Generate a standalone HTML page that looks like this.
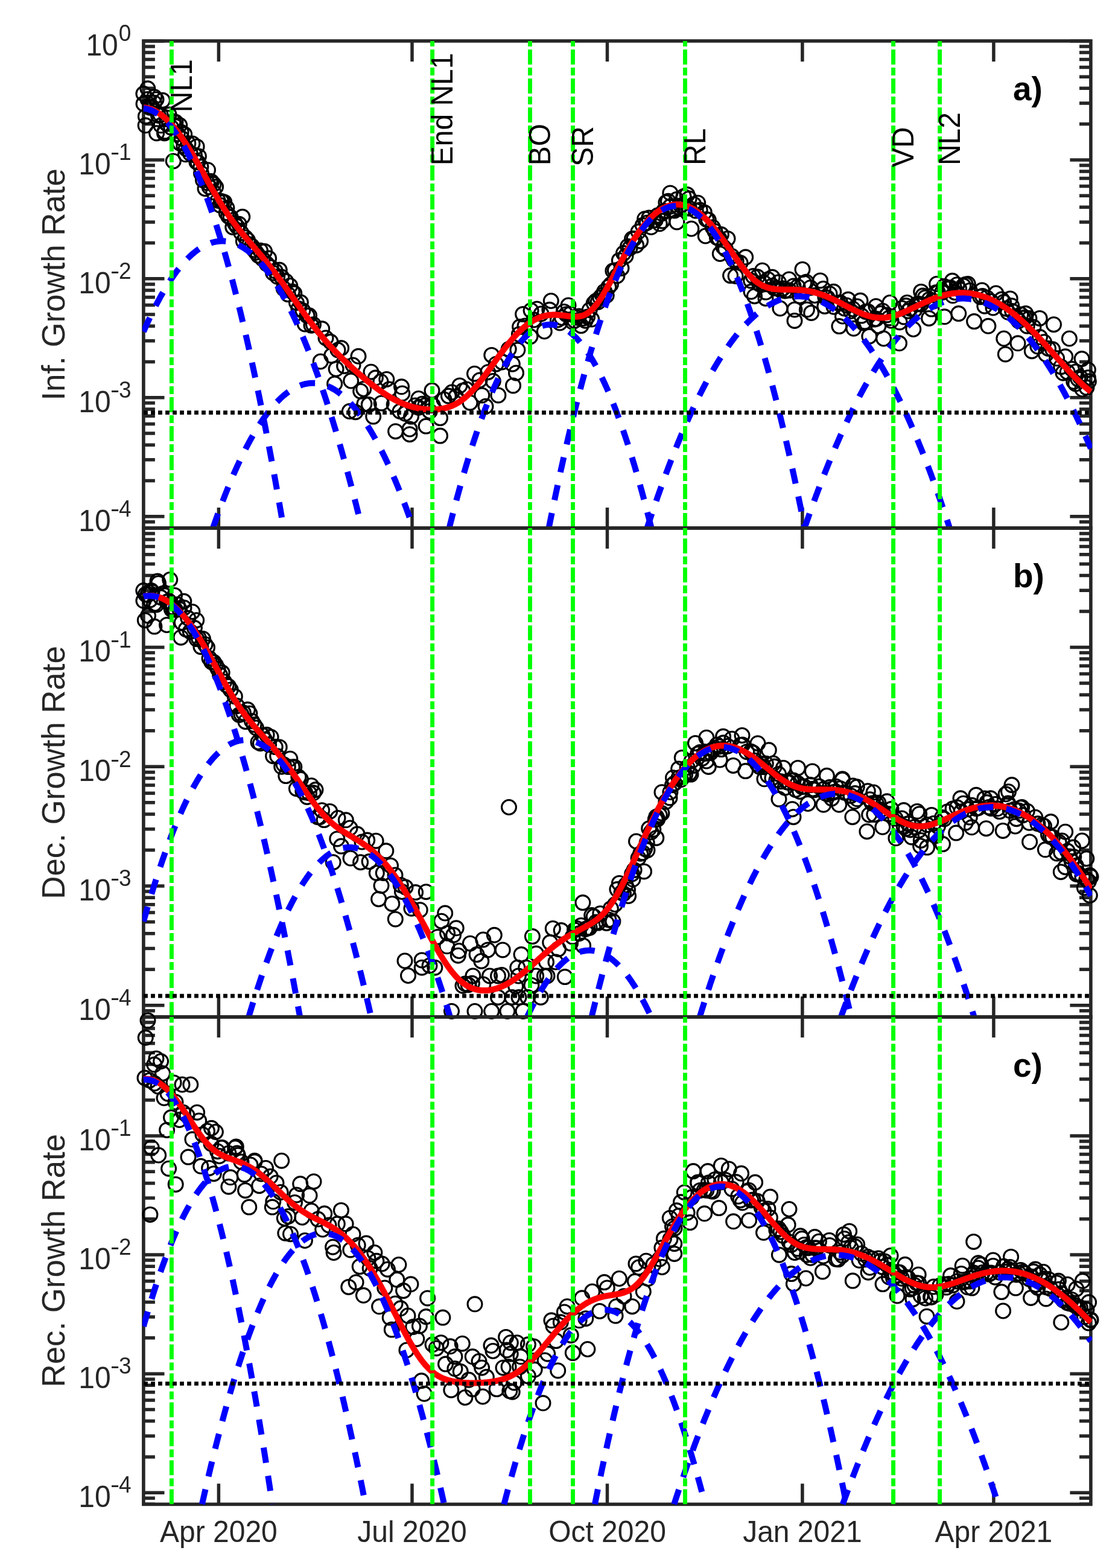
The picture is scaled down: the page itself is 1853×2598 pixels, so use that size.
<!DOCTYPE html><html><head><meta charset="utf-8"><style>html,body{margin:0;padding:0;background:#fff;}svg{display:block;}text{font-family:"Liberation Sans",Arial,Helvetica,sans-serif;}</style></head><body>
<svg xmlns="http://www.w3.org/2000/svg" width="1853" height="2598" viewBox="0 0 1853 2598">
<rect width="1853" height="2598" fill="#fff"/>
<defs><clipPath id="clipa"><rect x="235.9" y="65.9" width="1574" height="811"/></clipPath></defs>
<rect x="237.9" y="67.9" width="1570" height="807" fill="none" stroke="#262626" stroke-width="5.6"/>
<path d="M237.9,67.9H272.5 M1808,67.9H1773.4 M237.9,205.6H256.9 M1808,205.6H1789 M237.9,170.9H256.9 M1808,170.9H1789 M237.9,146.3H256.9 M1808,146.3H1789 M237.9,127.2H256.9 M1808,127.2H1789 M237.9,111.6H256.9 M1808,111.6H1789 M237.9,98.4H256.9 M1808,98.4H1789 M237.9,87H256.9 M1808,87H1789 M237.9,76.9H256.9 M1808,76.9H1789 M237.9,264.9H272.5 M1808,264.9H1773.4 M237.9,402.5H256.9 M1808,402.5H1789 M237.9,367.9H256.9 M1808,367.9H1789 M237.9,343.3H256.9 M1808,343.3H1789 M237.9,324.2H256.9 M1808,324.2H1789 M237.9,308.6H256.9 M1808,308.6H1789 M237.9,295.4H256.9 M1808,295.4H1789 M237.9,284H256.9 M1808,284H1789 M237.9,273.9H256.9 M1808,273.9H1789 M237.9,461.8H272.5 M1808,461.8H1773.4 M237.9,599.5H256.9 M1808,599.5H1789 M237.9,564.8H256.9 M1808,564.8H1789 M237.9,540.2H256.9 M1808,540.2H1789 M237.9,521.1H256.9 M1808,521.1H1789 M237.9,505.5H256.9 M1808,505.5H1789 M237.9,492.4H256.9 M1808,492.4H1789 M237.9,480.9H256.9 M1808,480.9H1789 M237.9,470.9H256.9 M1808,470.9H1789 M237.9,658.8H272.5 M1808,658.8H1773.4 M237.9,796.5H256.9 M1808,796.5H1789 M237.9,761.8H256.9 M1808,761.8H1789 M237.9,737.2H256.9 M1808,737.2H1789 M237.9,718.1H256.9 M1808,718.1H1789 M237.9,702.5H256.9 M1808,702.5H1789 M237.9,689.3H256.9 M1808,689.3H1789 M237.9,677.9H256.9 M1808,677.9H1789 M237.9,667.8H256.9 M1808,667.8H1789 M237.9,855.8H272.5 M1808,855.8H1773.4 M237.9,874.9H256.9 M1808,874.9H1789 M237.9,864.8H256.9 M1808,864.8H1789 M237.9,864.8H256.9 M1808,864.8H1789 M237.9,874.9H256.9 M1808,874.9H1789 M362.4,874.9V840.9 M362.4,67.9V101.9 M683,874.9V840.9 M683,67.9V101.9 M1006.5,874.9V840.9 M1006.5,67.9V101.9 M1329.9,874.9V840.9 M1329.9,67.9V101.9 M1646.9,874.9V840.9 M1646.9,67.9V101.9" stroke="#262626" stroke-width="5.5" fill="none"/>
<g fill="none" stroke="#000" stroke-width="3.1"><circle cx="237.9" cy="155.3" r="11.95"/><circle cx="241.4" cy="192.9" r="11.95"/><circle cx="244.9" cy="164.5" r="11.95"/><circle cx="248.5" cy="173.7" r="11.95"/><circle cx="252" cy="177.3" r="11.95"/><circle cx="255.5" cy="170.5" r="11.95"/><circle cx="259" cy="164.7" r="11.95"/><circle cx="262.5" cy="191.5" r="11.95"/><circle cx="266.1" cy="190.2" r="11.95"/><circle cx="269.6" cy="166.3" r="11.95"/><circle cx="273.1" cy="217.8" r="11.95"/><circle cx="276.6" cy="205.3" r="11.95"/><circle cx="280.1" cy="190.1" r="11.95"/><circle cx="283.7" cy="211.1" r="11.95"/><circle cx="287.2" cy="201.1" r="11.95"/><circle cx="290.7" cy="209.4" r="11.95"/><circle cx="294.2" cy="221.9" r="11.95"/><circle cx="297.7" cy="207.5" r="11.95"/><circle cx="301.3" cy="229.2" r="11.95"/><circle cx="304.8" cy="241.8" r="11.95"/><circle cx="308.3" cy="246.5" r="11.95"/><circle cx="311.8" cy="237.7" r="11.95"/><circle cx="315.3" cy="254.2" r="11.95"/><circle cx="318.9" cy="237.9" r="11.95"/><circle cx="322.4" cy="256.9" r="11.95"/><circle cx="325.9" cy="268.4" r="11.95"/><circle cx="329.4" cy="259" r="11.95"/><circle cx="332.9" cy="276.4" r="11.95"/><circle cx="336.5" cy="298.4" r="11.95"/><circle cx="340" cy="312.5" r="11.95"/><circle cx="343.5" cy="303" r="11.95"/><circle cx="347" cy="309.8" r="11.95"/><circle cx="350.5" cy="301" r="11.95"/><circle cx="354.1" cy="305.2" r="11.95"/><circle cx="357.6" cy="309.7" r="11.95"/><circle cx="361.1" cy="332.2" r="11.95"/><circle cx="364.6" cy="339.9" r="11.95"/><circle cx="368.2" cy="333.9" r="11.95"/><circle cx="371.7" cy="334.9" r="11.95"/><circle cx="375.2" cy="352.7" r="11.95"/><circle cx="378.7" cy="358.4" r="11.95"/><circle cx="382.2" cy="360" r="11.95"/><circle cx="385.8" cy="376.4" r="11.95"/><circle cx="389.3" cy="370.1" r="11.95"/><circle cx="392.8" cy="375.1" r="11.95"/><circle cx="396.3" cy="371.3" r="11.95"/><circle cx="399.8" cy="385.8" r="11.95"/><circle cx="403.4" cy="399.8" r="11.95"/><circle cx="406.9" cy="393.7" r="11.95"/><circle cx="410.4" cy="397.9" r="11.95"/><circle cx="413.9" cy="405" r="11.95"/><circle cx="417.4" cy="407.8" r="11.95"/><circle cx="421" cy="414" r="11.95"/><circle cx="424.5" cy="418.2" r="11.95"/><circle cx="428" cy="423.1" r="11.95"/><circle cx="431.5" cy="415.2" r="11.95"/><circle cx="435" cy="428.8" r="11.95"/><circle cx="438.6" cy="416.6" r="11.95"/><circle cx="442.1" cy="437.1" r="11.95"/><circle cx="445.6" cy="428.1" r="11.95"/><circle cx="449.1" cy="443" r="11.95"/><circle cx="452.6" cy="452.3" r="11.95"/><circle cx="456.2" cy="449" r="11.95"/><circle cx="459.7" cy="458.3" r="11.95"/><circle cx="463.2" cy="447.3" r="11.95"/><circle cx="466.7" cy="459.1" r="11.95"/><circle cx="470.2" cy="478.1" r="11.95"/><circle cx="473.8" cy="466" r="11.95"/><circle cx="477.3" cy="487.6" r="11.95"/><circle cx="480.8" cy="473.5" r="11.95"/><circle cx="484.3" cy="483" r="11.95"/><circle cx="487.8" cy="486.1" r="11.95"/><circle cx="491.4" cy="501.5" r="11.95"/><circle cx="494.9" cy="511.6" r="11.95"/><circle cx="498.4" cy="501.1" r="11.95"/><circle cx="501.9" cy="514.6" r="11.95"/><circle cx="505.4" cy="537" r="11.95"/><circle cx="509" cy="522.9" r="11.95"/><circle cx="512.5" cy="522.7" r="11.95"/><circle cx="516" cy="539.3" r="11.95"/><circle cx="519.5" cy="537.8" r="11.95"/><circle cx="924.4" cy="530" r="11.95"/><circle cx="927.9" cy="535" r="11.95"/><circle cx="931.4" cy="526.5" r="11.95"/><circle cx="934.9" cy="516.5" r="11.95"/><circle cx="938.4" cy="520.7" r="11.95"/><circle cx="942" cy="506" r="11.95"/><circle cx="945.5" cy="520.2" r="11.95"/><circle cx="949" cy="533.3" r="11.95"/><circle cx="952.5" cy="531.2" r="11.95"/><circle cx="956" cy="526.2" r="11.95"/><circle cx="959.6" cy="523.9" r="11.95"/><circle cx="963.1" cy="539.6" r="11.95"/><circle cx="966.6" cy="527.5" r="11.95"/><circle cx="970.1" cy="531.3" r="11.95"/><circle cx="973.6" cy="525" r="11.95"/><circle cx="977.2" cy="513.7" r="11.95"/><circle cx="980.7" cy="529" r="11.95"/><circle cx="984.2" cy="502.5" r="11.95"/><circle cx="987.7" cy="498.8" r="11.95"/><circle cx="991.2" cy="500.5" r="11.95"/><circle cx="994.8" cy="493.1" r="11.95"/><circle cx="998.3" cy="489" r="11.95"/><circle cx="1001.8" cy="482.9" r="11.95"/><circle cx="1005.3" cy="489.4" r="11.95"/><circle cx="1008.8" cy="475.4" r="11.95"/><circle cx="1012.4" cy="471.2" r="11.95"/><circle cx="1015.9" cy="448.7" r="11.95"/><circle cx="1019.4" cy="448" r="11.95"/><circle cx="1022.9" cy="457" r="11.95"/><circle cx="1026.4" cy="431.4" r="11.95"/><circle cx="1030" cy="444.4" r="11.95"/><circle cx="1033.5" cy="419.6" r="11.95"/><circle cx="1037" cy="424.2" r="11.95"/><circle cx="1040.5" cy="408.3" r="11.95"/><circle cx="1044" cy="410.9" r="11.95"/><circle cx="1047.6" cy="395.8" r="11.95"/><circle cx="1051.1" cy="395.5" r="11.95"/><circle cx="1054.6" cy="406.4" r="11.95"/><circle cx="1058.1" cy="383.8" r="11.95"/><circle cx="1061.6" cy="399.4" r="11.95"/><circle cx="1065.2" cy="373.3" r="11.95"/><circle cx="1068.7" cy="362.7" r="11.95"/><circle cx="1072.2" cy="369.2" r="11.95"/><circle cx="1075.7" cy="361.1" r="11.95"/><circle cx="1079.2" cy="376.3" r="11.95"/><circle cx="1082.8" cy="365.1" r="11.95"/><circle cx="1086.3" cy="364.8" r="11.95"/><circle cx="1089.8" cy="357.1" r="11.95"/><circle cx="1093.3" cy="370.8" r="11.95"/><circle cx="1096.9" cy="353.7" r="11.95"/><circle cx="1100.4" cy="349.4" r="11.95"/><circle cx="1103.9" cy="335.5" r="11.95"/><circle cx="1107.4" cy="333.3" r="11.95"/><circle cx="1110.9" cy="342" r="11.95"/><circle cx="1114.5" cy="348.4" r="11.95"/><circle cx="1118" cy="348.9" r="11.95"/><circle cx="1121.5" cy="330.5" r="11.95"/><circle cx="1125" cy="343.4" r="11.95"/><circle cx="1128.5" cy="340.8" r="11.95"/><circle cx="1135.6" cy="344.9" r="11.95"/><circle cx="1139.1" cy="322.6" r="11.95"/><circle cx="1142.6" cy="345.3" r="11.95"/><circle cx="1149.7" cy="338.4" r="11.95"/><circle cx="1153.2" cy="349.1" r="11.95"/><circle cx="1156.7" cy="336.2" r="11.95"/><circle cx="1160.2" cy="348.1" r="11.95"/><circle cx="1167.3" cy="351.9" r="11.95"/><circle cx="1170.8" cy="363.4" r="11.95"/><circle cx="1174.3" cy="364.5" r="11.95"/><circle cx="1181.3" cy="376.7" r="11.95"/><circle cx="1184.9" cy="383.3" r="11.95"/><circle cx="1188.4" cy="393.7" r="11.95"/><circle cx="1191.9" cy="395.1" r="11.95"/><circle cx="1195.4" cy="388.6" r="11.95"/><circle cx="1198.9" cy="409.3" r="11.95"/><circle cx="1202.5" cy="412.9" r="11.95"/><circle cx="1206" cy="395.4" r="11.95"/><circle cx="1213" cy="424.6" r="11.95"/><circle cx="1216.5" cy="430.7" r="11.95"/><circle cx="1220.1" cy="432.4" r="11.95"/><circle cx="1227.1" cy="435.5" r="11.95"/><circle cx="1244.7" cy="465.1" r="11.95"/><circle cx="1248.2" cy="457.6" r="11.95"/><circle cx="1255.3" cy="458.8" r="11.95"/><circle cx="1258.8" cy="470.7" r="11.95"/><circle cx="1265.8" cy="468.4" r="11.95"/><circle cx="1269.3" cy="484.1" r="11.95"/><circle cx="1272.9" cy="463" r="11.95"/><circle cx="1279.9" cy="473.6" r="11.95"/><circle cx="1283.4" cy="477.5" r="11.95"/><circle cx="1286.9" cy="477.6" r="11.95"/><circle cx="1290.5" cy="467.7" r="11.95"/><circle cx="1294" cy="480.6" r="11.95"/><circle cx="1297.5" cy="478" r="11.95"/><circle cx="1301" cy="481.9" r="11.95"/><circle cx="1308.1" cy="481.1" r="11.95"/><circle cx="1315.1" cy="473.9" r="11.95"/><circle cx="1322.1" cy="475" r="11.95"/><circle cx="1325.7" cy="490.6" r="11.95"/><circle cx="1332.7" cy="468.8" r="11.95"/><circle cx="1336.2" cy="467.2" r="11.95"/><circle cx="1343.3" cy="476.7" r="11.95"/><circle cx="1350.3" cy="489.5" r="11.95"/><circle cx="1364.4" cy="478.5" r="11.95"/><circle cx="1367.9" cy="492.4" r="11.95"/><circle cx="1371.4" cy="493.5" r="11.95"/><circle cx="1375" cy="486.7" r="11.95"/><circle cx="1382" cy="508.3" r="11.95"/><circle cx="1389" cy="502.3" r="11.95"/><circle cx="1392.6" cy="501.3" r="11.95"/><circle cx="1399.6" cy="511" r="11.95"/><circle cx="1403.1" cy="506" r="11.95"/><circle cx="1410.2" cy="515.5" r="11.95"/><circle cx="1413.7" cy="512" r="11.95"/><circle cx="1420.7" cy="507.7" r="11.95"/><circle cx="1427.8" cy="523.1" r="11.95"/><circle cx="1431.3" cy="535.2" r="11.95"/><circle cx="1434.8" cy="516.5" r="11.95"/><circle cx="1438.3" cy="515.9" r="11.95"/><circle cx="1448.9" cy="529.1" r="11.95"/><circle cx="1452.4" cy="528.3" r="11.95"/><circle cx="1455.9" cy="540.2" r="11.95"/><circle cx="1459.4" cy="519.3" r="11.95"/><circle cx="1463" cy="515.2" r="11.95"/><circle cx="1470" cy="521.9" r="11.95"/><circle cx="1473.5" cy="526.9" r="11.95"/><circle cx="1477" cy="531.3" r="11.95"/><circle cx="1491.1" cy="533.9" r="11.95"/><circle cx="1494.6" cy="510.7" r="11.95"/><circle cx="1498.2" cy="525.1" r="11.95"/><circle cx="1501.7" cy="506.6" r="11.95"/><circle cx="1505.2" cy="515.3" r="11.95"/><circle cx="1508.7" cy="511.2" r="11.95"/><circle cx="1515.8" cy="513.4" r="11.95"/><circle cx="1519.3" cy="504" r="11.95"/><circle cx="1522.8" cy="503.4" r="11.95"/><circle cx="1526.3" cy="504.2" r="11.95"/><circle cx="1529.8" cy="490.1" r="11.95"/><circle cx="1533.4" cy="493.1" r="11.95"/><circle cx="1540.4" cy="495.9" r="11.95"/><circle cx="1543.9" cy="512.1" r="11.95"/><circle cx="1547.4" cy="498.9" r="11.95"/><circle cx="1551" cy="484.7" r="11.95"/><circle cx="1554.5" cy="484.8" r="11.95"/><circle cx="1561.5" cy="484.4" r="11.95"/><circle cx="1565" cy="474.4" r="11.95"/><circle cx="1568.6" cy="478.2" r="11.95"/><circle cx="1572.1" cy="477.2" r="11.95"/><circle cx="1575.6" cy="476.8" r="11.95"/><circle cx="1579.1" cy="489.8" r="11.95"/><circle cx="1582.7" cy="484.5" r="11.95"/><circle cx="1586.2" cy="471.7" r="11.95"/><circle cx="1589.7" cy="479.1" r="11.95"/><circle cx="1596.7" cy="473.6" r="11.95"/><circle cx="1600.3" cy="471.3" r="11.95"/><circle cx="1607.3" cy="481.5" r="11.95"/><circle cx="1624.9" cy="491.9" r="11.95"/><circle cx="1628.4" cy="490.4" r="11.95"/><circle cx="1631.9" cy="507.2" r="11.95"/><circle cx="1635.5" cy="493.4" r="11.95"/><circle cx="1642.5" cy="499.3" r="11.95"/><circle cx="1646" cy="510" r="11.95"/><circle cx="1660.1" cy="496.1" r="11.95"/><circle cx="1663.6" cy="500.5" r="11.95"/><circle cx="1667.1" cy="511.2" r="11.95"/><circle cx="1670.7" cy="517.3" r="11.95"/><circle cx="1674.2" cy="494.9" r="11.95"/><circle cx="1677.7" cy="515.6" r="11.95"/><circle cx="1684.7" cy="526.8" r="11.95"/><circle cx="1688.3" cy="531.6" r="11.95"/><circle cx="1691.8" cy="521.1" r="11.95"/><circle cx="1695.3" cy="526.9" r="11.95"/><circle cx="1698.8" cy="526.1" r="11.95"/><circle cx="1702.3" cy="540.2" r="11.95"/><circle cx="1705.9" cy="527.6" r="11.95"/><circle cx="1712.9" cy="542" r="11.95"/><circle cx="1719.9" cy="574" r="11.95"/><circle cx="1723.5" cy="558.6" r="11.95"/><circle cx="1730.5" cy="566.7" r="11.95"/><circle cx="1737.5" cy="577.5" r="11.95"/><circle cx="1744.6" cy="578.8" r="11.95"/><circle cx="1751.6" cy="593.8" r="11.95"/><circle cx="1758.7" cy="607.7" r="11.95"/><circle cx="1765.7" cy="590.8" r="11.95"/><circle cx="1769.2" cy="616.5" r="11.95"/><circle cx="1776.3" cy="611.3" r="11.95"/><circle cx="1779.8" cy="632.3" r="11.95"/><circle cx="1783.3" cy="615.9" r="11.95"/><circle cx="1786.8" cy="627.9" r="11.95"/><circle cx="1790.3" cy="625" r="11.95"/><circle cx="1793.9" cy="644.8" r="11.95"/><circle cx="1800.9" cy="642.1" r="11.95"/><circle cx="1804.4" cy="632" r="11.95"/><circle cx="533.7" cy="544.8" r="11.95"/><circle cx="547.9" cy="566.3" r="11.95"/><circle cx="565.7" cy="576.8" r="11.95"/><circle cx="531.2" cy="599" r="11.95"/><circle cx="549.7" cy="589.1" r="11.95"/><circle cx="594" cy="590.3" r="11.95"/><circle cx="557.1" cy="611.3" r="11.95"/><circle cx="570.6" cy="606.4" r="11.95"/><circle cx="554.6" cy="635.9" r="11.95"/><circle cx="581.7" cy="631" r="11.95"/><circle cx="602.7" cy="644.5" r="11.95"/><circle cx="597.7" cy="648.2" r="11.95"/><circle cx="615" cy="616.2" r="11.95"/><circle cx="622.4" cy="626.1" r="11.95"/><circle cx="631" cy="632.2" r="11.95"/><circle cx="640.8" cy="628.5" r="11.95"/><circle cx="665.5" cy="640.8" r="11.95"/><circle cx="666.7" cy="651.9" r="11.95"/><circle cx="603.9" cy="669.2" r="11.95"/><circle cx="611.3" cy="670.4" r="11.95"/><circle cx="632.2" cy="667.9" r="11.95"/><circle cx="579.3" cy="681.5" r="11.95"/><circle cx="589.1" cy="682.7" r="11.95"/><circle cx="618.7" cy="690.1" r="11.95"/><circle cx="653.2" cy="670.4" r="11.95"/><circle cx="663" cy="681.5" r="11.95"/><circle cx="671.6" cy="685.2" r="11.95"/><circle cx="693.8" cy="660.5" r="11.95"/><circle cx="716" cy="647" r="11.95"/><circle cx="700" cy="669.2" r="11.95"/><circle cx="693.8" cy="675.3" r="11.95"/><circle cx="704.9" cy="671.6" r="11.95"/><circle cx="717.2" cy="671.6" r="11.95"/><circle cx="712.3" cy="681.5" r="11.95"/><circle cx="681.5" cy="690.1" r="11.95"/><circle cx="655.6" cy="714.7" r="11.95"/><circle cx="679" cy="711" r="11.95"/><circle cx="679" cy="719.7" r="11.95"/><circle cx="706.1" cy="706.1" r="11.95"/><circle cx="729.5" cy="692.6" r="11.95"/><circle cx="729.5" cy="722.1" r="11.95"/><circle cx="540" cy="560" r="11.95"/><circle cx="560" cy="580" r="11.95"/><circle cx="585" cy="605" r="11.95"/><circle cx="645" cy="645" r="11.95"/><circle cx="688" cy="672" r="11.95"/><circle cx="743.4" cy="656.1" r="11.95"/><circle cx="761.9" cy="638.9" r="11.95"/><circle cx="766.8" cy="647.5" r="11.95"/><circle cx="755.7" cy="657.3" r="11.95"/><circle cx="786.5" cy="619.2" r="11.95"/><circle cx="808.7" cy="616.7" r="11.95"/><circle cx="814.8" cy="588.4" r="11.95"/><circle cx="822.2" cy="603.2" r="11.95"/><circle cx="843.2" cy="578.5" r="11.95"/><circle cx="857.9" cy="579.8" r="11.95"/><circle cx="849.3" cy="603.2" r="11.95"/><circle cx="855.5" cy="617.9" r="11.95"/><circle cx="850.5" cy="638.9" r="11.95"/><circle cx="825.9" cy="654.9" r="11.95"/><circle cx="817.3" cy="631.5" r="11.95"/><circle cx="798.8" cy="654.9" r="11.95"/><circle cx="779.1" cy="667.2" r="11.95"/><circle cx="805" cy="673.3" r="11.95"/><circle cx="866.6" cy="520.6" r="11.95"/><circle cx="861.6" cy="541.6" r="11.95"/><circle cx="860.4" cy="553.9" r="11.95"/><circle cx="878.9" cy="557.6" r="11.95"/><circle cx="890" cy="512" r="11.95"/><circle cx="913.3" cy="498.5" r="11.95"/><circle cx="902.3" cy="549" r="11.95"/><circle cx="910.9" cy="513.3" r="11.95"/><circle cx="880.1" cy="514.5" r="11.95"/><circle cx="736" cy="662" r="11.95"/><circle cx="749" cy="650" r="11.95"/><circle cx="773" cy="645" r="11.95"/><circle cx="795" cy="630" r="11.95"/><circle cx="832" cy="600" r="11.95"/><circle cx="870" cy="540" r="11.95"/><circle cx="885" cy="530" r="11.95"/><circle cx="897" cy="520" r="11.95"/><circle cx="244.8" cy="146.8" r="11.95"/><circle cx="255.9" cy="160.7" r="11.95"/><circle cx="238" cy="172" r="11.95"/><circle cx="248.5" cy="178.2" r="11.95"/><circle cx="241.1" cy="207.8" r="11.95"/><circle cx="259.6" cy="220.7" r="11.95"/><circle cx="272.5" cy="220.7" r="11.95"/><circle cx="266.9" cy="207.8" r="11.95"/><circle cx="276.2" cy="194.9" r="11.95"/><circle cx="287.3" cy="266.9" r="11.95"/><circle cx="291" cy="202.3" r="11.95"/><circle cx="300.2" cy="218.9" r="11.95"/><circle cx="305.7" cy="222.6" r="11.95"/><circle cx="298.4" cy="237.4" r="11.95"/><circle cx="307.6" cy="255.8" r="11.95"/><circle cx="326.1" cy="242.9" r="11.95"/><circle cx="327.9" cy="268.8" r="11.95"/><circle cx="333.5" cy="287.2" r="11.95"/><circle cx="344.5" cy="281.7" r="11.95"/><circle cx="348.2" cy="300.2" r="11.95"/><circle cx="353.8" cy="318.6" r="11.95"/><circle cx="366.7" cy="333.4" r="11.95"/><circle cx="375.9" cy="344.5" r="11.95"/><circle cx="401.8" cy="359.3" r="11.95"/><circle cx="1169.2" cy="391" r="11.95"/><circle cx="1193.3" cy="420.5" r="11.95"/><circle cx="1219.1" cy="457.5" r="11.95"/><circle cx="1235.7" cy="426.1" r="11.95"/><circle cx="1245" cy="483.3" r="11.95"/><circle cx="1250.5" cy="490.7" r="11.95"/><circle cx="1269" cy="494.4" r="11.95"/><circle cx="1263.5" cy="448.2" r="11.95"/><circle cx="1280.1" cy="459.3" r="11.95"/><circle cx="1293" cy="511" r="11.95"/><circle cx="1307.8" cy="463" r="11.95"/><circle cx="1330" cy="446.4" r="11.95"/><circle cx="1317" cy="512.9" r="11.95"/><circle cx="1317" cy="531.4" r="11.95"/><circle cx="1337.4" cy="512.9" r="11.95"/><circle cx="1344.7" cy="518.4" r="11.95"/><circle cx="1359.5" cy="464.9" r="11.95"/><circle cx="1366.9" cy="507.4" r="11.95"/><circle cx="1381.7" cy="483.3" r="11.95"/><circle cx="1390.9" cy="540.6" r="11.95"/><circle cx="1414.9" cy="544.3" r="11.95"/><circle cx="1405.7" cy="496.3" r="11.95"/><circle cx="1426" cy="498.1" r="11.95"/><circle cx="1440.8" cy="557.2" r="11.95"/><circle cx="1451.9" cy="507.4" r="11.95"/><circle cx="1396.5" cy="524" r="11.95"/><circle cx="1433.4" cy="533.2" r="11.95"/><circle cx="1539.6" cy="527.4" r="11.95"/><circle cx="1565.5" cy="524.8" r="11.95"/><circle cx="1588.8" cy="519.6" r="11.95"/><circle cx="1614.6" cy="532.6" r="11.95"/><circle cx="1637.9" cy="540.3" r="11.95"/><circle cx="1663.8" cy="561" r="11.95"/><circle cx="1666.4" cy="586.9" r="11.95"/><circle cx="1687" cy="568.8" r="11.95"/><circle cx="1710.3" cy="581.7" r="11.95"/><circle cx="1733.6" cy="586.9" r="11.95"/><circle cx="1762" cy="617.9" r="11.95"/><circle cx="1782.7" cy="636" r="11.95"/><circle cx="1803.4" cy="625.7" r="11.95"/><circle cx="1475" cy="501.5" r="11.95"/><circle cx="1503.4" cy="501.5" r="11.95"/><circle cx="1526.7" cy="483.4" r="11.95"/><circle cx="1552.6" cy="470.5" r="11.95"/><circle cx="1578.4" cy="465.3" r="11.95"/><circle cx="1604.3" cy="470.5" r="11.95"/><circle cx="1627.6" cy="480.9" r="11.95"/><circle cx="1650.8" cy="486" r="11.95"/><circle cx="1676.7" cy="506.7" r="11.95"/><circle cx="1700" cy="519.6" r="11.95"/><circle cx="1723.2" cy="527.4" r="11.95"/><circle cx="1746.5" cy="537.7" r="11.95"/><circle cx="1772.4" cy="561" r="11.95"/><circle cx="1793.1" cy="594.6" r="11.95"/><circle cx="1803.4" cy="612.7" r="11.95"/><circle cx="1464.6" cy="561" r="11.95"/><circle cx="1490.5" cy="568.8" r="11.95"/><circle cx="1513.8" cy="545.5" r="11.95"/><circle cx="1110.8" cy="319.9" r="11.95"/><circle cx="1133" cy="325.4" r="11.95"/><circle cx="1142.2" cy="329.1" r="11.95"/><circle cx="1121.9" cy="367.9" r="11.95"/><circle cx="1097.9" cy="366.1" r="11.95"/><circle cx="1145.9" cy="379" r="11.95"/><circle cx="1210.6" cy="456.6" r="11.95"/></g>
<g clip-path="url(#clipa)">
<path d="M237.9,178.2 L238.9,178.3 L239.9,178.4 L240.9,178.5 L241.9,178.7 L242.9,178.8 L243.9,179 L244.9,179.3 L245.9,179.5 L246.9,179.8 L247.9,180.1 L248.9,180.4 L249.9,180.7 L250.9,181.1 L251.9,181.5 L252.9,181.9 L253.9,182.3 L254.9,182.8 L255.9,183.3 L256.9,183.8 L257.9,184.3 L258.9,184.8 L259.9,185.4 L260.9,186 L261.9,186.6 L262.9,187.3 L263.9,187.9 L264.9,188.6 L265.9,189.3 L266.9,190.1 L267.9,190.8 L268.9,191.6 L269.9,192.4 L270.9,193.2 L271.9,194.1 L272.9,194.9 L273.9,195.8 L274.9,196.7 L275.9,197.6 L276.9,198.6 L277.9,199.6 L278.9,200.6 L279.9,201.6 L280.9,202.6 L281.9,203.7 L282.9,204.7 L283.9,205.8 L284.9,207 L285.9,208.1 L286.9,209.2 L287.9,210.4 L288.9,211.6 L289.9,212.8 L290.9,214.1 L291.9,215.3 L292.9,216.6 L293.9,217.9 L294.9,219.2 L295.9,220.5 L296.9,221.9 L297.9,223.2 L298.9,224.6 L299.9,226 L300.9,227.4 L301.9,228.9 L302.9,230.3 L303.9,231.8 L304.9,233.2 L305.9,234.7 L306.9,236.3 L307.9,237.8 L308.9,239.3 L309.9,240.9 L310.9,242.4 L311.9,244 L312.9,245.6 L313.9,247.2 L314.9,248.9 L315.9,250.5 L316.9,252.1 L317.9,253.8 L318.9,255.5 L319.9,257.1 L320.9,258.8 L321.9,260.5 L322.9,262.2 L323.9,263.9 L324.9,265.7 L325.9,267.4 L326.9,269.1 L327.9,270.9 L328.9,272.6 L329.9,274.4 L330.9,276.2 L331.9,277.9 L332.9,279.7 L333.9,281.5 L334.9,283.3 L335.9,285 L336.9,286.8 L337.9,288.6 L338.9,290.4 L339.9,292.2 L340.9,294 L341.9,295.8 L342.9,297.6 L343.9,299.3 L344.9,301.1 L345.9,302.9 L346.9,304.7 L347.9,306.4 L348.9,308.2 L349.9,310 L350.9,311.7 L351.9,313.5 L352.9,315.2 L353.9,317 L354.9,318.7 L355.9,320.4 L356.9,322.1 L357.9,323.8 L358.9,325.5 L359.9,327.2 L360.9,328.9 L361.9,330.5 L362.9,332.2 L363.9,333.8 L364.9,335.5 L365.9,337.1 L366.9,338.7 L367.9,340.3 L368.9,341.9 L369.9,343.5 L370.9,345 L371.9,346.6 L372.9,348.1 L373.9,349.6 L374.9,351.1 L375.9,352.6 L376.9,354.1 L377.9,355.5 L378.9,357 L379.9,358.4 L380.9,359.9 L381.9,361.3 L382.9,362.7 L383.9,364.1 L384.9,365.5 L385.9,366.8 L386.9,368.2 L387.9,369.5 L388.9,370.8 L389.9,372.2 L390.9,373.5 L391.9,374.8 L392.9,376.1 L393.9,377.3 L394.9,378.6 L395.9,379.9 L396.9,381.1 L397.9,382.4 L398.9,383.6 L399.9,384.8 L400.9,386 L401.9,387.2 L402.9,388.5 L403.9,389.7 L404.9,390.8 L405.9,392 L406.9,393.2 L407.9,394.4 L408.9,395.6 L409.9,396.8 L410.9,397.9 L411.9,399.1 L412.9,400.3 L413.9,401.4 L414.9,402.6 L415.9,403.7 L416.9,404.9 L417.9,406.1 L418.9,407.2 L419.9,408.4 L420.9,409.5 L421.9,410.7 L422.9,411.9 L423.9,413 L424.9,414.2 L425.9,415.4 L426.9,416.5 L427.9,417.7 L428.9,418.9 L429.9,420.1 L430.9,421.2 L431.9,422.4 L432.9,423.6 L433.9,424.8 L434.9,426 L435.9,427.2 L436.9,428.4 L437.9,429.6 L438.9,430.9 L439.9,432.1 L440.9,433.3 L441.9,434.5 L442.9,435.8 L443.9,437 L444.9,438.3 L445.9,439.5 L446.9,440.8 L447.9,442.1 L448.9,443.3 L449.9,444.6 L450.9,445.9 L451.9,447.2 L452.9,448.5 L453.9,449.8 L454.9,451.1 L455.9,452.4 L456.9,453.7 L457.9,455 L458.9,456.4 L459.9,457.7 L460.9,459 L461.9,460.4 L462.9,461.7 L463.9,463.1 L464.9,464.4 L465.9,465.8 L466.9,467.2 L467.9,468.5 L468.9,469.9 L469.9,471.3 L470.9,472.7 L471.9,474.1 L472.9,475.4 L473.9,476.8 L474.9,478.2 L475.9,479.6 L476.9,481 L477.9,482.4 L478.9,483.8 L479.9,485.3 L480.9,486.7 L481.9,488.1 L482.9,489.5 L483.9,490.9 L484.9,492.3 L485.9,493.7 L486.9,495.2 L487.9,496.6 L488.9,498 L489.9,499.4 L490.9,500.8 L491.9,502.2 L492.9,503.7 L493.9,505.1 L494.9,506.5 L495.9,507.9 L496.9,509.3 L497.9,510.7 L498.9,512.1 L499.9,513.5 L500.9,514.9 L501.9,516.3 L502.9,517.7 L503.9,519.1 L504.9,520.5 L505.9,521.8 L506.9,523.2 L507.9,524.6 L508.9,525.9 L509.9,527.3 L510.9,528.6 L511.9,530 L512.9,531.3 L513.9,532.7 L514.9,534 L515.9,535.3 L516.9,536.7 L517.9,538 L518.9,539.3 L519.9,540.6 L520.9,541.9 L521.9,543.2 L522.9,544.4 L523.9,545.7 L524.9,547 L525.9,548.2 L526.9,549.5 L527.9,550.7 L528.9,551.9 L529.9,553.2 L530.9,554.4 L531.9,555.6 L532.9,556.8 L533.9,558 L534.9,559.2 L535.9,560.4 L536.9,561.6 L537.9,562.7 L538.9,563.9 L539.9,565 L540.9,566.2 L541.9,567.3 L542.9,568.4 L543.9,569.6 L544.9,570.7 L545.9,571.8 L546.9,572.9 L547.9,574 L548.9,575.1 L549.9,576.1 L550.9,577.2 L551.9,578.3 L552.9,579.3 L553.9,580.4 L554.9,581.4 L555.9,582.5 L556.9,583.5 L557.9,584.6 L558.9,585.6 L559.9,586.6 L560.9,587.6 L561.9,588.6 L562.9,589.6 L563.9,590.6 L564.9,591.6 L565.9,592.6 L566.9,593.6 L567.9,594.5 L568.9,595.5 L569.9,596.5 L570.9,597.4 L571.9,598.4 L572.9,599.3 L573.9,600.3 L574.9,601.2 L575.9,602.2 L576.9,603.1 L577.9,604 L578.9,605 L579.9,605.9 L580.9,606.8 L581.9,607.7 L582.9,608.6 L583.9,609.6 L584.9,610.5 L585.9,611.4 L586.9,612.3 L587.9,613.2 L588.9,614.1 L589.9,614.9 L590.9,615.8 L591.9,616.7 L592.9,617.6 L593.9,618.5 L594.9,619.3 L595.9,620.2 L596.9,621.1 L597.9,621.9 L598.9,622.8 L599.9,623.6 L600.9,624.5 L601.9,625.3 L602.9,626.2 L603.9,627 L604.9,627.9 L605.9,628.7 L606.9,629.5 L607.9,630.3 L608.9,631.2 L609.9,632 L610.9,632.8 L611.9,633.6 L612.9,634.4 L613.9,635.2 L614.9,636 L615.9,636.8 L616.9,637.6 L617.9,638.3 L618.9,639.1 L619.9,639.9 L620.9,640.7 L621.9,641.4 L622.9,642.2 L623.9,642.9 L624.9,643.7 L625.9,644.4 L626.9,645.1 L627.9,645.8 L628.9,646.6 L629.9,647.3 L630.9,648 L631.9,648.7 L632.9,649.4 L633.9,650.1 L634.9,650.7 L635.9,651.4 L636.9,652.1 L637.9,652.7 L638.9,653.4 L639.9,654 L640.9,654.7 L641.9,655.3 L642.9,655.9 L643.9,656.5 L644.9,657.1 L645.9,657.7 L646.9,658.3 L647.9,658.9 L648.9,659.5 L649.9,660 L650.9,660.6 L651.9,661.1 L652.9,661.7 L653.9,662.2 L654.9,662.7 L655.9,663.3 L656.9,663.8 L657.9,664.3 L658.9,664.8 L659.9,665.2 L660.9,665.7 L661.9,666.2 L662.9,666.6 L663.9,667.1 L664.9,667.5 L665.9,668 L666.9,668.4 L667.9,668.8 L668.9,669.2 L669.9,669.6 L670.9,670 L671.9,670.4 L672.9,670.7 L673.9,671.1 L674.9,671.4 L675.9,671.8 L676.9,672.1 L677.9,672.5 L678.9,672.8 L679.9,673.1 L680.9,673.4 L681.9,673.7 L682.9,674 L683.9,674.2 L684.9,674.5 L685.9,674.8 L686.9,675 L687.9,675.3 L688.9,675.5 L689.9,675.7 L690.9,675.9 L691.9,676.2 L692.9,676.4 L693.9,676.6 L694.9,676.7 L695.9,676.9 L696.9,677.1 L697.9,677.2 L698.9,677.4 L699.9,677.5 L700.9,677.7 L701.9,677.8 L702.9,677.9 L703.9,678 L704.9,678.1 L705.9,678.2 L706.9,678.3 L707.9,678.4 L708.9,678.5 L709.9,678.5 L710.9,678.6 L711.9,678.6 L712.9,678.7 L713.9,678.7 L714.9,678.7 L715.9,678.7 L716.9,678.7 L717.9,678.7 L718.9,678.7 L719.9,678.6 L720.9,678.6 L721.9,678.5 L722.9,678.5 L723.9,678.4 L724.9,678.3 L725.9,678.2 L726.9,678.1 L727.9,678 L728.9,677.9 L729.9,677.7 L730.9,677.6 L731.9,677.4 L732.9,677.2 L733.9,677 L734.9,676.8 L735.9,676.6 L736.9,676.4 L737.9,676.1 L738.9,675.9 L739.9,675.6 L740.9,675.3 L741.9,675 L742.9,674.7 L743.9,674.4 L744.9,674 L745.9,673.7 L746.9,673.3 L747.9,672.9 L748.9,672.5 L749.9,672.1 L750.9,671.6 L751.9,671.1 L752.9,670.7 L753.9,670.2 L754.9,669.6 L755.9,669.1 L756.9,668.6 L757.9,668 L758.9,667.4 L759.9,666.8 L760.9,666.1 L761.9,665.5 L762.9,664.8 L763.9,664.1 L764.9,663.4 L765.9,662.7 L766.9,661.9 L767.9,661.2 L768.9,660.4 L769.9,659.6 L770.9,658.7 L771.9,657.9 L772.9,657 L773.9,656.1 L774.9,655.2 L775.9,654.3 L776.9,653.3 L777.9,652.4 L778.9,651.4 L779.9,650.4 L780.9,649.4 L781.9,648.3 L782.9,647.3 L783.9,646.2 L784.9,645.1 L785.9,644 L786.9,642.9 L787.9,641.7 L788.9,640.6 L789.9,639.4 L790.9,638.2 L791.9,637 L792.9,635.8 L793.9,634.6 L794.9,633.3 L795.9,632.1 L796.9,630.8 L797.9,629.5 L798.9,628.2 L799.9,626.9 L800.9,625.6 L801.9,624.3 L802.9,623 L803.9,621.6 L804.9,620.3 L805.9,619 L806.9,617.6 L807.9,616.2 L808.9,614.9 L809.9,613.5 L810.9,612.1 L811.9,610.8 L812.9,609.4 L813.9,608 L814.9,606.6 L815.9,605.2 L816.9,603.8 L817.9,602.4 L818.9,601.1 L819.9,599.7 L820.9,598.3 L821.9,596.9 L822.9,595.5 L823.9,594.2 L824.9,592.8 L825.9,591.4 L826.9,590 L827.9,588.7 L828.9,587.3 L829.9,586 L830.9,584.6 L831.9,583.3 L832.9,582 L833.9,580.7 L834.9,579.4 L835.9,578 L836.9,576.8 L837.9,575.5 L838.9,574.2 L839.9,572.9 L840.9,571.7 L841.9,570.4 L842.9,569.2 L843.9,568 L844.9,566.8 L845.9,565.6 L846.9,564.4 L847.9,563.2 L848.9,562 L849.9,560.9 L850.9,559.8 L851.9,558.6 L852.9,557.5 L853.9,556.4 L854.9,555.4 L855.9,554.3 L856.9,553.3 L857.9,552.2 L858.9,551.2 L859.9,550.2 L860.9,549.2 L861.9,548.2 L862.9,547.3 L863.9,546.4 L864.9,545.4 L865.9,544.5 L866.9,543.6 L867.9,542.8 L868.9,541.9 L869.9,541.1 L870.9,540.3 L871.9,539.4 L872.9,538.7 L873.9,537.9 L874.9,537.1 L875.9,536.4 L876.9,535.7 L877.9,535 L878.9,534.3 L879.9,533.6 L880.9,533 L881.9,532.4 L882.9,531.8 L883.9,531.2 L884.9,530.6 L885.9,530.1 L886.9,529.5 L887.9,529 L888.9,528.5 L889.9,528 L890.9,527.6 L891.9,527.1 L892.9,526.7 L893.9,526.3 L894.9,525.9 L895.9,525.5 L896.9,525.2 L897.9,524.8 L898.9,524.5 L899.9,524.2 L900.9,523.9 L901.9,523.6 L902.9,523.4 L903.9,523.2 L904.9,522.9 L905.9,522.7 L906.9,522.6 L907.9,522.4 L908.9,522.2 L909.9,522.1 L910.9,522 L911.9,521.9 L912.9,521.8 L913.9,521.7 L914.9,521.7 L915.9,521.6 L916.9,521.6 L917.9,521.6 L918.9,521.6 L919.9,521.6 L920.9,521.6 L921.9,521.6 L922.9,521.7 L923.9,521.7 L924.9,521.8 L925.9,521.9 L926.9,522 L927.9,522.1 L928.9,522.2 L929.9,522.3 L930.9,522.4 L931.9,522.5 L932.9,522.6 L933.9,522.8 L934.9,522.9 L935.9,523 L936.9,523.2 L937.9,523.3 L938.9,523.5 L939.9,523.6 L940.9,523.7 L941.9,523.9 L942.9,524 L943.9,524.1 L944.9,524.2 L945.9,524.3 L946.9,524.4 L947.9,524.5 L948.9,524.6 L949.9,524.7 L950.9,524.7 L951.9,524.7 L952.9,524.8 L953.9,524.8 L954.9,524.7 L955.9,524.7 L956.9,524.6 L957.9,524.6 L958.9,524.4 L959.9,524.3 L960.9,524.1 L961.9,523.9 L962.9,523.7 L963.9,523.5 L964.9,523.2 L965.9,522.8 L966.9,522.5 L967.9,522.1 L968.9,521.6 L969.9,521.2 L970.9,520.7 L971.9,520.1 L972.9,519.5 L973.9,518.9 L974.9,518.2 L975.9,517.5 L976.9,516.7 L977.9,515.9 L978.9,515.1 L979.9,514.2 L980.9,513.2 L981.9,512.2 L982.9,511.2 L983.9,510.2 L984.9,509 L985.9,507.9 L986.9,506.7 L987.9,505.5 L988.9,504.2 L989.9,502.9 L990.9,501.5 L991.9,500.2 L992.9,498.7 L993.9,497.3 L994.9,495.8 L995.9,494.3 L996.9,492.7 L997.9,491.1 L998.9,489.5 L999.9,487.9 L1000.9,486.2 L1001.9,484.5 L1002.9,482.8 L1003.9,481.1 L1004.9,479.3 L1005.9,477.5 L1006.9,475.7 L1007.9,473.9 L1008.9,472.1 L1009.9,470.3 L1010.9,468.4 L1011.9,466.6 L1012.9,464.7 L1013.9,462.8 L1014.9,460.9 L1015.9,459 L1016.9,457.1 L1017.9,455.2 L1018.9,453.3 L1019.9,451.4 L1020.9,449.5 L1021.9,447.6 L1022.9,445.7 L1023.9,443.8 L1024.9,442 L1025.9,440.1 L1026.9,438.2 L1027.9,436.3 L1028.9,434.4 L1029.9,432.6 L1030.9,430.7 L1031.9,428.9 L1032.9,427.1 L1033.9,425.2 L1034.9,423.4 L1035.9,421.6 L1036.9,419.8 L1037.9,418.1 L1038.9,416.3 L1039.9,414.5 L1040.9,412.8 L1041.9,411.1 L1042.9,409.4 L1043.9,407.7 L1044.9,406 L1045.9,404.4 L1046.9,402.7 L1047.9,401.1 L1048.9,399.5 L1049.9,397.9 L1050.9,396.3 L1051.9,394.8 L1052.9,393.3 L1053.9,391.7 L1054.9,390.2 L1055.9,388.8 L1056.9,387.3 L1057.9,385.9 L1058.9,384.5 L1059.9,383.1 L1060.9,381.7 L1061.9,380.3 L1062.9,379 L1063.9,377.7 L1064.9,376.4 L1065.9,375.1 L1066.9,373.8 L1067.9,372.6 L1068.9,371.4 L1069.9,370.2 L1070.9,369 L1071.9,367.9 L1072.9,366.7 L1073.9,365.6 L1074.9,364.5 L1075.9,363.5 L1076.9,362.4 L1077.9,361.4 L1078.9,360.4 L1079.9,359.5 L1080.9,358.5 L1081.9,357.6 L1082.9,356.7 L1083.9,355.8 L1084.9,354.9 L1085.9,354.1 L1086.9,353.2 L1087.9,352.4 L1088.9,351.7 L1089.9,350.9 L1090.9,350.2 L1091.9,349.5 L1092.9,348.8 L1093.9,348.1 L1094.9,347.5 L1095.9,346.9 L1096.9,346.3 L1097.9,345.7 L1098.9,345.2 L1099.9,344.6 L1100.9,344.1 L1101.9,343.6 L1102.9,343.2 L1103.9,342.7 L1104.9,342.3 L1105.9,341.9 L1106.9,341.6 L1107.9,341.2 L1108.9,340.9 L1109.9,340.6 L1110.9,340.3 L1111.9,340.1 L1112.9,339.8 L1113.9,339.6 L1114.9,339.4 L1115.9,339.3 L1116.9,339.1 L1117.9,339 L1118.9,338.9 L1119.9,338.8 L1120.9,338.8 L1121.9,338.8 L1122.9,338.7 L1123.9,338.8 L1124.9,338.8 L1125.9,338.9 L1126.9,338.9 L1127.9,339.1 L1128.9,339.2 L1129.9,339.3 L1130.9,339.5 L1131.9,339.7 L1132.9,339.9 L1133.9,340.1 L1134.9,340.4 L1135.9,340.7 L1136.9,341 L1137.9,341.3 L1138.9,341.7 L1139.9,342 L1140.9,342.4 L1141.9,342.8 L1142.9,343.3 L1143.9,343.7 L1144.9,344.2 L1145.9,344.7 L1146.9,345.2 L1147.9,345.8 L1148.9,346.3 L1149.9,346.9 L1150.9,347.5 L1151.9,348.2 L1152.9,348.8 L1153.9,349.5 L1154.9,350.2 L1155.9,350.9 L1156.9,351.6 L1157.9,352.4 L1158.9,353.1 L1159.9,353.9 L1160.9,354.7 L1161.9,355.6 L1162.9,356.4 L1163.9,357.3 L1164.9,358.2 L1165.9,359.1 L1166.9,360 L1167.9,360.9 L1168.9,361.9 L1169.9,362.9 L1170.9,363.9 L1171.9,364.9 L1172.9,365.9 L1173.9,367 L1174.9,368.1 L1175.9,369.1 L1176.9,370.2 L1177.9,371.4 L1178.9,372.5 L1179.9,373.7 L1180.9,374.8 L1181.9,376 L1182.9,377.2 L1183.9,378.4 L1184.9,379.6 L1185.9,380.9 L1186.9,382.1 L1187.9,383.4 L1188.9,384.7 L1189.9,386 L1190.9,387.3 L1191.9,388.6 L1192.9,389.9 L1193.9,391.3 L1194.9,392.6 L1195.9,394 L1196.9,395.4 L1197.9,396.7 L1198.9,398.1 L1199.9,399.5 L1200.9,400.9 L1201.9,402.3 L1202.9,403.7 L1203.9,405.2 L1204.9,406.6 L1205.9,408 L1206.9,409.5 L1207.9,410.9 L1208.9,412.3 L1209.9,413.8 L1210.9,415.2 L1211.9,416.6 L1212.9,418.1 L1213.9,419.5 L1214.9,421 L1215.9,422.4 L1216.9,423.8 L1217.9,425.2 L1218.9,426.7 L1219.9,428.1 L1220.9,429.5 L1221.9,430.9 L1222.9,432.3 L1223.9,433.7 L1224.9,435 L1225.9,436.4 L1226.9,437.7 L1227.9,439.1 L1228.9,440.4 L1229.9,441.7 L1230.9,443 L1231.9,444.2 L1232.9,445.5 L1233.9,446.7 L1234.9,448 L1235.9,449.2 L1236.9,450.3 L1237.9,451.5 L1238.9,452.6 L1239.9,453.8 L1240.9,454.9 L1241.9,455.9 L1242.9,457 L1243.9,458 L1244.9,459 L1245.9,460 L1246.9,460.9 L1247.9,461.9 L1248.9,462.8 L1249.9,463.6 L1250.9,464.5 L1251.9,465.3 L1252.9,466.1 L1253.9,466.9 L1254.9,467.6 L1255.9,468.3 L1256.9,469 L1257.9,469.7 L1258.9,470.3 L1259.9,470.9 L1260.9,471.5 L1261.9,472.1 L1262.9,472.6 L1263.9,473.1 L1264.9,473.6 L1265.9,474 L1266.9,474.5 L1267.9,474.9 L1268.9,475.3 L1269.9,475.7 L1270.9,476 L1271.9,476.3 L1272.9,476.6 L1273.9,476.9 L1274.9,477.2 L1275.9,477.5 L1276.9,477.7 L1277.9,477.9 L1278.9,478.1 L1279.9,478.3 L1280.9,478.5 L1281.9,478.6 L1282.9,478.8 L1283.9,478.9 L1284.9,479 L1285.9,479.1 L1286.9,479.2 L1287.9,479.3 L1288.9,479.4 L1289.9,479.4 L1290.9,479.5 L1291.9,479.5 L1292.9,479.6 L1293.9,479.6 L1294.9,479.7 L1295.9,479.7 L1296.9,479.7 L1297.9,479.7 L1298.9,479.7 L1299.9,479.8 L1300.9,479.8 L1301.9,479.8 L1302.9,479.8 L1303.9,479.8 L1304.9,479.8 L1305.9,479.8 L1306.9,479.8 L1307.9,479.8 L1308.9,479.8 L1309.9,479.8 L1310.9,479.8 L1311.9,479.9 L1312.9,479.9 L1313.9,479.9 L1314.9,479.9 L1315.9,480 L1316.9,480 L1317.9,480 L1318.9,480.1 L1319.9,480.1 L1320.9,480.2 L1321.9,480.2 L1322.9,480.3 L1323.9,480.3 L1324.9,480.4 L1325.9,480.5 L1326.9,480.6 L1327.9,480.7 L1328.9,480.8 L1329.9,480.9 L1330.9,481 L1331.9,481.1 L1332.9,481.2 L1333.9,481.4 L1334.9,481.5 L1335.9,481.6 L1336.9,481.8 L1337.9,482 L1338.9,482.1 L1339.9,482.3 L1340.9,482.5 L1341.9,482.7 L1342.9,482.9 L1343.9,483.1 L1344.9,483.3 L1345.9,483.5 L1346.9,483.8 L1347.9,484 L1348.9,484.3 L1349.9,484.5 L1350.9,484.8 L1351.9,485 L1352.9,485.3 L1353.9,485.6 L1354.9,485.9 L1355.9,486.2 L1356.9,486.5 L1357.9,486.8 L1358.9,487.2 L1359.9,487.5 L1360.9,487.8 L1361.9,488.2 L1362.9,488.5 L1363.9,488.9 L1364.9,489.3 L1365.9,489.6 L1366.9,490 L1367.9,490.4 L1368.9,490.8 L1369.9,491.2 L1370.9,491.6 L1371.9,492 L1372.9,492.5 L1373.9,492.9 L1374.9,493.3 L1375.9,493.8 L1376.9,494.2 L1377.9,494.7 L1378.9,495.1 L1379.9,495.6 L1380.9,496 L1381.9,496.5 L1382.9,497 L1383.9,497.5 L1384.9,498 L1385.9,498.5 L1386.9,498.9 L1387.9,499.4 L1388.9,499.9 L1389.9,500.4 L1390.9,501 L1391.9,501.5 L1392.9,502 L1393.9,502.5 L1394.9,503 L1395.9,503.5 L1396.9,504.1 L1397.9,504.6 L1398.9,505.1 L1399.9,505.6 L1400.9,506.1 L1401.9,506.7 L1402.9,507.2 L1403.9,507.7 L1404.9,508.2 L1405.9,508.8 L1406.9,509.3 L1407.9,509.8 L1408.9,510.3 L1409.9,510.8 L1410.9,511.4 L1411.9,511.9 L1412.9,512.4 L1413.9,512.9 L1414.9,513.4 L1415.9,513.9 L1416.9,514.4 L1417.9,514.8 L1418.9,515.3 L1419.9,515.8 L1420.9,516.3 L1421.9,516.7 L1422.9,517.2 L1423.9,517.6 L1424.9,518.1 L1425.9,518.5 L1426.9,518.9 L1427.9,519.4 L1428.9,519.8 L1429.9,520.2 L1430.9,520.6 L1431.9,520.9 L1432.9,521.3 L1433.9,521.7 L1434.9,522 L1435.9,522.4 L1436.9,522.7 L1437.9,523 L1438.9,523.3 L1439.9,523.6 L1440.9,523.9 L1441.9,524.1 L1442.9,524.4 L1443.9,524.6 L1444.9,524.9 L1445.9,525.1 L1446.9,525.3 L1447.9,525.5 L1448.9,525.7 L1449.9,525.8 L1450.9,526 L1451.9,526.1 L1452.9,526.2 L1453.9,526.3 L1454.9,526.4 L1455.9,526.5 L1456.9,526.5 L1457.9,526.6 L1458.9,526.6 L1459.9,526.6 L1460.9,526.6 L1461.9,526.6 L1462.9,526.6 L1463.9,526.5 L1464.9,526.4 L1465.9,526.4 L1466.9,526.3 L1467.9,526.2 L1468.9,526.1 L1469.9,525.9 L1470.9,525.8 L1471.9,525.6 L1472.9,525.4 L1473.9,525.2 L1474.9,525 L1475.9,524.8 L1476.9,524.6 L1477.9,524.4 L1478.9,524.1 L1479.9,523.8 L1480.9,523.6 L1481.9,523.3 L1482.9,523 L1483.9,522.7 L1484.9,522.4 L1485.9,522 L1486.9,521.7 L1487.9,521.3 L1488.9,521 L1489.9,520.6 L1490.9,520.2 L1491.9,519.9 L1492.9,519.5 L1493.9,519.1 L1494.9,518.7 L1495.9,518.2 L1496.9,517.8 L1497.9,517.4 L1498.9,517 L1499.9,516.5 L1500.9,516.1 L1501.9,515.6 L1502.9,515.2 L1503.9,514.7 L1504.9,514.2 L1505.9,513.8 L1506.9,513.3 L1507.9,512.8 L1508.9,512.4 L1509.9,511.9 L1510.9,511.4 L1511.9,510.9 L1512.9,510.4 L1513.9,509.9 L1514.9,509.5 L1515.9,509 L1516.9,508.5 L1517.9,508 L1518.9,507.5 L1519.9,507 L1520.9,506.5 L1521.9,506.1 L1522.9,505.6 L1523.9,505.1 L1524.9,504.6 L1525.9,504.1 L1526.9,503.7 L1527.9,503.2 L1528.9,502.7 L1529.9,502.3 L1530.9,501.8 L1531.9,501.3 L1532.9,500.9 L1533.9,500.4 L1534.9,500 L1535.9,499.5 L1536.9,499.1 L1537.9,498.7 L1538.9,498.2 L1539.9,497.8 L1540.9,497.4 L1541.9,497 L1542.9,496.5 L1543.9,496.1 L1544.9,495.7 L1545.9,495.3 L1546.9,495 L1547.9,494.6 L1548.9,494.2 L1549.9,493.8 L1550.9,493.5 L1551.9,493.1 L1552.9,492.8 L1553.9,492.4 L1554.9,492.1 L1555.9,491.8 L1556.9,491.4 L1557.9,491.1 L1558.9,490.8 L1559.9,490.5 L1560.9,490.2 L1561.9,489.9 L1562.9,489.7 L1563.9,489.4 L1564.9,489.1 L1565.9,488.9 L1566.9,488.6 L1567.9,488.4 L1568.9,488.2 L1569.9,487.9 L1570.9,487.7 L1571.9,487.5 L1572.9,487.3 L1573.9,487.2 L1574.9,487 L1575.9,486.8 L1576.9,486.6 L1577.9,486.5 L1578.9,486.3 L1579.9,486.2 L1580.9,486.1 L1581.9,486 L1582.9,485.9 L1583.9,485.8 L1584.9,485.7 L1585.9,485.6 L1586.9,485.5 L1587.9,485.5 L1588.9,485.4 L1589.9,485.4 L1590.9,485.3 L1591.9,485.3 L1592.9,485.3 L1593.9,485.3 L1594.9,485.3 L1595.9,485.3 L1596.9,485.3 L1597.9,485.3 L1598.9,485.4 L1599.9,485.4 L1600.9,485.5 L1601.9,485.5 L1602.9,485.6 L1603.9,485.7 L1604.9,485.8 L1605.9,485.9 L1606.9,486 L1607.9,486.1 L1608.9,486.3 L1609.9,486.4 L1610.9,486.6 L1611.9,486.7 L1612.9,486.9 L1613.9,487.1 L1614.9,487.3 L1615.9,487.5 L1616.9,487.7 L1617.9,487.9 L1618.9,488.2 L1619.9,488.4 L1620.9,488.6 L1621.9,488.9 L1622.9,489.2 L1623.9,489.4 L1624.9,489.7 L1625.9,490 L1626.9,490.3 L1627.9,490.7 L1628.9,491 L1629.9,491.3 L1630.9,491.7 L1631.9,492 L1632.9,492.4 L1633.9,492.8 L1634.9,493.1 L1635.9,493.5 L1636.9,493.9 L1637.9,494.3 L1638.9,494.8 L1639.9,495.2 L1640.9,495.6 L1641.9,496.1 L1642.9,496.5 L1643.9,497 L1644.9,497.5 L1645.9,498 L1646.9,498.5 L1647.9,499 L1648.9,499.5 L1649.9,500 L1650.9,500.6 L1651.9,501.1 L1652.9,501.6 L1653.9,502.2 L1654.9,502.8 L1655.9,503.4 L1656.9,503.9 L1657.9,504.5 L1658.9,505.1 L1659.9,505.8 L1660.9,506.4 L1661.9,507 L1662.9,507.7 L1663.9,508.3 L1664.9,509 L1665.9,509.6 L1666.9,510.3 L1667.9,511 L1668.9,511.7 L1669.9,512.4 L1670.9,513.1 L1671.9,513.8 L1672.9,514.6 L1673.9,515.3 L1674.9,516.1 L1675.9,516.8 L1676.9,517.6 L1677.9,518.3 L1678.9,519.1 L1679.9,519.9 L1680.9,520.7 L1681.9,521.5 L1682.9,522.3 L1683.9,523.1 L1684.9,524 L1685.9,524.8 L1686.9,525.6 L1687.9,526.5 L1688.9,527.4 L1689.9,528.2 L1690.9,529.1 L1691.9,530 L1692.9,530.9 L1693.9,531.8 L1694.9,532.7 L1695.9,533.6 L1696.9,534.5 L1697.9,535.4 L1698.9,536.4 L1699.9,537.3 L1700.9,538.2 L1701.9,539.2 L1702.9,540.1 L1703.9,541.1 L1704.9,542.1 L1705.9,543.1 L1706.9,544 L1707.9,545 L1708.9,546 L1709.9,547 L1710.9,548 L1711.9,549 L1712.9,550.1 L1713.9,551.1 L1714.9,552.1 L1715.9,553.2 L1716.9,554.2 L1717.9,555.2 L1718.9,556.3 L1719.9,557.3 L1720.9,558.4 L1721.9,559.5 L1722.9,560.5 L1723.9,561.6 L1724.9,562.7 L1725.9,563.8 L1726.9,564.8 L1727.9,565.9 L1728.9,567 L1729.9,568.1 L1730.9,569.2 L1731.9,570.3 L1732.9,571.4 L1733.9,572.5 L1734.9,573.6 L1735.9,574.8 L1736.9,575.9 L1737.9,577 L1738.9,578.1 L1739.9,579.2 L1740.9,580.3 L1741.9,581.5 L1742.9,582.6 L1743.9,583.7 L1744.9,584.9 L1745.9,586 L1746.9,587.1 L1747.9,588.2 L1748.9,589.4 L1749.9,590.5 L1750.9,591.6 L1751.9,592.7 L1752.9,593.9 L1753.9,595 L1754.9,596.1 L1755.9,597.3 L1756.9,598.4 L1757.9,599.5 L1758.9,600.6 L1759.9,601.7 L1760.9,602.8 L1761.9,604 L1762.9,605.1 L1763.9,606.2 L1764.9,607.3 L1765.9,608.4 L1766.9,609.5 L1767.9,610.6 L1768.9,611.7 L1769.9,612.7 L1770.9,613.8 L1771.9,614.9 L1772.9,616 L1773.9,617 L1774.9,618.1 L1775.9,619.2 L1776.9,620.2 L1777.9,621.2 L1778.9,622.3 L1779.9,623.3 L1780.9,624.3 L1781.9,625.4 L1782.9,626.4 L1783.9,627.4 L1784.9,628.4 L1785.9,629.4 L1786.9,630.3 L1787.9,631.3 L1788.9,632.3 L1789.9,633.2 L1790.9,634.2 L1791.9,635.1 L1792.9,636.1 L1793.9,637 L1794.9,637.9 L1795.9,638.8 L1796.9,639.7 L1797.9,640.6 L1798.9,641.5 L1799.9,642.3 L1800.9,643.2 L1801.9,644 L1802.9,644.9 L1803.9,645.7 L1804.9,646.5 L1805.9,647.3 L1806.9,648.1 L1808,648.9" fill="none" stroke="#f00" stroke-width="10" stroke-linejoin="round"/>
<path d="M237.9,179.6 L238.9,179.7 L239.9,179.8 L240.9,180 L241.9,180.2 L242.9,180.4 L243.9,180.6 L244.9,180.9 L245.9,181.2 L246.9,181.5 L247.9,181.8 L248.9,182.2 L249.9,182.5 L250.9,183 L251.9,183.4 L252.9,183.9 L253.9,184.3 L254.9,184.9 L255.9,185.4 L256.9,186 L257.9,186.5 L258.9,187.2 L259.9,187.8 L260.9,188.5 L261.9,189.1 L262.9,189.9 L263.9,190.6 L264.9,191.3 L265.9,192.1 L266.9,192.9 L267.9,193.8 L268.9,194.6 L269.9,195.5 L270.9,196.4 L271.9,197.4 L272.9,198.3 L273.9,199.3 L274.9,200.3 L275.9,201.4 L276.9,202.4 L277.9,203.5 L278.9,204.6 L279.9,205.8 L280.9,206.9 L281.9,208.1 L282.9,209.3 L283.9,210.6 L284.9,211.8 L285.9,213.1 L286.9,214.4 L287.9,215.7 L288.9,217.1 L289.9,218.5 L290.9,219.9 L291.9,221.3 L292.9,222.8 L293.9,224.3 L294.9,225.8 L295.9,227.3 L296.9,228.9 L297.9,230.5 L298.9,232.1 L299.9,233.7 L300.9,235.4 L301.9,237.1 L302.9,238.8 L303.9,240.5 L304.9,242.3 L305.9,244 L306.9,245.9 L307.9,247.7 L308.9,249.5 L309.9,251.4 L310.9,253.3 L311.9,255.3 L312.9,257.2 L313.9,259.2 L314.9,261.2 L315.9,263.3 L316.9,265.3 L317.9,267.4 L318.9,269.5 L319.9,271.6 L320.9,273.8 L321.9,276 L322.9,278.2 L323.9,280.4 L324.9,282.7 L325.9,285 L326.9,287.3 L327.9,289.6 L328.9,292 L329.9,294.3 L330.9,296.8 L331.9,299.2 L332.9,301.6 L333.9,304.1 L334.9,306.6 L335.9,309.2 L336.9,311.7 L337.9,314.3 L338.9,316.9 L339.9,319.5 L340.9,322.2 L341.9,324.9 L342.9,327.6 L343.9,330.3 L344.9,333.1 L345.9,335.9 L346.9,338.7 L347.9,341.5 L348.9,344.4 L349.9,347.2 L350.9,350.2 L351.9,353.1 L352.9,356 L353.9,359 L354.9,362 L355.9,365.1 L356.9,368.1 L357.9,371.2 L358.9,374.3 L359.9,377.4 L360.9,380.6 L361.9,383.8 L362.9,387 L363.9,390.2 L364.9,393.5 L365.9,396.7 L366.9,400.1 L367.9,403.4 L368.9,406.7 L369.9,410.1 L370.9,413.5 L371.9,417 L372.9,420.4 L373.9,423.9 L374.9,427.4 L375.9,430.9 L376.9,434.5 L377.9,438.1 L378.9,441.7 L379.9,445.3 L380.9,449 L381.9,452.6 L382.9,456.3 L383.9,460.1 L384.9,463.8 L385.9,467.6 L386.9,471.4 L387.9,475.2 L388.9,479.1 L389.9,483 L390.9,486.9 L391.9,490.8 L392.9,494.8 L393.9,498.7 L394.9,502.7 L395.9,506.8 L396.9,510.8 L397.9,514.9 L398.9,519 L399.9,523.1 L400.9,527.3 L401.9,531.5 L402.9,535.7 L403.9,539.9 L404.9,544.2 L405.9,548.4 L406.9,552.7 L407.9,557.1 L408.9,561.4 L409.9,565.8 L410.9,570.2 L411.9,574.6 L412.9,579.1 L413.9,583.6 L414.9,588.1 L415.9,592.6 L416.9,597.2 L417.9,601.7 L418.9,606.3 L419.9,611 L420.9,615.6 L421.9,620.3 L422.9,625 L423.9,629.7 L424.9,634.5 L425.9,639.3 L426.9,644.1 L427.9,648.9 L428.9,653.7 L429.9,658.6 L430.9,663.5 L431.9,668.5 L432.9,673.4 L433.9,678.4 L434.9,683.4 L435.9,688.4 L436.9,693.5 L437.9,698.5 L438.9,703.6 L439.9,708.8 L440.9,713.9 L441.9,719.1 L442.9,724.3 L443.9,729.5 L444.9,734.8 L445.9,740.1 L446.9,745.4 L447.9,750.7 L448.9,756 L449.9,761.4 L450.9,766.8 L451.9,772.2 L452.9,777.7 L453.9,783.2 L454.9,788.7 L455.9,794.2 L456.9,799.7 L457.9,805.3 L458.9,810.9 L459.9,816.6 L460.9,822.2 L461.9,827.9 L462.9,833.6 L463.9,839.3 L464.9,845.1 L465.9,850.8 L466.9,856.6 L467.9,862.5 L468.9,868.3 L469.9,874.2 L470,874.9" fill="none" stroke="#00f" stroke-width="10" stroke-dasharray="25.4 21.8"/>
<path d="M237.9,549.5 L238.9,547.2 L239.9,545 L240.9,542.7 L241.9,540.5 L242.9,538.2 L243.9,536 L244.9,533.8 L245.9,531.7 L246.9,529.5 L247.9,527.4 L248.9,525.3 L249.9,523.2 L250.9,521.1 L251.9,519 L252.9,517 L253.9,514.9 L254.9,512.9 L255.9,510.9 L256.9,508.9 L257.9,507 L258.9,505 L259.9,503.1 L260.9,501.2 L261.9,499.3 L262.9,497.5 L263.9,495.6 L264.9,493.8 L265.9,491.9 L266.9,490.1 L267.9,488.4 L268.9,486.6 L269.9,484.9 L270.9,483.1 L271.9,481.4 L272.9,479.7 L273.9,478 L274.9,476.4 L275.9,474.7 L276.9,473.1 L277.9,471.5 L278.9,469.9 L279.9,468.4 L280.9,466.8 L281.9,465.3 L282.9,463.7 L283.9,462.2 L284.9,460.8 L285.9,459.3 L286.9,457.9 L287.9,456.4 L288.9,455 L289.9,453.6 L290.9,452.2 L291.9,450.9 L292.9,449.6 L293.9,448.2 L294.9,446.9 L295.9,445.6 L296.9,444.4 L297.9,443.1 L298.9,441.9 L299.9,440.7 L300.9,439.5 L301.9,438.3 L302.9,437.1 L303.9,436 L304.9,434.9 L305.9,433.7 L306.9,432.7 L307.9,431.6 L308.9,430.5 L309.9,429.5 L310.9,428.5 L311.9,427.5 L312.9,426.5 L313.9,425.5 L314.9,424.6 L315.9,423.6 L316.9,422.7 L317.9,421.8 L318.9,420.9 L319.9,420.1 L320.9,419.2 L321.9,418.4 L322.9,417.6 L323.9,416.8 L324.9,416 L325.9,415.3 L326.9,414.5 L327.9,413.8 L328.9,413.1 L329.9,412.4 L330.9,411.8 L331.9,411.1 L332.9,410.5 L333.9,409.9 L334.9,409.3 L335.9,408.7 L336.9,408.1 L337.9,407.6 L338.9,407.1 L339.9,406.5 L340.9,406.1 L341.9,405.6 L342.9,405.1 L343.9,404.7 L344.9,404.3 L345.9,403.9 L346.9,403.5 L347.9,403.1 L348.9,402.8 L349.9,402.4 L350.9,402.1 L351.9,401.8 L352.9,401.6 L353.9,401.3 L354.9,401 L355.9,400.8 L356.9,400.6 L357.9,400.4 L358.9,400.3 L359.9,400.1 L360.9,400 L361.9,399.8 L362.9,399.7 L363.9,399.7 L364.9,399.6 L365.9,399.6 L366.9,399.5 L367.9,399.5 L368.9,399.5 L369.9,399.5 L370.9,399.6 L371.9,399.6 L372.9,399.7 L373.9,399.8 L374.9,399.9 L375.9,400.1 L376.9,400.2 L377.9,400.4 L378.9,400.5 L379.9,400.7 L380.9,401 L381.9,401.2 L382.9,401.5 L383.9,401.7 L384.9,402 L385.9,402.3 L386.9,402.6 L387.9,403 L388.9,403.3 L389.9,403.7 L390.9,404.1 L391.9,404.5 L392.9,405 L393.9,405.4 L394.9,405.9 L395.9,406.4 L396.9,406.9 L397.9,407.4 L398.9,407.9 L399.9,408.5 L400.9,409 L401.9,409.6 L402.9,410.2 L403.9,410.9 L404.9,411.5 L405.9,412.2 L406.9,412.8 L407.9,413.5 L408.9,414.3 L409.9,415 L410.9,415.7 L411.9,416.5 L412.9,417.3 L413.9,418.1 L414.9,418.9 L415.9,419.7 L416.9,420.6 L417.9,421.5 L418.9,422.4 L419.9,423.3 L420.9,424.2 L421.9,425.1 L422.9,426.1 L423.9,427.1 L424.9,428.1 L425.9,429.1 L426.9,430.1 L427.9,431.2 L428.9,432.3 L429.9,433.3 L430.9,434.4 L431.9,435.6 L432.9,436.7 L433.9,437.9 L434.9,439 L435.9,440.2 L436.9,441.4 L437.9,442.7 L438.9,443.9 L439.9,445.2 L440.9,446.4 L441.9,447.7 L442.9,449.1 L443.9,450.4 L444.9,451.7 L445.9,453.1 L446.9,454.5 L447.9,455.9 L448.9,457.3 L449.9,458.8 L450.9,460.2 L451.9,461.7 L452.9,463.2 L453.9,464.7 L454.9,466.2 L455.9,467.8 L456.9,469.3 L457.9,470.9 L458.9,472.5 L459.9,474.1 L460.9,475.8 L461.9,477.4 L462.9,479.1 L463.9,480.8 L464.9,482.5 L465.9,484.2 L466.9,485.9 L467.9,487.7 L468.9,489.5 L469.9,491.3 L470.9,493.1 L471.9,494.9 L472.9,496.8 L473.9,498.6 L474.9,500.5 L475.9,502.4 L476.9,504.3 L477.9,506.3 L478.9,508.2 L479.9,510.2 L480.9,512.2 L481.9,514.2 L482.9,516.2 L483.9,518.2 L484.9,520.3 L485.9,522.4 L486.9,524.5 L487.9,526.6 L488.9,528.7 L489.9,530.9 L490.9,533 L491.9,535.2 L492.9,537.4 L493.9,539.6 L494.9,541.9 L495.9,544.1 L496.9,546.4 L497.9,548.7 L498.9,551 L499.9,553.3 L500.9,555.7 L501.9,558 L502.9,560.4 L503.9,562.8 L504.9,565.2 L505.9,567.6 L506.9,570.1 L507.9,572.6 L508.9,575 L509.9,577.5 L510.9,580.1 L511.9,582.6 L512.9,585.2 L513.9,587.7 L514.9,590.3 L515.9,592.9 L516.9,595.6 L517.9,598.2 L518.9,600.9 L519.9,603.5 L520.9,606.2 L521.9,609 L522.9,611.7 L523.9,614.4 L524.9,617.2 L525.9,620 L526.9,622.8 L527.9,625.6 L528.9,628.4 L529.9,631.3 L530.9,634.2 L531.9,637.1 L532.9,640 L533.9,642.9 L534.9,645.8 L535.9,648.8 L536.9,651.8 L537.9,654.8 L538.9,657.8 L539.9,660.8 L540.9,663.9 L541.9,667 L542.9,670 L543.9,673.1 L544.9,676.3 L545.9,679.4 L546.9,682.6 L547.9,685.7 L548.9,688.9 L549.9,692.1 L550.9,695.4 L551.9,698.6 L552.9,701.9 L553.9,705.2 L554.9,708.5 L555.9,711.8 L556.9,715.1 L557.9,718.5 L558.9,721.8 L559.9,725.2 L560.9,728.6 L561.9,732 L562.9,735.5 L563.9,738.9 L564.9,742.4 L565.9,745.9 L566.9,749.4 L567.9,753 L568.9,756.5 L569.9,760.1 L570.9,763.6 L571.9,767.2 L572.9,770.9 L573.9,774.5 L574.9,778.2 L575.9,781.8 L576.9,785.5 L577.9,789.2 L578.9,792.9 L579.9,796.7 L580.9,800.4 L581.9,804.2 L582.9,808 L583.9,811.8 L584.9,815.7 L585.9,819.5 L586.9,823.4 L587.9,827.2 L588.9,831.2 L589.9,835.1 L590.9,839 L591.9,843 L592.9,846.9 L593.9,850.9 L594.9,854.9 L595.9,859 L596.9,863 L597.9,867.1 L598.9,871.1 L599.8,874.8" fill="none" stroke="#00f" stroke-width="10" stroke-dasharray="25.4 21.8"/>
<path d="M352.9,874.9 L353.9,872 L354.9,869.2 L355.9,866.3 L356.9,863.5 L357.9,860.7 L358.9,857.9 L359.9,855.1 L360.9,852.3 L361.9,849.6 L362.9,846.9 L363.9,844.1 L364.9,841.5 L365.9,838.8 L366.9,836.1 L367.9,833.5 L368.9,830.9 L369.9,828.3 L370.9,825.7 L371.9,823.1 L372.9,820.5 L373.9,818 L374.9,815.5 L375.9,813 L376.9,810.5 L377.9,808 L378.9,805.6 L379.9,803.2 L380.9,800.7 L381.9,798.3 L382.9,796 L383.9,793.6 L384.9,791.3 L385.9,788.9 L386.9,786.6 L387.9,784.3 L388.9,782.1 L389.9,779.8 L390.9,777.6 L391.9,775.3 L392.9,773.1 L393.9,770.9 L394.9,768.8 L395.9,766.6 L396.9,764.5 L397.9,762.4 L398.9,760.3 L399.9,758.2 L400.9,756.1 L401.9,754.1 L402.9,752 L403.9,750 L404.9,748 L405.9,746.1 L406.9,744.1 L407.9,742.2 L408.9,740.2 L409.9,738.3 L410.9,736.4 L411.9,734.6 L412.9,732.7 L413.9,730.9 L414.9,729 L415.9,727.2 L416.9,725.4 L417.9,723.7 L418.9,721.9 L419.9,720.2 L420.9,718.5 L421.9,716.8 L422.9,715.1 L423.9,713.4 L424.9,711.8 L425.9,710.2 L426.9,708.5 L427.9,706.9 L428.9,705.4 L429.9,703.8 L430.9,702.3 L431.9,700.7 L432.9,699.2 L433.9,697.7 L434.9,696.3 L435.9,694.8 L436.9,693.4 L437.9,692 L438.9,690.5 L439.9,689.2 L440.9,687.8 L441.9,686.4 L442.9,685.1 L443.9,683.8 L444.9,682.5 L445.9,681.2 L446.9,679.9 L447.9,678.7 L448.9,677.5 L449.9,676.3 L450.9,675.1 L451.9,673.9 L452.9,672.7 L453.9,671.6 L454.9,670.5 L455.9,669.4 L456.9,668.3 L457.9,667.2 L458.9,666.1 L459.9,665.1 L460.9,664.1 L461.9,663.1 L462.9,662.1 L463.9,661.1 L464.9,660.2 L465.9,659.2 L466.9,658.3 L467.9,657.4 L468.9,656.5 L469.9,655.7 L470.9,654.8 L471.9,654 L472.9,653.2 L473.9,652.4 L474.9,651.6 L475.9,650.9 L476.9,650.1 L477.9,649.4 L478.9,648.7 L479.9,648 L480.9,647.3 L481.9,646.7 L482.9,646 L483.9,645.4 L484.9,644.8 L485.9,644.2 L486.9,643.7 L487.9,643.1 L488.9,642.6 L489.9,642.1 L490.9,641.6 L491.9,641.1 L492.9,640.6 L493.9,640.2 L494.9,639.8 L495.9,639.3 L496.9,639 L497.9,638.6 L498.9,638.2 L499.9,637.9 L500.9,637.6 L501.9,637.2 L502.9,637 L503.9,636.7 L504.9,636.4 L505.9,636.2 L506.9,636 L507.9,635.8 L508.9,635.6 L509.9,635.4 L510.9,635.3 L511.9,635.1 L512.9,635 L513.9,634.9 L514.9,634.9 L515.9,634.8 L516.9,634.7 L517.9,634.7 L518.9,634.7 L519.9,634.7 L520.9,634.7 L521.9,634.8 L522.9,634.8 L523.9,634.9 L524.9,635 L525.9,635.1 L526.9,635.3 L527.9,635.4 L528.9,635.6 L529.9,635.7 L530.9,635.9 L531.9,636.2 L532.9,636.4 L533.9,636.6 L534.9,636.9 L535.9,637.2 L536.9,637.5 L537.9,637.8 L538.9,638.2 L539.9,638.5 L540.9,638.9 L541.9,639.3 L542.9,639.7 L543.9,640.1 L544.9,640.6 L545.9,641 L546.9,641.5 L547.9,642 L548.9,642.5 L549.9,643 L550.9,643.6 L551.9,644.2 L552.9,644.7 L553.9,645.3 L554.9,645.9 L555.9,646.6 L556.9,647.2 L557.9,647.9 L558.9,648.6 L559.9,649.3 L560.9,650 L561.9,650.8 L562.9,651.5 L563.9,652.3 L564.9,653.1 L565.9,653.9 L566.9,654.7 L567.9,655.6 L568.9,656.4 L569.9,657.3 L570.9,658.2 L571.9,659.1 L572.9,660 L573.9,661 L574.9,661.9 L575.9,662.9 L576.9,663.9 L577.9,664.9 L578.9,666 L579.9,667 L580.9,668.1 L581.9,669.2 L582.9,670.3 L583.9,671.4 L584.9,672.6 L585.9,673.7 L586.9,674.9 L587.9,676.1 L588.9,677.3 L589.9,678.5 L590.9,679.8 L591.9,681 L592.9,682.3 L593.9,683.6 L594.9,684.9 L595.9,686.2 L596.9,687.6 L597.9,689 L598.9,690.3 L599.9,691.7 L600.9,693.2 L601.9,694.6 L602.9,696.1 L603.9,697.5 L604.9,699 L605.9,700.5 L606.9,702 L607.9,703.6 L608.9,705.1 L609.9,706.7 L610.9,708.3 L611.9,709.9 L612.9,711.5 L613.9,713.2 L614.9,714.8 L615.9,716.5 L616.9,718.2 L617.9,719.9 L618.9,721.7 L619.9,723.4 L620.9,725.2 L621.9,727 L622.9,728.8 L623.9,730.6 L624.9,732.4 L625.9,734.3 L626.9,736.2 L627.9,738 L628.9,739.9 L629.9,741.9 L630.9,743.8 L631.9,745.8 L632.9,747.7 L633.9,749.7 L634.9,751.7 L635.9,753.8 L636.9,755.8 L637.9,757.9 L638.9,760 L639.9,762.1 L640.9,764.2 L641.9,766.3 L642.9,768.5 L643.9,770.6 L644.9,772.8 L645.9,775 L646.9,777.2 L647.9,779.5 L648.9,781.7 L649.9,784 L650.9,786.3 L651.9,788.6 L652.9,790.9 L653.9,793.3 L654.9,795.6 L655.9,798 L656.9,800.4 L657.9,802.8 L658.9,805.2 L659.9,807.7 L660.9,810.1 L661.9,812.6 L662.9,815.1 L663.9,817.6 L664.9,820.2 L665.9,822.7 L666.9,825.3 L667.9,827.9 L668.9,830.5 L669.9,833.1 L670.9,835.7 L671.9,838.4 L672.9,841.1 L673.9,843.7 L674.9,846.5 L675.9,849.2 L676.9,851.9 L677.9,854.7 L678.9,857.5 L679.9,860.3 L680.9,863.1 L681.9,865.9 L682.9,868.7 L683.9,871.6 L684.9,874.5 L685,874.9" fill="none" stroke="#00f" stroke-width="10" stroke-dasharray="25.4 21.8"/>
<path d="M744.6,874.9 L744.9,873.6 L745.9,869.6 L746.9,865.6 L747.9,861.7 L748.9,857.7 L749.9,853.8 L750.9,849.9 L751.9,846.1 L752.9,842.2 L753.9,838.4 L754.9,834.6 L755.9,830.9 L756.9,827.1 L757.9,823.4 L758.9,819.7 L759.9,816.1 L760.9,812.4 L761.9,808.8 L762.9,805.2 L763.9,801.6 L764.9,798.1 L765.9,794.5 L766.9,791 L767.9,787.6 L768.9,784.1 L769.9,780.7 L770.9,777.3 L771.9,773.9 L772.9,770.5 L773.9,767.2 L774.9,763.9 L775.9,760.6 L776.9,757.4 L777.9,754.1 L778.9,750.9 L779.9,747.7 L780.9,744.6 L781.9,741.4 L782.9,738.3 L783.9,735.2 L784.9,732.1 L785.9,729.1 L786.9,726.1 L787.9,723.1 L788.9,720.1 L789.9,717.2 L790.9,714.2 L791.9,711.3 L792.9,708.5 L793.9,705.6 L794.9,702.8 L795.9,700 L796.9,697.2 L797.9,694.4 L798.9,691.7 L799.9,689 L800.9,686.3 L801.9,683.6 L802.9,681 L803.9,678.4 L804.9,675.8 L805.9,673.3 L806.9,670.7 L807.9,668.2 L808.9,665.7 L809.9,663.2 L810.9,660.8 L811.9,658.4 L812.9,656 L813.9,653.6 L814.9,651.3 L815.9,648.9 L816.9,646.6 L817.9,644.4 L818.9,642.1 L819.9,639.9 L820.9,637.7 L821.9,635.5 L822.9,633.3 L823.9,631.2 L824.9,629.1 L825.9,627 L826.9,625 L827.9,622.9 L828.9,620.9 L829.9,618.9 L830.9,617 L831.9,615 L832.9,613.1 L833.9,611.2 L834.9,609.4 L835.9,607.5 L836.9,605.7 L837.9,603.9 L838.9,602.1 L839.9,600.4 L840.9,598.7 L841.9,597 L842.9,595.3 L843.9,593.6 L844.9,592 L845.9,590.4 L846.9,588.8 L847.9,587.3 L848.9,585.7 L849.9,584.2 L850.9,582.8 L851.9,581.3 L852.9,579.9 L853.9,578.4 L854.9,577.1 L855.9,575.7 L856.9,574.4 L857.9,573 L858.9,571.8 L859.9,570.5 L860.9,569.3 L861.9,568 L862.9,566.8 L863.9,565.7 L864.9,564.5 L865.9,563.4 L866.9,562.3 L867.9,561.2 L868.9,560.2 L869.9,559.2 L870.9,558.2 L871.9,557.2 L872.9,556.2 L873.9,555.3 L874.9,554.4 L875.9,553.5 L876.9,552.6 L877.9,551.8 L878.9,551 L879.9,550.2 L880.9,549.5 L881.9,548.7 L882.9,548 L883.9,547.3 L884.9,546.7 L885.9,546 L886.9,545.4 L887.9,544.8 L888.9,544.2 L889.9,543.7 L890.9,543.2 L891.9,542.7 L892.9,542.2 L893.9,541.7 L894.9,541.3 L895.9,540.9 L896.9,540.5 L897.9,540.2 L898.9,539.9 L899.9,539.6 L900.9,539.3 L901.9,539 L902.9,538.8 L903.9,538.6 L904.9,538.4 L905.9,538.2 L906.9,538.1 L907.9,538 L908.9,537.9 L909.9,537.8 L910.9,537.8 L911.9,537.8 L912.9,537.8 L913.9,537.8 L914.9,537.9 L915.9,537.9 L916.9,538.1 L917.9,538.2 L918.9,538.3 L919.9,538.5 L920.9,538.7 L921.9,538.9 L922.9,539.2 L923.9,539.5 L924.9,539.7 L925.9,540.1 L926.9,540.4 L927.9,540.8 L928.9,541.2 L929.9,541.6 L930.9,542 L931.9,542.5 L932.9,543 L933.9,543.5 L934.9,544 L935.9,544.6 L936.9,545.2 L937.9,545.8 L938.9,546.4 L939.9,547.1 L940.9,547.8 L941.9,548.5 L942.9,549.2 L943.9,549.9 L944.9,550.7 L945.9,551.5 L946.9,552.3 L947.9,553.2 L948.9,554.1 L949.9,555 L950.9,555.9 L951.9,556.8 L952.9,557.8 L953.9,558.8 L954.9,559.8 L955.9,560.8 L956.9,561.9 L957.9,563 L958.9,564.1 L959.9,565.3 L960.9,566.4 L961.9,567.6 L962.9,568.8 L963.9,570 L964.9,571.3 L965.9,572.6 L966.9,573.9 L967.9,575.2 L968.9,576.6 L969.9,577.9 L970.9,579.3 L971.9,580.8 L972.9,582.2 L973.9,583.7 L974.9,585.2 L975.9,586.7 L976.9,588.3 L977.9,589.8 L978.9,591.4 L979.9,593 L980.9,594.7 L981.9,596.3 L982.9,598 L983.9,599.8 L984.9,601.5 L985.9,603.3 L986.9,605 L987.9,606.8 L988.9,608.7 L989.9,610.5 L990.9,612.4 L991.9,614.3 L992.9,616.3 L993.9,618.2 L994.9,620.2 L995.9,622.2 L996.9,624.2 L997.9,626.3 L998.9,628.3 L999.9,630.4 L1000.9,632.6 L1001.9,634.7 L1002.9,636.9 L1003.9,639.1 L1004.9,641.3 L1005.9,643.5 L1006.9,645.8 L1007.9,648.1 L1008.9,650.4 L1009.9,652.8 L1010.9,655.1 L1011.9,657.5 L1012.9,659.9 L1013.9,662.3 L1014.9,664.8 L1015.9,667.3 L1016.9,669.8 L1017.9,672.3 L1018.9,674.9 L1019.9,677.5 L1020.9,680.1 L1021.9,682.7 L1022.9,685.3 L1023.9,688 L1024.9,690.7 L1025.9,693.4 L1026.9,696.2 L1027.9,699 L1028.9,701.8 L1029.9,704.6 L1030.9,707.4 L1031.9,710.3 L1032.9,713.2 L1033.9,716.1 L1034.9,719 L1035.9,722 L1036.9,725 L1037.9,728 L1038.9,731 L1039.9,734.1 L1040.9,737.2 L1041.9,740.3 L1042.9,743.4 L1043.9,746.6 L1044.9,749.7 L1045.9,753 L1046.9,756.2 L1047.9,759.4 L1048.9,762.7 L1049.9,766 L1050.9,769.3 L1051.9,772.7 L1052.9,776.1 L1053.9,779.5 L1054.9,782.9 L1055.9,786.3 L1056.9,789.8 L1057.9,793.3 L1058.9,796.8 L1059.9,800.3 L1060.9,803.9 L1061.9,807.5 L1062.9,811.1 L1063.9,814.7 L1064.9,818.4 L1065.9,822.1 L1066.9,825.8 L1067.9,829.5 L1068.9,833.3 L1069.9,837.1 L1070.9,840.9 L1071.9,844.7 L1072.9,848.5 L1073.9,852.4 L1074.9,856.3 L1075.9,860.2 L1076.9,864.2 L1077.9,868.2 L1078.9,872.2 L1079.6,874.9" fill="none" stroke="#00f" stroke-width="10" stroke-dasharray="25.4 21.8"/>
<path d="M909.7,874.9 L909.9,873.6 L910.9,868.6 L911.9,863.6 L912.9,858.6 L913.9,853.7 L914.9,848.8 L915.9,843.9 L916.9,839 L917.9,834.2 L918.9,829.3 L919.9,824.5 L920.9,819.7 L921.9,815 L922.9,810.3 L923.9,805.6 L924.9,800.9 L925.9,796.2 L926.9,791.6 L927.9,787 L928.9,782.4 L929.9,777.8 L930.9,773.3 L931.9,768.8 L932.9,764.3 L933.9,759.8 L934.9,755.3 L935.9,750.9 L936.9,746.5 L937.9,742.1 L938.9,737.8 L939.9,733.5 L940.9,729.2 L941.9,724.9 L942.9,720.6 L943.9,716.4 L944.9,712.2 L945.9,708 L946.9,703.8 L947.9,699.7 L948.9,695.6 L949.9,691.5 L950.9,687.4 L951.9,683.4 L952.9,679.4 L953.9,675.4 L954.9,671.4 L955.9,667.5 L956.9,663.5 L957.9,659.6 L958.9,655.8 L959.9,651.9 L960.9,648.1 L961.9,644.3 L962.9,640.5 L963.9,636.7 L964.9,633 L965.9,629.3 L966.9,625.6 L967.9,621.9 L968.9,618.3 L969.9,614.7 L970.9,611.1 L971.9,607.5 L972.9,604 L973.9,600.5 L974.9,597 L975.9,593.5 L976.9,590 L977.9,586.6 L978.9,583.2 L979.9,579.8 L980.9,576.5 L981.9,573.2 L982.9,569.8 L983.9,566.6 L984.9,563.3 L985.9,560.1 L986.9,556.9 L987.9,553.7 L988.9,550.5 L989.9,547.4 L990.9,544.2 L991.9,541.2 L992.9,538.1 L993.9,535 L994.9,532 L995.9,529 L996.9,526 L997.9,523.1 L998.9,520.2 L999.9,517.3 L1000.9,514.4 L1001.9,511.5 L1002.9,508.7 L1003.9,505.9 L1004.9,503.1 L1005.9,500.3 L1006.9,497.6 L1007.9,494.9 L1008.9,492.2 L1009.9,489.5 L1010.9,486.9 L1011.9,484.3 L1012.9,481.7 L1013.9,479.1 L1014.9,476.6 L1015.9,474 L1016.9,471.5 L1017.9,469.1 L1018.9,466.6 L1019.9,464.2 L1020.9,461.8 L1021.9,459.4 L1022.9,457 L1023.9,454.7 L1024.9,452.4 L1025.9,450.1 L1026.9,447.8 L1027.9,445.6 L1028.9,443.4 L1029.9,441.2 L1030.9,439 L1031.9,436.9 L1032.9,434.8 L1033.9,432.7 L1034.9,430.6 L1035.9,428.6 L1036.9,426.5 L1037.9,424.5 L1038.9,422.5 L1039.9,420.6 L1040.9,418.7 L1041.9,416.8 L1042.9,414.9 L1043.9,413 L1044.9,411.2 L1045.9,409.4 L1046.9,407.6 L1047.9,405.8 L1048.9,404.1 L1049.9,402.4 L1050.9,400.7 L1051.9,399 L1052.9,397.3 L1053.9,395.7 L1054.9,394.1 L1055.9,392.6 L1056.9,391 L1057.9,389.5 L1058.9,388 L1059.9,386.5 L1060.9,385 L1061.9,383.6 L1062.9,382.2 L1063.9,380.8 L1064.9,379.5 L1065.9,378.1 L1066.9,376.8 L1067.9,375.5 L1068.9,374.2 L1069.9,373 L1070.9,371.8 L1071.9,370.6 L1072.9,369.4 L1073.9,368.3 L1074.9,367.2 L1075.9,366.1 L1076.9,365 L1077.9,363.9 L1078.9,362.9 L1079.9,361.9 L1080.9,360.9 L1081.9,360 L1082.9,359 L1083.9,358.1 L1084.9,357.2 L1085.9,356.4 L1086.9,355.5 L1087.9,354.7 L1088.9,353.9 L1089.9,353.1 L1090.9,352.4 L1091.9,351.7 L1092.9,351 L1093.9,350.3 L1094.9,349.7 L1095.9,349 L1096.9,348.4 L1097.9,347.9 L1098.9,347.3 L1099.9,346.8 L1100.9,346.3 L1101.9,345.8 L1102.9,345.3 L1103.9,344.9 L1104.9,344.5 L1105.9,344.1 L1106.9,343.7 L1107.9,343.4 L1108.9,343.1 L1109.9,342.8 L1110.9,342.5 L1111.9,342.3 L1112.9,342 L1113.9,341.9 L1114.9,341.7 L1115.9,341.5 L1116.9,341.4 L1117.9,341.3 L1118.9,341.2 L1119.9,341.2 L1120.9,341.1 L1121.9,341.1 L1122.9,341.1 L1123.9,341.2 L1124.9,341.2 L1125.9,341.3 L1126.9,341.4 L1127.9,341.6 L1128.9,341.7 L1129.9,341.9 L1130.9,342.1 L1131.9,342.3 L1132.9,342.6 L1133.9,342.9 L1134.9,343.2 L1135.9,343.5 L1136.9,343.9 L1137.9,344.2 L1138.9,344.6 L1139.9,345 L1140.9,345.5 L1141.9,345.9 L1142.9,346.4 L1143.9,347 L1144.9,347.5 L1145.9,348.1 L1146.9,348.6 L1147.9,349.2 L1148.9,349.9 L1149.9,350.5 L1150.9,351.2 L1151.9,351.9 L1152.9,352.6 L1153.9,353.4 L1154.9,354.2 L1155.9,355 L1156.9,355.8 L1157.9,356.6 L1158.9,357.5 L1159.9,358.4 L1160.9,359.3 L1161.9,360.3 L1162.9,361.2 L1163.9,362.2 L1164.9,363.2 L1165.9,364.3 L1166.9,365.3 L1167.9,366.4 L1168.9,367.5 L1169.9,368.7 L1170.9,369.8 L1171.9,371 L1172.9,372.2 L1173.9,373.4 L1174.9,374.7 L1175.9,375.9 L1176.9,377.2 L1177.9,378.6 L1178.9,379.9 L1179.9,381.3 L1180.9,382.7 L1181.9,384.1 L1182.9,385.5 L1183.9,387 L1184.9,388.5 L1185.9,390 L1186.9,391.5 L1187.9,393.1 L1188.9,394.7 L1189.9,396.3 L1190.9,397.9 L1191.9,399.5 L1192.9,401.2 L1193.9,402.9 L1194.9,404.6 L1195.9,406.4 L1196.9,408.2 L1197.9,410 L1198.9,411.8 L1199.9,413.6 L1200.9,415.5 L1201.9,417.4 L1202.9,419.3 L1203.9,421.2 L1204.9,423.2 L1205.9,425.2 L1206.9,427.2 L1207.9,429.2 L1208.9,431.3 L1209.9,433.4 L1210.9,435.5 L1211.9,437.6 L1212.9,439.7 L1213.9,441.9 L1214.9,444.1 L1215.9,446.3 L1216.9,448.6 L1217.9,450.9 L1218.9,453.2 L1219.9,455.5 L1220.9,457.8 L1221.9,460.2 L1222.9,462.6 L1223.9,465 L1224.9,467.4 L1225.9,469.9 L1226.9,472.4 L1227.9,474.9 L1228.9,477.4 L1229.9,480 L1230.9,482.5 L1231.9,485.1 L1232.9,487.8 L1233.9,490.4 L1234.9,493.1 L1235.9,495.8 L1236.9,498.5 L1237.9,501.2 L1238.9,504 L1239.9,506.8 L1240.9,509.6 L1241.9,512.5 L1242.9,515.3 L1243.9,518.2 L1244.9,521.1 L1245.9,524.1 L1246.9,527 L1247.9,530 L1248.9,533 L1249.9,536 L1250.9,539.1 L1251.9,542.2 L1252.9,545.3 L1253.9,548.4 L1254.9,551.5 L1255.9,554.7 L1256.9,557.9 L1257.9,561.1 L1258.9,564.4 L1259.9,567.6 L1260.9,570.9 L1261.9,574.2 L1262.9,577.6 L1263.9,580.9 L1264.9,584.3 L1265.9,587.7 L1266.9,591.2 L1267.9,594.6 L1268.9,598.1 L1269.9,601.6 L1270.9,605.1 L1271.9,608.7 L1272.9,612.3 L1273.9,615.9 L1274.9,619.5 L1275.9,623.1 L1276.9,626.8 L1277.9,630.5 L1278.9,634.2 L1279.9,638 L1280.9,641.7 L1281.9,645.5 L1282.9,649.3 L1283.9,653.2 L1284.9,657 L1285.9,660.9 L1286.9,664.8 L1287.9,668.8 L1288.9,672.7 L1289.9,676.7 L1290.9,680.7 L1291.9,684.7 L1292.9,688.8 L1293.9,692.8 L1294.9,696.9 L1295.9,701.1 L1296.9,705.2 L1297.9,709.4 L1298.9,713.6 L1299.9,717.8 L1300.9,722 L1301.9,726.3 L1302.9,730.6 L1303.9,734.9 L1304.9,739.2 L1305.9,743.6 L1306.9,748 L1307.9,752.4 L1308.9,756.8 L1309.9,761.3 L1310.9,765.7 L1311.9,770.2 L1312.9,774.8 L1313.9,779.3 L1314.9,783.9 L1315.9,788.5 L1316.9,793.1 L1317.9,797.7 L1318.9,802.4 L1319.9,807.1 L1320.9,811.8 L1321.9,816.6 L1322.9,821.3 L1323.9,826.1 L1324.9,830.9 L1325.9,835.7 L1326.9,840.6 L1327.9,845.5 L1328.9,850.4 L1329.9,855.3 L1330.9,860.3 L1331.9,865.2 L1332.9,870.2 L1333.9,874.9" fill="none" stroke="#00f" stroke-width="10" stroke-dasharray="25.4 21.8"/>
<path d="M1072.5,874.9 L1072.9,873.6 L1073.9,870.6 L1074.9,867.6 L1075.9,864.5 L1076.9,861.5 L1077.9,858.5 L1078.9,855.5 L1079.9,852.5 L1080.9,849.6 L1081.9,846.6 L1082.9,843.7 L1083.9,840.8 L1084.9,837.8 L1085.9,834.9 L1086.9,832 L1087.9,829.2 L1088.9,826.3 L1089.9,823.4 L1090.9,820.6 L1091.9,817.8 L1092.9,815 L1093.9,812.1 L1094.9,809.4 L1095.9,806.6 L1096.9,803.8 L1097.9,801 L1098.9,798.3 L1099.9,795.6 L1100.9,792.8 L1101.9,790.1 L1102.9,787.4 L1103.9,784.8 L1104.9,782.1 L1105.9,779.4 L1106.9,776.8 L1107.9,774.1 L1108.9,771.5 L1109.9,768.9 L1110.9,766.3 L1111.9,763.7 L1112.9,761.1 L1113.9,758.6 L1114.9,756 L1115.9,753.5 L1116.9,751 L1117.9,748.5 L1118.9,746 L1119.9,743.5 L1120.9,741 L1121.9,738.5 L1122.9,736.1 L1123.9,733.6 L1124.9,731.2 L1125.9,728.8 L1126.9,726.4 L1127.9,724 L1128.9,721.6 L1129.9,719.3 L1130.9,716.9 L1131.9,714.6 L1132.9,712.2 L1133.9,709.9 L1134.9,707.6 L1135.9,705.3 L1136.9,703 L1137.9,700.8 L1138.9,698.5 L1139.9,696.3 L1140.9,694 L1141.9,691.8 L1142.9,689.6 L1143.9,687.4 L1144.9,685.2 L1145.9,683 L1146.9,680.9 L1147.9,678.7 L1148.9,676.6 L1149.9,674.5 L1150.9,672.4 L1151.9,670.3 L1152.9,668.2 L1153.9,666.1 L1154.9,664.1 L1155.9,662 L1156.9,660 L1157.9,657.9 L1158.9,655.9 L1159.9,653.9 L1160.9,651.9 L1161.9,650 L1162.9,648 L1163.9,646.1 L1164.9,644.1 L1165.9,642.2 L1166.9,640.3 L1167.9,638.4 L1168.9,636.5 L1169.9,634.6 L1170.9,632.7 L1171.9,630.9 L1172.9,629 L1173.9,627.2 L1174.9,625.4 L1175.9,623.6 L1176.9,621.8 L1177.9,620 L1178.9,618.2 L1179.9,616.5 L1180.9,614.7 L1181.9,613 L1182.9,611.3 L1183.9,609.6 L1184.9,607.9 L1185.9,606.2 L1186.9,604.5 L1187.9,602.9 L1188.9,601.2 L1189.9,599.6 L1190.9,598 L1191.9,596.4 L1192.9,594.8 L1193.9,593.2 L1194.9,591.6 L1195.9,590 L1196.9,588.5 L1197.9,587 L1198.9,585.4 L1199.9,583.9 L1200.9,582.4 L1201.9,580.9 L1202.9,579.5 L1203.9,578 L1204.9,576.5 L1205.9,575.1 L1206.9,573.7 L1207.9,572.3 L1208.9,570.9 L1209.9,569.5 L1210.9,568.1 L1211.9,566.7 L1212.9,565.4 L1213.9,564 L1214.9,562.7 L1215.9,561.4 L1216.9,560.1 L1217.9,558.8 L1218.9,557.5 L1219.9,556.2 L1220.9,555 L1221.9,553.7 L1222.9,552.5 L1223.9,551.3 L1224.9,550.1 L1225.9,548.9 L1226.9,547.7 L1227.9,546.5 L1228.9,545.4 L1229.9,544.2 L1230.9,543.1 L1231.9,542 L1232.9,540.9 L1233.9,539.8 L1234.9,538.7 L1235.9,537.6 L1236.9,536.6 L1237.9,535.5 L1238.9,534.5 L1239.9,533.5 L1240.9,532.4 L1241.9,531.4 L1242.9,530.5 L1243.9,529.5 L1244.9,528.5 L1245.9,527.6 L1246.9,526.6 L1247.9,525.7 L1248.9,524.8 L1249.9,523.9 L1250.9,523 L1251.9,522.1 L1252.9,521.3 L1253.9,520.4 L1254.9,519.6 L1255.9,518.7 L1256.9,517.9 L1257.9,517.1 L1258.9,516.3 L1259.9,515.5 L1260.9,514.8 L1261.9,514 L1262.9,513.3 L1263.9,512.5 L1264.9,511.8 L1265.9,511.1 L1266.9,510.4 L1267.9,509.7 L1268.9,509.1 L1269.9,508.4 L1270.9,507.8 L1271.9,507.1 L1272.9,506.5 L1273.9,505.9 L1274.9,505.3 L1275.9,504.7 L1276.9,504.2 L1277.9,503.6 L1278.9,503.1 L1279.9,502.5 L1280.9,502 L1281.9,501.5 L1282.9,501 L1283.9,500.5 L1284.9,500 L1285.9,499.6 L1286.9,499.1 L1287.9,498.7 L1288.9,498.2 L1289.9,497.8 L1290.9,497.4 L1291.9,497 L1292.9,496.7 L1293.9,496.3 L1294.9,496 L1295.9,495.6 L1296.9,495.3 L1297.9,495 L1298.9,494.7 L1299.9,494.4 L1300.9,494.1 L1301.9,493.8 L1302.9,493.6 L1303.9,493.3 L1304.9,493.1 L1305.9,492.9 L1306.9,492.7 L1307.9,492.5 L1308.9,492.3 L1309.9,492.1 L1310.9,492 L1311.9,491.8 L1312.9,491.7 L1313.9,491.6 L1314.9,491.5 L1315.9,491.4 L1316.9,491.3 L1317.9,491.2 L1318.9,491.2 L1319.9,491.1 L1320.9,491.1 L1321.9,491.1 L1322.9,491 L1323.9,491 L1324.9,491.1 L1325.9,491.1 L1326.9,491.1 L1327.9,491.2 L1328.9,491.2 L1329.9,491.3 L1330.9,491.4 L1331.9,491.5 L1332.9,491.6 L1333.9,491.7 L1334.9,491.9 L1335.9,492 L1336.9,492.2 L1337.9,492.4 L1338.9,492.5 L1339.9,492.7 L1340.9,492.9 L1341.9,493.2 L1342.9,493.4 L1343.9,493.6 L1344.9,493.9 L1345.9,494.2 L1346.9,494.5 L1347.9,494.8 L1348.9,495.1 L1349.9,495.4 L1350.9,495.7 L1351.9,496.1 L1352.9,496.4 L1353.9,496.8 L1354.9,497.2 L1355.9,497.6 L1356.9,498 L1357.9,498.4 L1358.9,498.8 L1359.9,499.2 L1360.9,499.7 L1361.9,500.2 L1362.9,500.6 L1363.9,501.1 L1364.9,501.6 L1365.9,502.2 L1366.9,502.7 L1367.9,503.2 L1368.9,503.8 L1369.9,504.3 L1370.9,504.9 L1371.9,505.5 L1372.9,506.1 L1373.9,506.7 L1374.9,507.3 L1375.9,508 L1376.9,508.6 L1377.9,509.3 L1378.9,510 L1379.9,510.6 L1380.9,511.3 L1381.9,512 L1382.9,512.8 L1383.9,513.5 L1384.9,514.2 L1385.9,515 L1386.9,515.8 L1387.9,516.6 L1388.9,517.4 L1389.9,518.2 L1390.9,519 L1391.9,519.8 L1392.9,520.7 L1393.9,521.5 L1394.9,522.4 L1395.9,523.3 L1396.9,524.2 L1397.9,525.1 L1398.9,526 L1399.9,526.9 L1400.9,527.9 L1401.9,528.8 L1402.9,529.8 L1403.9,530.8 L1404.9,531.7 L1405.9,532.7 L1406.9,533.8 L1407.9,534.8 L1408.9,535.8 L1409.9,536.9 L1410.9,537.9 L1411.9,539 L1412.9,540.1 L1413.9,541.2 L1414.9,542.3 L1415.9,543.4 L1416.9,544.6 L1417.9,545.7 L1418.9,546.9 L1419.9,548.1 L1420.9,549.3 L1421.9,550.5 L1422.9,551.7 L1423.9,552.9 L1424.9,554.1 L1425.9,555.4 L1426.9,556.6 L1427.9,557.9 L1428.9,559.2 L1429.9,560.5 L1430.9,561.8 L1431.9,563.1 L1432.9,564.4 L1433.9,565.8 L1434.9,567.1 L1435.9,568.5 L1436.9,569.9 L1437.9,571.3 L1438.9,572.7 L1439.9,574.1 L1440.9,575.5 L1441.9,577 L1442.9,578.4 L1443.9,579.9 L1444.9,581.4 L1445.9,582.9 L1446.9,584.4 L1447.9,585.9 L1448.9,587.4 L1449.9,589 L1450.9,590.5 L1451.9,592.1 L1452.9,593.7 L1453.9,595.2 L1454.9,596.8 L1455.9,598.5 L1456.9,600.1 L1457.9,601.7 L1458.9,603.4 L1459.9,605 L1460.9,606.7 L1461.9,608.4 L1462.9,610.1 L1463.9,611.8 L1464.9,613.5 L1465.9,615.3 L1466.9,617 L1467.9,618.8 L1468.9,620.5 L1469.9,622.3 L1470.9,624.1 L1471.9,625.9 L1472.9,627.8 L1473.9,629.6 L1474.9,631.4 L1475.9,633.3 L1476.9,635.2 L1477.9,637 L1478.9,638.9 L1479.9,640.8 L1480.9,642.8 L1481.9,644.7 L1482.9,646.6 L1483.9,648.6 L1484.9,650.6 L1485.9,652.5 L1486.9,654.5 L1487.9,656.5 L1488.9,658.6 L1489.9,660.6 L1490.9,662.6 L1491.9,664.7 L1492.9,666.7 L1493.9,668.8 L1494.9,670.9 L1495.9,673 L1496.9,675.1 L1497.9,677.2 L1498.9,679.4 L1499.9,681.5 L1500.9,683.7 L1501.9,685.9 L1502.9,688.1 L1503.9,690.3 L1504.9,692.5 L1505.9,694.7 L1506.9,696.9 L1507.9,699.2 L1508.9,701.4 L1509.9,703.7 L1510.9,706 L1511.9,708.3 L1512.9,710.6 L1513.9,712.9 L1514.9,715.3 L1515.9,717.6 L1516.9,720 L1517.9,722.3 L1518.9,724.7 L1519.9,727.1 L1520.9,729.5 L1521.9,731.9 L1522.9,734.4 L1523.9,736.8 L1524.9,739.3 L1525.9,741.7 L1526.9,744.2 L1527.9,746.7 L1528.9,749.2 L1529.9,751.7 L1530.9,754.3 L1531.9,756.8 L1532.9,759.4 L1533.9,761.9 L1534.9,764.5 L1535.9,767.1 L1536.9,769.7 L1537.9,772.3 L1538.9,774.9 L1539.9,777.6 L1540.9,780.2 L1541.9,782.9 L1542.9,785.6 L1543.9,788.2 L1544.9,790.9 L1545.9,793.7 L1546.9,796.4 L1547.9,799.1 L1548.9,801.9 L1549.9,804.6 L1550.9,807.4 L1551.9,810.2 L1552.9,813 L1553.9,815.8 L1554.9,818.6 L1555.9,821.5 L1556.9,824.3 L1557.9,827.2 L1558.9,830 L1559.9,832.9 L1560.9,835.8 L1561.9,838.7 L1562.9,841.6 L1563.9,844.6 L1564.9,847.5 L1565.9,850.5 L1566.9,853.4 L1567.9,856.4 L1568.9,859.4 L1569.9,862.4 L1570.9,865.4 L1571.9,868.5 L1572.9,871.5 L1573.9,874.6 L1574,874.9" fill="none" stroke="#00f" stroke-width="10" stroke-dasharray="25.4 21.8"/>
<path d="M1333.5,874.9 L1333.9,873.6 L1334.9,870.7 L1335.9,867.9 L1336.9,865 L1337.9,862.1 L1338.9,859.3 L1339.9,856.5 L1340.9,853.6 L1341.9,850.8 L1342.9,848 L1343.9,845.2 L1344.9,842.5 L1345.9,839.7 L1346.9,836.9 L1347.9,834.2 L1348.9,831.5 L1349.9,828.7 L1350.9,826 L1351.9,823.3 L1352.9,820.6 L1353.9,818 L1354.9,815.3 L1355.9,812.6 L1356.9,810 L1357.9,807.4 L1358.9,804.7 L1359.9,802.1 L1360.9,799.5 L1361.9,796.9 L1362.9,794.4 L1363.9,791.8 L1364.9,789.2 L1365.9,786.7 L1366.9,784.2 L1367.9,781.6 L1368.9,779.1 L1369.9,776.6 L1370.9,774.1 L1371.9,771.6 L1372.9,769.2 L1373.9,766.7 L1374.9,764.3 L1375.9,761.8 L1376.9,759.4 L1377.9,757 L1378.9,754.6 L1379.9,752.2 L1380.9,749.8 L1381.9,747.5 L1382.9,745.1 L1383.9,742.8 L1384.9,740.4 L1385.9,738.1 L1386.9,735.8 L1387.9,733.5 L1388.9,731.2 L1389.9,728.9 L1390.9,726.6 L1391.9,724.4 L1392.9,722.1 L1393.9,719.9 L1394.9,717.7 L1395.9,715.4 L1396.9,713.2 L1397.9,711.1 L1398.9,708.9 L1399.9,706.7 L1400.9,704.5 L1401.9,702.4 L1402.9,700.3 L1403.9,698.1 L1404.9,696 L1405.9,693.9 L1406.9,691.8 L1407.9,689.7 L1408.9,687.7 L1409.9,685.6 L1410.9,683.6 L1411.9,681.5 L1412.9,679.5 L1413.9,677.5 L1414.9,675.5 L1415.9,673.5 L1416.9,671.5 L1417.9,669.5 L1418.9,667.6 L1419.9,665.6 L1420.9,663.7 L1421.9,661.7 L1422.9,659.8 L1423.9,657.9 L1424.9,656 L1425.9,654.2 L1426.9,652.3 L1427.9,650.4 L1428.9,648.6 L1429.9,646.7 L1430.9,644.9 L1431.9,643.1 L1432.9,641.3 L1433.9,639.5 L1434.9,637.7 L1435.9,635.9 L1436.9,634.2 L1437.9,632.4 L1438.9,630.7 L1439.9,628.9 L1440.9,627.2 L1441.9,625.5 L1442.9,623.8 L1443.9,622.1 L1444.9,620.5 L1445.9,618.8 L1446.9,617.2 L1447.9,615.5 L1448.9,613.9 L1449.9,612.3 L1450.9,610.7 L1451.9,609.1 L1452.9,607.5 L1453.9,605.9 L1454.9,604.3 L1455.9,602.8 L1456.9,601.3 L1457.9,599.7 L1458.9,598.2 L1459.9,596.7 L1460.9,595.2 L1461.9,593.7 L1462.9,592.2 L1463.9,590.8 L1464.9,589.3 L1465.9,587.9 L1466.9,586.5 L1467.9,585 L1468.9,583.6 L1469.9,582.2 L1470.9,580.8 L1471.9,579.5 L1472.9,578.1 L1473.9,576.8 L1474.9,575.4 L1475.9,574.1 L1476.9,572.8 L1477.9,571.5 L1478.9,570.2 L1479.9,568.9 L1480.9,567.6 L1481.9,566.3 L1482.9,565.1 L1483.9,563.8 L1484.9,562.6 L1485.9,561.4 L1486.9,560.2 L1487.9,559 L1488.9,557.8 L1489.9,556.6 L1490.9,555.4 L1491.9,554.3 L1492.9,553.2 L1493.9,552 L1494.9,550.9 L1495.9,549.8 L1496.9,548.7 L1497.9,547.6 L1498.9,546.5 L1499.9,545.5 L1500.9,544.4 L1501.9,543.4 L1502.9,542.3 L1503.9,541.3 L1504.9,540.3 L1505.9,539.3 L1506.9,538.3 L1507.9,537.3 L1508.9,536.4 L1509.9,535.4 L1510.9,534.5 L1511.9,533.5 L1512.9,532.6 L1513.9,531.7 L1514.9,530.8 L1515.9,529.9 L1516.9,529 L1517.9,528.2 L1518.9,527.3 L1519.9,526.5 L1520.9,525.6 L1521.9,524.8 L1522.9,524 L1523.9,523.2 L1524.9,522.4 L1525.9,521.6 L1526.9,520.9 L1527.9,520.1 L1528.9,519.4 L1529.9,518.6 L1530.9,517.9 L1531.9,517.2 L1532.9,516.5 L1533.9,515.8 L1534.9,515.1 L1535.9,514.5 L1536.9,513.8 L1537.9,513.1 L1538.9,512.5 L1539.9,511.9 L1540.9,511.3 L1541.9,510.7 L1542.9,510.1 L1543.9,509.5 L1544.9,508.9 L1545.9,508.4 L1546.9,507.8 L1547.9,507.3 L1548.9,506.8 L1549.9,506.3 L1550.9,505.8 L1551.9,505.3 L1552.9,504.8 L1553.9,504.3 L1554.9,503.9 L1555.9,503.4 L1556.9,503 L1557.9,502.6 L1558.9,502.1 L1559.9,501.7 L1560.9,501.3 L1561.9,501 L1562.9,500.6 L1563.9,500.2 L1564.9,499.9 L1565.9,499.5 L1566.9,499.2 L1567.9,498.9 L1568.9,498.6 L1569.9,498.3 L1570.9,498 L1571.9,497.8 L1572.9,497.5 L1573.9,497.3 L1574.9,497 L1575.9,496.8 L1576.9,496.6 L1577.9,496.4 L1578.9,496.2 L1579.9,496 L1580.9,495.8 L1581.9,495.7 L1582.9,495.5 L1583.9,495.4 L1584.9,495.3 L1585.9,495.1 L1586.9,495 L1587.9,494.9 L1588.9,494.9 L1589.9,494.8 L1590.9,494.7 L1591.9,494.7 L1592.9,494.6 L1593.9,494.6 L1594.9,494.6 L1595.9,494.6 L1596.9,494.6 L1597.9,494.6 L1598.9,494.6 L1599.9,494.7 L1600.9,494.7 L1601.9,494.8 L1602.9,494.9 L1603.9,494.9 L1604.9,495 L1605.9,495.1 L1606.9,495.3 L1607.9,495.4 L1608.9,495.5 L1609.9,495.7 L1610.9,495.8 L1611.9,496 L1612.9,496.2 L1613.9,496.4 L1614.9,496.6 L1615.9,496.8 L1616.9,497 L1617.9,497.3 L1618.9,497.5 L1619.9,497.8 L1620.9,498 L1621.9,498.3 L1622.9,498.6 L1623.9,498.9 L1624.9,499.2 L1625.9,499.6 L1626.9,499.9 L1627.9,500.3 L1628.9,500.6 L1629.9,501 L1630.9,501.4 L1631.9,501.8 L1632.9,502.2 L1633.9,502.6 L1634.9,503 L1635.9,503.4 L1636.9,503.9 L1637.9,504.3 L1638.9,504.8 L1639.9,505.3 L1640.9,505.8 L1641.9,506.3 L1642.9,506.8 L1643.9,507.3 L1644.9,507.9 L1645.9,508.4 L1646.9,509 L1647.9,509.5 L1648.9,510.1 L1649.9,510.7 L1650.9,511.3 L1651.9,511.9 L1652.9,512.5 L1653.9,513.2 L1654.9,513.8 L1655.9,514.5 L1656.9,515.2 L1657.9,515.8 L1658.9,516.5 L1659.9,517.2 L1660.9,517.9 L1661.9,518.7 L1662.9,519.4 L1663.9,520.1 L1664.9,520.9 L1665.9,521.7 L1666.9,522.4 L1667.9,523.2 L1668.9,524 L1669.9,524.9 L1670.9,525.7 L1671.9,526.5 L1672.9,527.4 L1673.9,528.2 L1674.9,529.1 L1675.9,530 L1676.9,530.8 L1677.9,531.7 L1678.9,532.7 L1679.9,533.6 L1680.9,534.5 L1681.9,535.5 L1682.9,536.4 L1683.9,537.4 L1684.9,538.4 L1685.9,539.4 L1686.9,540.4 L1687.9,541.4 L1688.9,542.4 L1689.9,543.4 L1690.9,544.5 L1691.9,545.5 L1692.9,546.6 L1693.9,547.7 L1694.9,548.7 L1695.9,549.8 L1696.9,551 L1697.9,552.1 L1698.9,553.2 L1699.9,554.4 L1700.9,555.5 L1701.9,556.7 L1702.9,557.9 L1703.9,559 L1704.9,560.2 L1705.9,561.4 L1706.9,562.7 L1707.9,563.9 L1708.9,565.1 L1709.9,566.4 L1710.9,567.7 L1711.9,568.9 L1712.9,570.2 L1713.9,571.5 L1714.9,572.8 L1715.9,574.2 L1716.9,575.5 L1717.9,576.8 L1718.9,578.2 L1719.9,579.5 L1720.9,580.9 L1721.9,582.3 L1722.9,583.7 L1723.9,585.1 L1724.9,586.5 L1725.9,588 L1726.9,589.4 L1727.9,590.9 L1728.9,592.3 L1729.9,593.8 L1730.9,595.3 L1731.9,596.8 L1732.9,598.3 L1733.9,599.8 L1734.9,601.3 L1735.9,602.9 L1736.9,604.4 L1737.9,606 L1738.9,607.6 L1739.9,609.2 L1740.9,610.8 L1741.9,612.4 L1742.9,614 L1743.9,615.6 L1744.9,617.2 L1745.9,618.9 L1746.9,620.6 L1747.9,622.2 L1748.9,623.9 L1749.9,625.6 L1750.9,627.3 L1751.9,629 L1752.9,630.8 L1753.9,632.5 L1754.9,634.3 L1755.9,636 L1756.9,637.8 L1757.9,639.6 L1758.9,641.4 L1759.9,643.2 L1760.9,645 L1761.9,646.8 L1762.9,648.7 L1763.9,650.5 L1764.9,652.4 L1765.9,654.3 L1766.9,656.1 L1767.9,658 L1768.9,659.9 L1769.9,661.9 L1770.9,663.8 L1771.9,665.7 L1772.9,667.7 L1773.9,669.6 L1774.9,671.6 L1775.9,673.6 L1776.9,675.6 L1777.9,677.6 L1778.9,679.6 L1779.9,681.6 L1780.9,683.7 L1781.9,685.7 L1782.9,687.8 L1783.9,689.8 L1784.9,691.9 L1785.9,694 L1786.9,696.1 L1787.9,698.2 L1788.9,700.4 L1789.9,702.5 L1790.9,704.7 L1791.9,706.8 L1792.9,709 L1793.9,711.2 L1794.9,713.4 L1795.9,715.6 L1796.9,717.8 L1797.9,720 L1798.9,722.2 L1799.9,724.5 L1800.9,726.8 L1801.9,729 L1802.9,731.3 L1803.9,733.6 L1804.9,735.9 L1805.9,738.2 L1806.9,740.5 L1808,742.9" fill="none" stroke="#00f" stroke-width="10" stroke-dasharray="25.4 21.8"/>
</g>
<path d="M284.4,874.9V67.9 M716.6,874.9V67.9 M878.5,874.9V67.9 M949.5,874.9V67.9 M1135.5,874.9V67.9 M1480.6,874.9V67.9 M1557.6,874.9V67.9" stroke="#0f0" stroke-width="6.9" stroke-dasharray="24.8 5.1 13 5.1" fill="none"/>
<path d="M238.1,683.6H1805" stroke="#000" stroke-width="6.6" stroke-dasharray="6.8 5.2" fill="none"/>
<g fill="#262626"><text transform="translate(195.8,91.7) scale(1,1.04)" text-anchor="end" font-size="48">10</text><text transform="translate(217.4,68.1) scale(1,1.04)" text-anchor="end" font-size="37">0</text><text transform="translate(183.6,288.7) scale(1,1.04)" text-anchor="end" font-size="48">10</text><text transform="translate(183,265.1) scale(1.23,1.04)" font-size="37">-</text><text transform="translate(217.5,265.1) scale(1,1.04)" text-anchor="end" font-size="37">1</text><text transform="translate(183.6,485.6) scale(1,1.04)" text-anchor="end" font-size="48">10</text><text transform="translate(183,462) scale(1.23,1.04)" font-size="37">-</text><text transform="translate(217.5,462) scale(1,1.04)" text-anchor="end" font-size="37">2</text><text transform="translate(183.6,682.6) scale(1,1.04)" text-anchor="end" font-size="48">10</text><text transform="translate(183,659) scale(1.23,1.04)" font-size="37">-</text><text transform="translate(217.5,659) scale(1,1.04)" text-anchor="end" font-size="37">3</text><text transform="translate(183.6,879.6) scale(1,1.04)" text-anchor="end" font-size="48">10</text><text transform="translate(183,856) scale(1.23,1.04)" font-size="37">-</text><text transform="translate(217.5,856) scale(1,1.04)" text-anchor="end" font-size="37">4</text></g>
<text transform="translate(107.2,471.4) rotate(-90) scale(1,1.02)" text-anchor="middle" font-size="52.8" fill="#262626">Inf. Growth Rate</text>
<text x="1679" y="166.4" font-size="55" font-weight="bold" fill="#000">a)</text>
<text transform="translate(318,186.2) rotate(-90) scale(1,1.04)" font-size="48" fill="#000">NL1</text>
<text transform="translate(750.2,274.3) rotate(-90) scale(1,1.04)" font-size="48" fill="#000">End NL1</text>
<text transform="translate(912.1,274.3) rotate(-90) scale(1,1.04)" font-size="48" fill="#000">BO</text>
<text transform="translate(983.1,275.8) rotate(-90) scale(1,1.04)" font-size="48" fill="#000">SR</text>
<text transform="translate(1169.1,274) rotate(-90) scale(1,1.04)" font-size="48" fill="#000">RL</text>
<text transform="translate(1514.2,277) rotate(-90) scale(1,1.04)" font-size="48" fill="#000">VD</text>
<text transform="translate(1591.2,274.1) rotate(-90) scale(1,1.04)" font-size="48" fill="#000">NL2</text>
<defs><clipPath id="clipb"><rect x="235.9" y="872.9" width="1574" height="814.1"/></clipPath></defs>
<rect x="237.9" y="874.9" width="1570" height="810.1" fill="none" stroke="#262626" stroke-width="5.6"/>
<path d="M237.9,874.9H272.5 M1808,874.9H1773.4 M237.9,1013.1H256.9 M1808,1013.1H1789 M237.9,978.2H256.9 M1808,978.2H1789 M237.9,953.5H256.9 M1808,953.5H1789 M237.9,934.4H256.9 M1808,934.4H1789 M237.9,918.7H256.9 M1808,918.7H1789 M237.9,905.5H256.9 M1808,905.5H1789 M237.9,894H256.9 M1808,894H1789 M237.9,883.9H256.9 M1808,883.9H1789 M237.9,1072.6H272.5 M1808,1072.6H1773.4 M237.9,1210.8H256.9 M1808,1210.8H1789 M237.9,1176H256.9 M1808,1176H1789 M237.9,1151.3H256.9 M1808,1151.3H1789 M237.9,1132.1H256.9 M1808,1132.1H1789 M237.9,1116.4H256.9 M1808,1116.4H1789 M237.9,1103.2H256.9 M1808,1103.2H1789 M237.9,1091.7H256.9 M1808,1091.7H1789 M237.9,1081.6H256.9 M1808,1081.6H1789 M237.9,1270.3H272.5 M1808,1270.3H1773.4 M237.9,1408.5H256.9 M1808,1408.5H1789 M237.9,1373.7H256.9 M1808,1373.7H1789 M237.9,1349H256.9 M1808,1349H1789 M237.9,1329.8H256.9 M1808,1329.8H1789 M237.9,1314.2H256.9 M1808,1314.2H1789 M237.9,1300.9H256.9 M1808,1300.9H1789 M237.9,1289.5H256.9 M1808,1289.5H1789 M237.9,1279.4H256.9 M1808,1279.4H1789 M237.9,1468H272.5 M1808,1468H1773.4 M237.9,1606.2H256.9 M1808,1606.2H1789 M237.9,1571.4H256.9 M1808,1571.4H1789 M237.9,1546.7H256.9 M1808,1546.7H1789 M237.9,1527.6H256.9 M1808,1527.6H1789 M237.9,1511.9H256.9 M1808,1511.9H1789 M237.9,1498.7H256.9 M1808,1498.7H1789 M237.9,1487.2H256.9 M1808,1487.2H1789 M237.9,1477.1H256.9 M1808,1477.1H1789 M237.9,1665.8H272.5 M1808,1665.8H1773.4 M237.9,1684.9H256.9 M1808,1684.9H1789 M237.9,1674.8H256.9 M1808,1674.8H1789 M237.9,1674.8H256.9 M1808,1674.8H1789 M237.9,1684.9H256.9 M1808,1684.9H1789 M362.4,1685V1651 M362.4,874.9V908.9 M683,1685V1651 M683,874.9V908.9 M1006.5,1685V1651 M1006.5,874.9V908.9 M1329.9,1685V1651 M1329.9,874.9V908.9 M1646.9,1685V1651 M1646.9,874.9V908.9" stroke="#262626" stroke-width="5.5" fill="none"/>
<g fill="none" stroke="#000" stroke-width="3.1"><circle cx="237.9" cy="995.3" r="11.95"/><circle cx="241.4" cy="984.8" r="11.95"/><circle cx="244.9" cy="985.5" r="11.95"/><circle cx="248.5" cy="994.2" r="11.95"/><circle cx="252" cy="980.8" r="11.95"/><circle cx="255.5" cy="1000.7" r="11.95"/><circle cx="259" cy="1002" r="11.95"/><circle cx="262.5" cy="966.4" r="11.95"/><circle cx="266.1" cy="989.6" r="11.95"/><circle cx="269.6" cy="983.6" r="11.95"/><circle cx="273.1" cy="986.7" r="11.95"/><circle cx="276.6" cy="997.2" r="11.95"/><circle cx="280.1" cy="996.1" r="11.95"/><circle cx="283.7" cy="1006.4" r="11.95"/><circle cx="287.2" cy="1006.6" r="11.95"/><circle cx="290.7" cy="1010.2" r="11.95"/><circle cx="294.2" cy="1001.7" r="11.95"/><circle cx="297.7" cy="1009.7" r="11.95"/><circle cx="301.3" cy="1031.6" r="11.95"/><circle cx="304.8" cy="996.3" r="11.95"/><circle cx="308.3" cy="1042.6" r="11.95"/><circle cx="311.8" cy="1024.3" r="11.95"/><circle cx="315.3" cy="1046.5" r="11.95"/><circle cx="318.9" cy="1013.7" r="11.95"/><circle cx="322.4" cy="1040.6" r="11.95"/><circle cx="325.9" cy="1058.6" r="11.95"/><circle cx="329.4" cy="1057.2" r="11.95"/><circle cx="332.9" cy="1071.6" r="11.95"/><circle cx="336.5" cy="1058.5" r="11.95"/><circle cx="340" cy="1067.7" r="11.95"/><circle cx="343.5" cy="1072.9" r="11.95"/><circle cx="347" cy="1090.7" r="11.95"/><circle cx="350.5" cy="1096.6" r="11.95"/><circle cx="354.1" cy="1097.1" r="11.95"/><circle cx="357.6" cy="1102.1" r="11.95"/><circle cx="361.1" cy="1108.3" r="11.95"/><circle cx="364.6" cy="1118.5" r="11.95"/><circle cx="368.2" cy="1114.5" r="11.95"/><circle cx="371.7" cy="1129.7" r="11.95"/><circle cx="375.2" cy="1135.1" r="11.95"/><circle cx="378.7" cy="1137.2" r="11.95"/><circle cx="382.2" cy="1142.9" r="11.95"/><circle cx="385.8" cy="1169.2" r="11.95"/><circle cx="389.3" cy="1153.9" r="11.95"/><circle cx="392.8" cy="1169.6" r="11.95"/><circle cx="396.3" cy="1184.5" r="11.95"/><circle cx="399.8" cy="1183.3" r="11.95"/><circle cx="403.4" cy="1181" r="11.95"/><circle cx="406.9" cy="1195.7" r="11.95"/><circle cx="410.4" cy="1175.8" r="11.95"/><circle cx="413.9" cy="1182.2" r="11.95"/><circle cx="417.4" cy="1194.8" r="11.95"/><circle cx="421" cy="1200.7" r="11.95"/><circle cx="424.5" cy="1206" r="11.95"/><circle cx="428" cy="1229.7" r="11.95"/><circle cx="431.5" cy="1231.8" r="11.95"/><circle cx="435" cy="1218.4" r="11.95"/><circle cx="438.6" cy="1225.3" r="11.95"/><circle cx="442.1" cy="1217.6" r="11.95"/><circle cx="445.6" cy="1233.8" r="11.95"/><circle cx="449.1" cy="1221.2" r="11.95"/><circle cx="452.6" cy="1252.7" r="11.95"/><circle cx="456.2" cy="1237.6" r="11.95"/><circle cx="459.7" cy="1252.8" r="11.95"/><circle cx="463.2" cy="1237.9" r="11.95"/><circle cx="466.7" cy="1270.3" r="11.95"/><circle cx="470.2" cy="1266.7" r="11.95"/><circle cx="473.8" cy="1285.6" r="11.95"/><circle cx="477.3" cy="1270.4" r="11.95"/><circle cx="480.8" cy="1257.2" r="11.95"/><circle cx="484.3" cy="1270.9" r="11.95"/><circle cx="487.8" cy="1270.7" r="11.95"/><circle cx="491.4" cy="1306.7" r="11.95"/><circle cx="494.9" cy="1287.6" r="11.95"/><circle cx="498.4" cy="1291.2" r="11.95"/><circle cx="501.9" cy="1311.3" r="11.95"/><circle cx="505.4" cy="1312.8" r="11.95"/><circle cx="509" cy="1320.4" r="11.95"/><circle cx="512.5" cy="1314.1" r="11.95"/><circle cx="516" cy="1301.7" r="11.95"/><circle cx="519.5" cy="1313.8" r="11.95"/><circle cx="523" cy="1308.6" r="11.95"/><circle cx="526.6" cy="1353.8" r="11.95"/><circle cx="530.1" cy="1353.8" r="11.95"/><circle cx="533.6" cy="1342.7" r="11.95"/><circle cx="537.1" cy="1358.6" r="11.95"/><circle cx="945.5" cy="1562.9" r="11.95"/><circle cx="949" cy="1552.2" r="11.95"/><circle cx="952.5" cy="1540.9" r="11.95"/><circle cx="956" cy="1538.4" r="11.95"/><circle cx="959.6" cy="1546.8" r="11.95"/><circle cx="963.1" cy="1533.4" r="11.95"/><circle cx="966.6" cy="1566.9" r="11.95"/><circle cx="970.1" cy="1539.4" r="11.95"/><circle cx="973.6" cy="1537.9" r="11.95"/><circle cx="977.2" cy="1537.1" r="11.95"/><circle cx="980.7" cy="1516.5" r="11.95"/><circle cx="984.2" cy="1518.5" r="11.95"/><circle cx="987.7" cy="1528" r="11.95"/><circle cx="991.2" cy="1529.1" r="11.95"/><circle cx="994.8" cy="1513.7" r="11.95"/><circle cx="1005.3" cy="1529.4" r="11.95"/><circle cx="1008.8" cy="1523.9" r="11.95"/><circle cx="1012.4" cy="1505.4" r="11.95"/><circle cx="1015.9" cy="1526.5" r="11.95"/><circle cx="1019.4" cy="1498.5" r="11.95"/><circle cx="1022.9" cy="1473.6" r="11.95"/><circle cx="1026.4" cy="1463.4" r="11.95"/><circle cx="1030" cy="1479.2" r="11.95"/><circle cx="1033.5" cy="1480.6" r="11.95"/><circle cx="1037" cy="1466.3" r="11.95"/><circle cx="1040.5" cy="1474.1" r="11.95"/><circle cx="1047.6" cy="1448" r="11.95"/><circle cx="1051.1" cy="1441.6" r="11.95"/><circle cx="1058.1" cy="1421.7" r="11.95"/><circle cx="1061.6" cy="1414.3" r="11.95"/><circle cx="1065.2" cy="1412.9" r="11.95"/><circle cx="1068.7" cy="1406.1" r="11.95"/><circle cx="1072.2" cy="1396.3" r="11.95"/><circle cx="1075.7" cy="1372.8" r="11.95"/><circle cx="1079.2" cy="1378.8" r="11.95"/><circle cx="1082.8" cy="1374.4" r="11.95"/><circle cx="1086.3" cy="1357.8" r="11.95"/><circle cx="1089.8" cy="1357.2" r="11.95"/><circle cx="1093.3" cy="1350.5" r="11.95"/><circle cx="1096.9" cy="1347.5" r="11.95"/><circle cx="1103.9" cy="1328.3" r="11.95"/><circle cx="1110.9" cy="1312.5" r="11.95"/><circle cx="1114.5" cy="1300.7" r="11.95"/><circle cx="1118" cy="1297.7" r="11.95"/><circle cx="1125" cy="1288.7" r="11.95"/><circle cx="1128.5" cy="1291.8" r="11.95"/><circle cx="1132.1" cy="1286.6" r="11.95"/><circle cx="1135.6" cy="1283.4" r="11.95"/><circle cx="1139.1" cy="1271.6" r="11.95"/><circle cx="1142.6" cy="1281.1" r="11.95"/><circle cx="1146.1" cy="1261" r="11.95"/><circle cx="1149.7" cy="1268.4" r="11.95"/><circle cx="1156.7" cy="1248.9" r="11.95"/><circle cx="1160.2" cy="1246.6" r="11.95"/><circle cx="1163.7" cy="1256.7" r="11.95"/><circle cx="1167.3" cy="1248.3" r="11.95"/><circle cx="1170.8" cy="1248.2" r="11.95"/><circle cx="1174.3" cy="1270.4" r="11.95"/><circle cx="1177.8" cy="1247.3" r="11.95"/><circle cx="1181.3" cy="1242.1" r="11.95"/><circle cx="1188.4" cy="1234" r="11.95"/><circle cx="1191.9" cy="1236.9" r="11.95"/><circle cx="1195.4" cy="1241.6" r="11.95"/><circle cx="1198.9" cy="1230.8" r="11.95"/><circle cx="1206" cy="1236.2" r="11.95"/><circle cx="1213" cy="1224.2" r="11.95"/><circle cx="1227.1" cy="1234.5" r="11.95"/><circle cx="1230.6" cy="1233.9" r="11.95"/><circle cx="1237.7" cy="1245.7" r="11.95"/><circle cx="1244.7" cy="1245.3" r="11.95"/><circle cx="1248.2" cy="1247.3" r="11.95"/><circle cx="1251.7" cy="1260.3" r="11.95"/><circle cx="1255.3" cy="1265.9" r="11.95"/><circle cx="1258.8" cy="1270.4" r="11.95"/><circle cx="1262.3" cy="1265.6" r="11.95"/><circle cx="1265.8" cy="1270.8" r="11.95"/><circle cx="1269.3" cy="1265.2" r="11.95"/><circle cx="1272.9" cy="1285" r="11.95"/><circle cx="1279.9" cy="1289" r="11.95"/><circle cx="1283.4" cy="1270.1" r="11.95"/><circle cx="1286.9" cy="1292.7" r="11.95"/><circle cx="1290.5" cy="1282.5" r="11.95"/><circle cx="1294" cy="1294.8" r="11.95"/><circle cx="1301" cy="1305.2" r="11.95"/><circle cx="1304.5" cy="1296" r="11.95"/><circle cx="1308.1" cy="1296.6" r="11.95"/><circle cx="1311.6" cy="1293" r="11.95"/><circle cx="1315.1" cy="1293.1" r="11.95"/><circle cx="1318.6" cy="1308.5" r="11.95"/><circle cx="1322.1" cy="1297.8" r="11.95"/><circle cx="1325.7" cy="1311.4" r="11.95"/><circle cx="1329.2" cy="1303.7" r="11.95"/><circle cx="1332.7" cy="1302.9" r="11.95"/><circle cx="1343.3" cy="1300.6" r="11.95"/><circle cx="1346.8" cy="1307.3" r="11.95"/><circle cx="1350.3" cy="1308.7" r="11.95"/><circle cx="1357.4" cy="1302.9" r="11.95"/><circle cx="1364.4" cy="1307.9" r="11.95"/><circle cx="1367.9" cy="1314.3" r="11.95"/><circle cx="1371.4" cy="1315.9" r="11.95"/><circle cx="1375" cy="1304.6" r="11.95"/><circle cx="1378.5" cy="1323" r="11.95"/><circle cx="1382" cy="1312.6" r="11.95"/><circle cx="1385.5" cy="1303.2" r="11.95"/><circle cx="1392.6" cy="1306.4" r="11.95"/><circle cx="1396.1" cy="1292" r="11.95"/><circle cx="1399.6" cy="1313.1" r="11.95"/><circle cx="1410.2" cy="1318.4" r="11.95"/><circle cx="1413.7" cy="1301.9" r="11.95"/><circle cx="1417.2" cy="1314.6" r="11.95"/><circle cx="1420.7" cy="1323.8" r="11.95"/><circle cx="1438.3" cy="1310.7" r="11.95"/><circle cx="1441.8" cy="1324.7" r="11.95"/><circle cx="1445.4" cy="1331" r="11.95"/><circle cx="1448.9" cy="1349.6" r="11.95"/><circle cx="1452.4" cy="1331.7" r="11.95"/><circle cx="1455.9" cy="1330.3" r="11.95"/><circle cx="1459.4" cy="1341.8" r="11.95"/><circle cx="1463" cy="1344.9" r="11.95"/><circle cx="1473.5" cy="1348.7" r="11.95"/><circle cx="1477" cy="1340.6" r="11.95"/><circle cx="1484.1" cy="1356.1" r="11.95"/><circle cx="1491.1" cy="1366.7" r="11.95"/><circle cx="1494.6" cy="1355.9" r="11.95"/><circle cx="1498.2" cy="1369.6" r="11.95"/><circle cx="1501.7" cy="1372.9" r="11.95"/><circle cx="1505.2" cy="1364.7" r="11.95"/><circle cx="1508.7" cy="1374.9" r="11.95"/><circle cx="1515.8" cy="1370.3" r="11.95"/><circle cx="1522.8" cy="1376" r="11.95"/><circle cx="1526.3" cy="1392.5" r="11.95"/><circle cx="1536.9" cy="1366.6" r="11.95"/><circle cx="1547.4" cy="1364.5" r="11.95"/><circle cx="1551" cy="1384.7" r="11.95"/><circle cx="1554.5" cy="1369.1" r="11.95"/><circle cx="1561.5" cy="1354.6" r="11.95"/><circle cx="1565" cy="1357" r="11.95"/><circle cx="1579.1" cy="1339.9" r="11.95"/><circle cx="1586.2" cy="1337.8" r="11.95"/><circle cx="1593.2" cy="1344.7" r="11.95"/><circle cx="1596.7" cy="1331.2" r="11.95"/><circle cx="1600.3" cy="1363.1" r="11.95"/><circle cx="1603.8" cy="1340.8" r="11.95"/><circle cx="1607.3" cy="1354.1" r="11.95"/><circle cx="1610.8" cy="1334.3" r="11.95"/><circle cx="1617.9" cy="1339.7" r="11.95"/><circle cx="1621.4" cy="1338.7" r="11.95"/><circle cx="1631.9" cy="1323.1" r="11.95"/><circle cx="1635.5" cy="1329.6" r="11.95"/><circle cx="1639" cy="1337.4" r="11.95"/><circle cx="1642.5" cy="1339.5" r="11.95"/><circle cx="1649.5" cy="1332.4" r="11.95"/><circle cx="1653.1" cy="1339.8" r="11.95"/><circle cx="1656.6" cy="1344.6" r="11.95"/><circle cx="1667.1" cy="1315.8" r="11.95"/><circle cx="1670.7" cy="1331" r="11.95"/><circle cx="1674.2" cy="1343.3" r="11.95"/><circle cx="1681.2" cy="1340.9" r="11.95"/><circle cx="1684.7" cy="1356.7" r="11.95"/><circle cx="1688.3" cy="1343.1" r="11.95"/><circle cx="1691.8" cy="1338.4" r="11.95"/><circle cx="1695.3" cy="1350.6" r="11.95"/><circle cx="1702.3" cy="1343.9" r="11.95"/><circle cx="1705.9" cy="1363.3" r="11.95"/><circle cx="1719.9" cy="1364.8" r="11.95"/><circle cx="1727" cy="1366.9" r="11.95"/><circle cx="1730.5" cy="1368.7" r="11.95"/><circle cx="1737.5" cy="1383.1" r="11.95"/><circle cx="1741.1" cy="1386.4" r="11.95"/><circle cx="1744.6" cy="1387" r="11.95"/><circle cx="1751.6" cy="1414" r="11.95"/><circle cx="1755.1" cy="1395.3" r="11.95"/><circle cx="1758.7" cy="1412.4" r="11.95"/><circle cx="1765.7" cy="1436.7" r="11.95"/><circle cx="1769.2" cy="1410.1" r="11.95"/><circle cx="1772.7" cy="1419" r="11.95"/><circle cx="1776.3" cy="1427.2" r="11.95"/><circle cx="1779.8" cy="1419.8" r="11.95"/><circle cx="1783.3" cy="1434.4" r="11.95"/><circle cx="1786.8" cy="1446.8" r="11.95"/><circle cx="1793.9" cy="1452.3" r="11.95"/><circle cx="1797.4" cy="1470.9" r="11.95"/><circle cx="1800.9" cy="1457.1" r="11.95"/><circle cx="1804.4" cy="1460.2" r="11.95"/><circle cx="1808" cy="1452.6" r="11.95"/><circle cx="546.7" cy="1344.4" r="11.95"/><circle cx="573.3" cy="1358.8" r="11.95"/><circle cx="558.8" cy="1389.9" r="11.95"/><circle cx="565.5" cy="1402.1" r="11.95"/><circle cx="592.1" cy="1382.1" r="11.95"/><circle cx="608.7" cy="1392.1" r="11.95"/><circle cx="623.1" cy="1393.2" r="11.95"/><circle cx="639.8" cy="1409.8" r="11.95"/><circle cx="581" cy="1422" r="11.95"/><circle cx="597.6" cy="1428.7" r="11.95"/><circle cx="612.1" cy="1427.6" r="11.95"/><circle cx="552.2" cy="1428.7" r="11.95"/><circle cx="624.3" cy="1446.4" r="11.95"/><circle cx="635.3" cy="1446.4" r="11.95"/><circle cx="647.5" cy="1434.2" r="11.95"/><circle cx="632" cy="1467.5" r="11.95"/><circle cx="664.2" cy="1466.4" r="11.95"/><circle cx="688.6" cy="1478.6" r="11.95"/><circle cx="627.6" cy="1489.7" r="11.95"/><circle cx="649.8" cy="1497.4" r="11.95"/><circle cx="666.4" cy="1477.5" r="11.95"/><circle cx="681.9" cy="1505.2" r="11.95"/><circle cx="655.3" cy="1522.9" r="11.95"/><circle cx="560" cy="1355.5" r="11.95"/><circle cx="580" cy="1372" r="11.95"/><circle cx="600" cy="1395" r="11.95"/><circle cx="655" cy="1450" r="11.95"/><circle cx="672" cy="1470" r="11.95"/><circle cx="706.2" cy="1477.7" r="11.95"/><circle cx="696.2" cy="1507.7" r="11.95"/><circle cx="737.7" cy="1513.1" r="11.95"/><circle cx="731.6" cy="1526.2" r="11.95"/><circle cx="756.2" cy="1537.8" r="11.95"/><circle cx="741.6" cy="1546.2" r="11.95"/><circle cx="751.6" cy="1549.3" r="11.95"/><circle cx="725.4" cy="1552.4" r="11.95"/><circle cx="740.8" cy="1567.8" r="11.95"/><circle cx="760.8" cy="1575.5" r="11.95"/><circle cx="759.3" cy="1583.2" r="11.95"/><circle cx="779.3" cy="1563.2" r="11.95"/><circle cx="800.8" cy="1557" r="11.95"/><circle cx="819.3" cy="1549.3" r="11.95"/><circle cx="808.5" cy="1573.9" r="11.95"/><circle cx="790.1" cy="1581.6" r="11.95"/><circle cx="797.8" cy="1592.4" r="11.95"/><circle cx="833.2" cy="1573.9" r="11.95"/><circle cx="699.2" cy="1590.9" r="11.95"/><circle cx="699.2" cy="1603.2" r="11.95"/><circle cx="720.8" cy="1603.2" r="11.95"/><circle cx="783.9" cy="1617" r="11.95"/><circle cx="811.6" cy="1617" r="11.95"/><circle cx="831.6" cy="1615.5" r="11.95"/><circle cx="825.5" cy="1617" r="11.95"/><circle cx="767" cy="1633.2" r="11.95"/><circle cx="776.2" cy="1631.7" r="11.95"/><circle cx="782.4" cy="1629.3" r="11.95"/><circle cx="800.8" cy="1630.9" r="11.95"/><circle cx="864" cy="1581.6" r="11.95"/><circle cx="882.4" cy="1551.6" r="11.95"/><circle cx="857.8" cy="1603.2" r="11.95"/><circle cx="871.7" cy="1603.2" r="11.95"/><circle cx="859.3" cy="1617" r="11.95"/><circle cx="854.7" cy="1634" r="11.95"/><circle cx="825.5" cy="1652.4" r="11.95"/><circle cx="848.6" cy="1652.4" r="11.95"/><circle cx="860" cy="1652.4" r="11.95"/><circle cx="874.7" cy="1652.4" r="11.95"/><circle cx="896.3" cy="1652.4" r="11.95"/><circle cx="748.5" cy="1675.5" r="11.95"/><circle cx="787" cy="1675.5" r="11.95"/><circle cx="814.7" cy="1675.5" r="11.95"/><circle cx="840.9" cy="1675.5" r="11.95"/><circle cx="867" cy="1675.5" r="11.95"/><circle cx="888.6" cy="1580.1" r="11.95"/><circle cx="916.3" cy="1538.5" r="11.95"/><circle cx="930.2" cy="1541.6" r="11.95"/><circle cx="911.7" cy="1561.6" r="11.95"/><circle cx="925.5" cy="1572.4" r="11.95"/><circle cx="905.5" cy="1594" r="11.95"/><circle cx="920.9" cy="1594" r="11.95"/><circle cx="902.4" cy="1617" r="11.95"/><circle cx="907" cy="1617" r="11.95"/><circle cx="936.3" cy="1618.6" r="11.95"/><circle cx="880.9" cy="1632.4" r="11.95"/><circle cx="888.6" cy="1617" r="11.95"/><circle cx="671" cy="1592" r="11.95"/><circle cx="676.5" cy="1616.5" r="11.95"/><circle cx="712" cy="1600" r="11.95"/><circle cx="771" cy="1630" r="11.95"/><circle cx="843.5" cy="1337.5" r="11.95"/><circle cx="261" cy="963.1" r="11.95"/><circle cx="281.7" cy="960.5" r="11.95"/><circle cx="237.8" cy="978.6" r="11.95"/><circle cx="250.7" cy="978.6" r="11.95"/><circle cx="289.5" cy="986.4" r="11.95"/><circle cx="245.5" cy="1020" r="11.95"/><circle cx="240.3" cy="1027.7" r="11.95"/><circle cx="255.9" cy="1038.1" r="11.95"/><circle cx="276.5" cy="1035.5" r="11.95"/><circle cx="299.8" cy="1056.2" r="11.95"/><circle cx="284.3" cy="1009.6" r="11.95"/><circle cx="305" cy="1007" r="11.95"/><circle cx="325.7" cy="1027.7" r="11.95"/><circle cx="1054.5" cy="1394" r="11.95"/><circle cx="1087.8" cy="1388.4" r="11.95"/><circle cx="1073" cy="1408.8" r="11.95"/><circle cx="1067.5" cy="1443.9" r="11.95"/><circle cx="1049" cy="1456.8" r="11.95"/><circle cx="1041.6" cy="1484.5" r="11.95"/><circle cx="965.9" cy="1495.6" r="11.95"/><circle cx="1087.8" cy="1353.3" r="11.95"/><circle cx="1110" cy="1321.9" r="11.95"/><circle cx="1097" cy="1312.7" r="11.95"/><circle cx="1115.5" cy="1288.7" r="11.95"/><circle cx="1124.7" cy="1273.9" r="11.95"/><circle cx="1130.3" cy="1255.4" r="11.95"/><circle cx="1145" cy="1283.1" r="11.95"/><circle cx="1152.5" cy="1231.4" r="11.95"/><circle cx="1170.9" cy="1222.2" r="11.95"/><circle cx="1170.9" cy="1261" r="11.95"/><circle cx="1198.6" cy="1220.3" r="11.95"/><circle cx="1193.1" cy="1259.1" r="11.95"/><circle cx="1215.3" cy="1268.4" r="11.95"/><circle cx="1230" cy="1218.5" r="11.95"/><circle cx="1235.6" cy="1277.6" r="11.95"/><circle cx="1255.9" cy="1231.7" r="11.95"/><circle cx="1274.3" cy="1242.8" r="11.95"/><circle cx="1281.7" cy="1265" r="11.95"/><circle cx="1298.4" cy="1272.4" r="11.95"/><circle cx="1322.4" cy="1272.4" r="11.95"/><circle cx="1346.4" cy="1277.9" r="11.95"/><circle cx="1370.4" cy="1285.3" r="11.95"/><circle cx="1396.3" cy="1290.8" r="11.95"/><circle cx="1420.3" cy="1303.8" r="11.95"/><circle cx="1448" cy="1313" r="11.95"/><circle cx="1470.2" cy="1327.8" r="11.95"/><circle cx="1497.9" cy="1342.6" r="11.95"/><circle cx="1520" cy="1344.4" r="11.95"/><circle cx="1266.9" cy="1290.8" r="11.95"/><circle cx="1291" cy="1324.1" r="11.95"/><circle cx="1313.1" cy="1340.7" r="11.95"/><circle cx="1315" cy="1353.7" r="11.95"/><circle cx="1339" cy="1331.5" r="11.95"/><circle cx="1364.9" cy="1333.3" r="11.95"/><circle cx="1390.7" cy="1333.3" r="11.95"/><circle cx="1416.6" cy="1327.8" r="11.95"/><circle cx="1412.9" cy="1353.7" r="11.95"/><circle cx="1440.6" cy="1350" r="11.95"/><circle cx="1436.9" cy="1377.7" r="11.95"/><circle cx="1462.8" cy="1370.3" r="11.95"/><circle cx="1484.9" cy="1388.8" r="11.95"/><circle cx="1510.8" cy="1386.9" r="11.95"/><circle cx="1525.6" cy="1401.7" r="11.95"/><circle cx="1523.7" cy="1348.7" r="11.95"/><circle cx="1544" cy="1350.5" r="11.95"/><circle cx="1536.6" cy="1404.1" r="11.95"/><circle cx="1562.5" cy="1398.6" r="11.95"/><circle cx="1569.9" cy="1345" r="11.95"/><circle cx="1584.7" cy="1380.1" r="11.95"/><circle cx="1592" cy="1322.8" r="11.95"/><circle cx="1610.5" cy="1370.8" r="11.95"/><circle cx="1617.9" cy="1317.3" r="11.95"/><circle cx="1634.5" cy="1372.7" r="11.95"/><circle cx="1641.9" cy="1322.8" r="11.95"/><circle cx="1662.3" cy="1376.4" r="11.95"/><circle cx="1671.5" cy="1311.7" r="11.95"/><circle cx="1677" cy="1300.6" r="11.95"/><circle cx="1671.5" cy="1333.9" r="11.95"/><circle cx="1682.6" cy="1369" r="11.95"/><circle cx="1693.7" cy="1337.6" r="11.95"/><circle cx="1706.6" cy="1394.9" r="11.95"/><circle cx="1715.8" cy="1354.2" r="11.95"/><circle cx="1732.4" cy="1407.8" r="11.95"/><circle cx="1741.7" cy="1361.6" r="11.95"/><circle cx="1758.3" cy="1444.7" r="11.95"/><circle cx="1765.7" cy="1378.2" r="11.95"/><circle cx="1793.4" cy="1393" r="11.95"/><circle cx="1784.2" cy="1448.4" r="11.95"/><circle cx="1800.8" cy="1422.6" r="11.95"/><circle cx="1806.3" cy="1450.3" r="11.95"/><circle cx="1806.3" cy="1483.5" r="11.95"/><circle cx="1760.2" cy="1393" r="11.95"/><circle cx="1778.6" cy="1404.1" r="11.95"/></g>
<g clip-path="url(#clipb)">
<path d="M237.9,988.3 L238.9,988 L239.9,987.8 L240.9,987.7 L241.9,987.5 L242.9,987.4 L243.9,987.2 L244.9,987.1 L245.9,987.1 L246.9,987 L247.9,987 L248.9,987 L249.9,987 L250.9,987.1 L251.9,987.1 L252.9,987.2 L253.9,987.3 L254.9,987.4 L255.9,987.6 L256.9,987.8 L257.9,988 L258.9,988.2 L259.9,988.4 L260.9,988.7 L261.9,989 L262.9,989.3 L263.9,989.6 L264.9,989.9 L265.9,990.3 L266.9,990.7 L267.9,991.1 L268.9,991.5 L269.9,992 L270.9,992.5 L271.9,993 L272.9,993.5 L273.9,994 L274.9,994.6 L275.9,995.2 L276.9,995.8 L277.9,996.4 L278.9,997.1 L279.9,997.7 L280.9,998.4 L281.9,999.2 L282.9,999.9 L283.9,1000.6 L284.9,1001.4 L285.9,1002.2 L286.9,1003 L287.9,1003.9 L288.9,1004.7 L289.9,1005.6 L290.9,1006.5 L291.9,1007.4 L292.9,1008.4 L293.9,1009.3 L294.9,1010.3 L295.9,1011.3 L296.9,1012.3 L297.9,1013.4 L298.9,1014.5 L299.9,1015.5 L300.9,1016.6 L301.9,1017.8 L302.9,1018.9 L303.9,1020.1 L304.9,1021.2 L305.9,1022.4 L306.9,1023.7 L307.9,1024.9 L308.9,1026.1 L309.9,1027.4 L310.9,1028.7 L311.9,1030 L312.9,1031.3 L313.9,1032.7 L314.9,1034 L315.9,1035.4 L316.9,1036.8 L317.9,1038.2 L318.9,1039.7 L319.9,1041.1 L320.9,1042.6 L321.9,1044.1 L322.9,1045.6 L323.9,1047.1 L324.9,1048.6 L325.9,1050.1 L326.9,1051.7 L327.9,1053.3 L328.9,1054.8 L329.9,1056.4 L330.9,1058.1 L331.9,1059.7 L332.9,1061.3 L333.9,1063 L334.9,1064.6 L335.9,1066.3 L336.9,1068 L337.9,1069.7 L338.9,1071.4 L339.9,1073.1 L340.9,1074.9 L341.9,1076.6 L342.9,1078.3 L343.9,1080.1 L344.9,1081.9 L345.9,1083.6 L346.9,1085.4 L347.9,1087.2 L348.9,1089 L349.9,1090.8 L350.9,1092.6 L351.9,1094.4 L352.9,1096.2 L353.9,1098 L354.9,1099.9 L355.9,1101.7 L356.9,1103.5 L357.9,1105.3 L358.9,1107.2 L359.9,1109 L360.9,1110.8 L361.9,1112.6 L362.9,1114.5 L363.9,1116.3 L364.9,1118.1 L365.9,1119.9 L366.9,1121.7 L367.9,1123.5 L368.9,1125.3 L369.9,1127.1 L370.9,1128.9 L371.9,1130.7 L372.9,1132.5 L373.9,1134.2 L374.9,1136 L375.9,1137.7 L376.9,1139.5 L377.9,1141.2 L378.9,1142.9 L379.9,1144.6 L380.9,1146.3 L381.9,1148 L382.9,1149.7 L383.9,1151.4 L384.9,1153 L385.9,1154.6 L386.9,1156.3 L387.9,1157.9 L388.9,1159.5 L389.9,1161 L390.9,1162.6 L391.9,1164.2 L392.9,1165.7 L393.9,1167.2 L394.9,1168.7 L395.9,1170.2 L396.9,1171.7 L397.9,1173.1 L398.9,1174.6 L399.9,1176 L400.9,1177.4 L401.9,1178.8 L402.9,1180.2 L403.9,1181.5 L404.9,1182.9 L405.9,1184.2 L406.9,1185.6 L407.9,1186.9 L408.9,1188.2 L409.9,1189.4 L410.9,1190.7 L411.9,1192 L412.9,1193.2 L413.9,1194.5 L414.9,1195.7 L415.9,1196.9 L416.9,1198.1 L417.9,1199.3 L418.9,1200.5 L419.9,1201.7 L420.9,1202.8 L421.9,1204 L422.9,1205.2 L423.9,1206.3 L424.9,1207.4 L425.9,1208.6 L426.9,1209.7 L427.9,1210.8 L428.9,1212 L429.9,1213.1 L430.9,1214.2 L431.9,1215.3 L432.9,1216.4 L433.9,1217.5 L434.9,1218.6 L435.9,1219.8 L436.9,1220.9 L437.9,1222 L438.9,1223.1 L439.9,1224.2 L440.9,1225.3 L441.9,1226.4 L442.9,1227.5 L443.9,1228.7 L444.9,1229.8 L445.9,1230.9 L446.9,1232.1 L447.9,1233.2 L448.9,1234.3 L449.9,1235.5 L450.9,1236.6 L451.9,1237.8 L452.9,1239 L453.9,1240.1 L454.9,1241.3 L455.9,1242.5 L456.9,1243.7 L457.9,1244.9 L458.9,1246.1 L459.9,1247.3 L460.9,1248.5 L461.9,1249.8 L462.9,1251 L463.9,1252.3 L464.9,1253.5 L465.9,1254.8 L466.9,1256 L467.9,1257.3 L468.9,1258.6 L469.9,1259.9 L470.9,1261.2 L471.9,1262.5 L472.9,1263.8 L473.9,1265.2 L474.9,1266.5 L475.9,1267.8 L476.9,1269.2 L477.9,1270.5 L478.9,1271.9 L479.9,1273.3 L480.9,1274.6 L481.9,1276 L482.9,1277.4 L483.9,1278.8 L484.9,1280.2 L485.9,1281.6 L486.9,1283 L487.9,1284.5 L488.9,1285.9 L489.9,1287.3 L490.9,1288.7 L491.9,1290.2 L492.9,1291.6 L493.9,1293.1 L494.9,1294.5 L495.9,1296 L496.9,1297.4 L497.9,1298.9 L498.9,1300.3 L499.9,1301.8 L500.9,1303.2 L501.9,1304.7 L502.9,1306.1 L503.9,1307.6 L504.9,1309 L505.9,1310.4 L506.9,1311.9 L507.9,1313.3 L508.9,1314.7 L509.9,1316.2 L510.9,1317.6 L511.9,1319 L512.9,1320.4 L513.9,1321.8 L514.9,1323.2 L515.9,1324.6 L516.9,1326 L517.9,1327.3 L518.9,1328.7 L519.9,1330 L520.9,1331.4 L521.9,1332.7 L522.9,1334 L523.9,1335.3 L524.9,1336.6 L525.9,1337.9 L526.9,1339.1 L527.9,1340.4 L528.9,1341.6 L529.9,1342.8 L530.9,1344 L531.9,1345.2 L532.9,1346.4 L533.9,1347.5 L534.9,1348.7 L535.9,1349.8 L536.9,1350.9 L537.9,1352 L538.9,1353.1 L539.9,1354.1 L540.9,1355.1 L541.9,1356.2 L542.9,1357.2 L543.9,1358.1 L544.9,1359.1 L545.9,1360.1 L546.9,1361 L547.9,1361.9 L548.9,1362.8 L549.9,1363.7 L550.9,1364.5 L551.9,1365.4 L552.9,1366.2 L553.9,1367 L554.9,1367.9 L555.9,1368.6 L556.9,1369.4 L557.9,1370.2 L558.9,1370.9 L559.9,1371.7 L560.9,1372.4 L561.9,1373.1 L562.9,1373.8 L563.9,1374.5 L564.9,1375.1 L565.9,1375.8 L566.9,1376.5 L567.9,1377.1 L568.9,1377.8 L569.9,1378.4 L570.9,1379 L571.9,1379.6 L572.9,1380.3 L573.9,1380.9 L574.9,1381.5 L575.9,1382.1 L576.9,1382.7 L577.9,1383.3 L578.9,1383.9 L579.9,1384.4 L580.9,1385 L581.9,1385.6 L582.9,1386.2 L583.9,1386.8 L584.9,1387.4 L585.9,1388 L586.9,1388.6 L587.9,1389.2 L588.9,1389.8 L589.9,1390.4 L590.9,1391 L591.9,1391.6 L592.9,1392.2 L593.9,1392.8 L594.9,1393.5 L595.9,1394.1 L596.9,1394.7 L597.9,1395.4 L598.9,1396.1 L599.9,1396.7 L600.9,1397.4 L601.9,1398.1 L602.9,1398.8 L603.9,1399.5 L604.9,1400.2 L605.9,1400.9 L606.9,1401.6 L607.9,1402.4 L608.9,1403.1 L609.9,1403.9 L610.9,1404.6 L611.9,1405.4 L612.9,1406.2 L613.9,1407 L614.9,1407.9 L615.9,1408.7 L616.9,1409.5 L617.9,1410.4 L618.9,1411.3 L619.9,1412.1 L620.9,1413 L621.9,1414 L622.9,1414.9 L623.9,1415.8 L624.9,1416.8 L625.9,1417.7 L626.9,1418.7 L627.9,1419.7 L628.9,1420.7 L629.9,1421.8 L630.9,1422.8 L631.9,1423.9 L632.9,1424.9 L633.9,1426 L634.9,1427.1 L635.9,1428.2 L636.9,1429.3 L637.9,1430.5 L638.9,1431.6 L639.9,1432.8 L640.9,1434 L641.9,1435.2 L642.9,1436.4 L643.9,1437.7 L644.9,1438.9 L645.9,1440.2 L646.9,1441.5 L647.9,1442.8 L648.9,1444.1 L649.9,1445.4 L650.9,1446.7 L651.9,1448.1 L652.9,1449.4 L653.9,1450.8 L654.9,1452.2 L655.9,1453.6 L656.9,1455.1 L657.9,1456.5 L658.9,1458 L659.9,1459.4 L660.9,1460.9 L661.9,1462.4 L662.9,1463.9 L663.9,1465.4 L664.9,1467 L665.9,1468.5 L666.9,1470.1 L667.9,1471.7 L668.9,1473.2 L669.9,1474.9 L670.9,1476.5 L671.9,1478.1 L672.9,1479.7 L673.9,1481.4 L674.9,1483 L675.9,1484.7 L676.9,1486.4 L677.9,1488.1 L678.9,1489.8 L679.9,1491.5 L680.9,1493.3 L681.9,1495 L682.9,1496.7 L683.9,1498.5 L684.9,1500.3 L685.9,1502 L686.9,1503.8 L687.9,1505.6 L688.9,1507.4 L689.9,1509.2 L690.9,1511 L691.9,1512.8 L692.9,1514.7 L693.9,1516.5 L694.9,1518.3 L695.9,1520.2 L696.9,1522 L697.9,1523.9 L698.9,1525.7 L699.9,1527.6 L700.9,1529.4 L701.9,1531.3 L702.9,1533.1 L703.9,1535 L704.9,1536.9 L705.9,1538.7 L706.9,1540.6 L707.9,1542.5 L708.9,1544.3 L709.9,1546.2 L710.9,1548 L711.9,1549.9 L712.9,1551.7 L713.9,1553.6 L714.9,1555.4 L715.9,1557.2 L716.9,1559 L717.9,1560.9 L718.9,1562.7 L719.9,1564.5 L720.9,1566.2 L721.9,1568 L722.9,1569.8 L723.9,1571.5 L724.9,1573.3 L725.9,1575 L726.9,1576.7 L727.9,1578.4 L728.9,1580.1 L729.9,1581.8 L730.9,1583.5 L731.9,1585.1 L732.9,1586.7 L733.9,1588.3 L734.9,1589.9 L735.9,1591.5 L736.9,1593 L737.9,1594.6 L738.9,1596.1 L739.9,1597.5 L740.9,1599 L741.9,1600.5 L742.9,1601.9 L743.9,1603.3 L744.9,1604.6 L745.9,1606 L746.9,1607.3 L747.9,1608.6 L748.9,1609.9 L749.9,1611.1 L750.9,1612.3 L751.9,1613.5 L752.9,1614.7 L753.9,1615.8 L754.9,1617 L755.9,1618.1 L756.9,1619.1 L757.9,1620.2 L758.9,1621.2 L759.9,1622.1 L760.9,1623.1 L761.9,1624 L762.9,1624.9 L763.9,1625.8 L764.9,1626.6 L765.9,1627.5 L766.9,1628.2 L767.9,1629 L768.9,1629.8 L769.9,1630.5 L770.9,1631.2 L771.9,1631.8 L772.9,1632.5 L773.9,1633.1 L774.9,1633.6 L775.9,1634.2 L776.9,1634.7 L777.9,1635.3 L778.9,1635.7 L779.9,1636.2 L780.9,1636.7 L781.9,1637.1 L782.9,1637.5 L783.9,1637.8 L784.9,1638.2 L785.9,1638.5 L786.9,1638.8 L787.9,1639.1 L788.9,1639.4 L789.9,1639.6 L790.9,1639.9 L791.9,1640.1 L792.9,1640.3 L793.9,1640.4 L794.9,1640.6 L795.9,1640.7 L796.9,1640.8 L797.9,1640.9 L798.9,1641 L799.9,1641 L800.9,1641.1 L801.9,1641.1 L802.9,1641.1 L803.9,1641.1 L804.9,1641.1 L805.9,1641 L806.9,1641 L807.9,1640.9 L808.9,1640.8 L809.9,1640.7 L810.9,1640.6 L811.9,1640.4 L812.9,1640.3 L813.9,1640.1 L814.9,1639.9 L815.9,1639.7 L816.9,1639.5 L817.9,1639.3 L818.9,1639 L819.9,1638.7 L820.9,1638.5 L821.9,1638.2 L822.9,1637.9 L823.9,1637.6 L824.9,1637.2 L825.9,1636.9 L826.9,1636.5 L827.9,1636.1 L828.9,1635.8 L829.9,1635.4 L830.9,1634.9 L831.9,1634.5 L832.9,1634.1 L833.9,1633.6 L834.9,1633.1 L835.9,1632.7 L836.9,1632.2 L837.9,1631.7 L838.9,1631.1 L839.9,1630.6 L840.9,1630 L841.9,1629.5 L842.9,1628.9 L843.9,1628.3 L844.9,1627.7 L845.9,1627.1 L846.9,1626.5 L847.9,1625.9 L848.9,1625.2 L849.9,1624.6 L850.9,1623.9 L851.9,1623.2 L852.9,1622.5 L853.9,1621.8 L854.9,1621.1 L855.9,1620.4 L856.9,1619.7 L857.9,1618.9 L858.9,1618.2 L859.9,1617.4 L860.9,1616.7 L861.9,1615.9 L862.9,1615.1 L863.9,1614.3 L864.9,1613.5 L865.9,1612.7 L866.9,1611.9 L867.9,1611.1 L868.9,1610.3 L869.9,1609.4 L870.9,1608.6 L871.9,1607.7 L872.9,1606.9 L873.9,1606 L874.9,1605.2 L875.9,1604.3 L876.9,1603.4 L877.9,1602.6 L878.9,1601.7 L879.9,1600.8 L880.9,1599.9 L881.9,1599 L882.9,1598.1 L883.9,1597.2 L884.9,1596.3 L885.9,1595.5 L886.9,1594.6 L887.9,1593.7 L888.9,1592.8 L889.9,1591.9 L890.9,1591 L891.9,1590.1 L892.9,1589.2 L893.9,1588.3 L894.9,1587.4 L895.9,1586.5 L896.9,1585.6 L897.9,1584.7 L898.9,1583.8 L899.9,1583 L900.9,1582.1 L901.9,1581.2 L902.9,1580.3 L903.9,1579.5 L904.9,1578.6 L905.9,1577.8 L906.9,1576.9 L907.9,1576.1 L908.9,1575.2 L909.9,1574.4 L910.9,1573.5 L911.9,1572.7 L912.9,1571.9 L913.9,1571.1 L914.9,1570.3 L915.9,1569.5 L916.9,1568.7 L917.9,1567.9 L918.9,1567.1 L919.9,1566.3 L920.9,1565.5 L921.9,1564.8 L922.9,1564 L923.9,1563.3 L924.9,1562.5 L925.9,1561.8 L926.9,1561.1 L927.9,1560.4 L928.9,1559.7 L929.9,1559 L930.9,1558.3 L931.9,1557.6 L932.9,1556.9 L933.9,1556.2 L934.9,1555.6 L935.9,1554.9 L936.9,1554.3 L937.9,1553.6 L938.9,1553 L939.9,1552.4 L940.9,1551.7 L941.9,1551.1 L942.9,1550.5 L943.9,1549.9 L944.9,1549.3 L945.9,1548.7 L946.9,1548.2 L947.9,1547.6 L948.9,1547 L949.9,1546.5 L950.9,1545.9 L951.9,1545.3 L952.9,1544.8 L953.9,1544.3 L954.9,1543.7 L955.9,1543.2 L956.9,1542.6 L957.9,1542.1 L958.9,1541.6 L959.9,1541.1 L960.9,1540.5 L961.9,1540 L962.9,1539.5 L963.9,1539 L964.9,1538.4 L965.9,1537.9 L966.9,1537.4 L967.9,1536.9 L968.9,1536.3 L969.9,1535.8 L970.9,1535.2 L971.9,1534.7 L972.9,1534.1 L973.9,1533.6 L974.9,1533 L975.9,1532.4 L976.9,1531.9 L977.9,1531.3 L978.9,1530.7 L979.9,1530 L980.9,1529.4 L981.9,1528.8 L982.9,1528.1 L983.9,1527.4 L984.9,1526.8 L985.9,1526 L986.9,1525.3 L987.9,1524.6 L988.9,1523.8 L989.9,1523.1 L990.9,1522.3 L991.9,1521.4 L992.9,1520.6 L993.9,1519.7 L994.9,1518.8 L995.9,1517.9 L996.9,1517 L997.9,1516 L998.9,1515 L999.9,1514 L1000.9,1512.9 L1001.9,1511.8 L1002.9,1510.7 L1003.9,1509.6 L1004.9,1508.4 L1005.9,1507.2 L1006.9,1506 L1007.9,1504.7 L1008.9,1503.4 L1009.9,1502.1 L1010.9,1500.8 L1011.9,1499.4 L1012.9,1497.9 L1013.9,1496.5 L1014.9,1495 L1015.9,1493.5 L1016.9,1491.9 L1017.9,1490.4 L1018.9,1488.8 L1019.9,1487.1 L1020.9,1485.4 L1021.9,1483.7 L1022.9,1482 L1023.9,1480.3 L1024.9,1478.5 L1025.9,1476.7 L1026.9,1474.8 L1027.9,1473 L1028.9,1471.1 L1029.9,1469.2 L1030.9,1467.3 L1031.9,1465.3 L1032.9,1463.3 L1033.9,1461.3 L1034.9,1459.3 L1035.9,1457.3 L1036.9,1455.2 L1037.9,1453.2 L1038.9,1451.1 L1039.9,1449 L1040.9,1446.9 L1041.9,1444.7 L1042.9,1442.6 L1043.9,1440.4 L1044.9,1438.3 L1045.9,1436.1 L1046.9,1433.9 L1047.9,1431.8 L1048.9,1429.6 L1049.9,1427.4 L1050.9,1425.2 L1051.9,1423 L1052.9,1420.7 L1053.9,1418.5 L1054.9,1416.3 L1055.9,1414.1 L1056.9,1411.9 L1057.9,1409.7 L1058.9,1407.5 L1059.9,1405.2 L1060.9,1403 L1061.9,1400.8 L1062.9,1398.6 L1063.9,1396.4 L1064.9,1394.2 L1065.9,1392 L1066.9,1389.8 L1067.9,1387.7 L1068.9,1385.5 L1069.9,1383.3 L1070.9,1381.2 L1071.9,1379 L1072.9,1376.9 L1073.9,1374.8 L1074.9,1372.6 L1075.9,1370.5 L1076.9,1368.4 L1077.9,1366.3 L1078.9,1364.3 L1079.9,1362.2 L1080.9,1360.1 L1081.9,1358.1 L1082.9,1356.1 L1083.9,1354.1 L1084.9,1352.1 L1085.9,1350.1 L1086.9,1348.1 L1087.9,1346.1 L1088.9,1344.2 L1089.9,1342.2 L1090.9,1340.3 L1091.9,1338.4 L1092.9,1336.5 L1093.9,1334.6 L1094.9,1332.8 L1095.9,1330.9 L1096.9,1329.1 L1097.9,1327.3 L1098.9,1325.5 L1099.9,1323.7 L1100.9,1321.9 L1101.9,1320.2 L1102.9,1318.5 L1103.9,1316.7 L1104.9,1315 L1105.9,1313.4 L1106.9,1311.7 L1107.9,1310 L1108.9,1308.4 L1109.9,1306.8 L1110.9,1305.2 L1111.9,1303.6 L1112.9,1302 L1113.9,1300.5 L1114.9,1299 L1115.9,1297.4 L1116.9,1296 L1117.9,1294.5 L1118.9,1293 L1119.9,1291.6 L1120.9,1290.1 L1121.9,1288.7 L1122.9,1287.4 L1123.9,1286 L1124.9,1284.6 L1125.9,1283.3 L1126.9,1282 L1127.9,1280.7 L1128.9,1279.4 L1129.9,1278.1 L1130.9,1276.9 L1131.9,1275.7 L1132.9,1274.5 L1133.9,1273.3 L1134.9,1272.1 L1135.9,1270.9 L1136.9,1269.8 L1137.9,1268.7 L1138.9,1267.6 L1139.9,1266.5 L1140.9,1265.5 L1141.9,1264.4 L1142.9,1263.4 L1143.9,1262.4 L1144.9,1261.4 L1145.9,1260.4 L1146.9,1259.5 L1147.9,1258.6 L1148.9,1257.6 L1149.9,1256.7 L1150.9,1255.9 L1151.9,1255 L1152.9,1254.2 L1153.9,1253.4 L1154.9,1252.6 L1155.9,1251.8 L1156.9,1251 L1157.9,1250.3 L1158.9,1249.5 L1159.9,1248.8 L1160.9,1248.1 L1161.9,1247.5 L1162.9,1246.8 L1163.9,1246.2 L1164.9,1245.6 L1165.9,1245 L1166.9,1244.4 L1167.9,1243.8 L1168.9,1243.3 L1169.9,1242.7 L1170.9,1242.2 L1171.9,1241.8 L1172.9,1241.3 L1173.9,1240.8 L1174.9,1240.4 L1175.9,1240 L1176.9,1239.6 L1177.9,1239.2 L1178.9,1238.8 L1179.9,1238.5 L1180.9,1238.2 L1181.9,1237.9 L1182.9,1237.6 L1183.9,1237.3 L1184.9,1237.1 L1185.9,1236.8 L1186.9,1236.6 L1187.9,1236.4 L1188.9,1236.2 L1189.9,1236.1 L1190.9,1235.9 L1191.9,1235.8 L1192.9,1235.7 L1193.9,1235.6 L1194.9,1235.5 L1195.9,1235.5 L1196.9,1235.4 L1197.9,1235.4 L1198.9,1235.4 L1199.9,1235.4 L1200.9,1235.5 L1201.9,1235.5 L1202.9,1235.6 L1203.9,1235.6 L1204.9,1235.7 L1205.9,1235.9 L1206.9,1236 L1207.9,1236.1 L1208.9,1236.3 L1209.9,1236.5 L1210.9,1236.7 L1211.9,1236.9 L1212.9,1237.1 L1213.9,1237.4 L1214.9,1237.6 L1215.9,1237.9 L1216.9,1238.2 L1217.9,1238.5 L1218.9,1238.8 L1219.9,1239.2 L1220.9,1239.5 L1221.9,1239.9 L1222.9,1240.3 L1223.9,1240.7 L1224.9,1241.1 L1225.9,1241.5 L1226.9,1242 L1227.9,1242.4 L1228.9,1242.9 L1229.9,1243.4 L1230.9,1243.9 L1231.9,1244.4 L1232.9,1245 L1233.9,1245.5 L1234.9,1246 L1235.9,1246.6 L1236.9,1247.2 L1237.9,1247.8 L1238.9,1248.4 L1239.9,1249 L1240.9,1249.6 L1241.9,1250.3 L1242.9,1250.9 L1243.9,1251.6 L1244.9,1252.2 L1245.9,1252.9 L1246.9,1253.6 L1247.9,1254.3 L1248.9,1255 L1249.9,1255.7 L1250.9,1256.5 L1251.9,1257.2 L1252.9,1257.9 L1253.9,1258.7 L1254.9,1259.4 L1255.9,1260.2 L1256.9,1261 L1257.9,1261.8 L1258.9,1262.5 L1259.9,1263.3 L1260.9,1264.1 L1261.9,1264.9 L1262.9,1265.7 L1263.9,1266.5 L1264.9,1267.3 L1265.9,1268.2 L1266.9,1269 L1267.9,1269.8 L1268.9,1270.6 L1269.9,1271.4 L1270.9,1272.3 L1271.9,1273.1 L1272.9,1273.9 L1273.9,1274.7 L1274.9,1275.5 L1275.9,1276.3 L1276.9,1277.2 L1277.9,1278 L1278.9,1278.8 L1279.9,1279.6 L1280.9,1280.4 L1281.9,1281.2 L1282.9,1282 L1283.9,1282.8 L1284.9,1283.5 L1285.9,1284.3 L1286.9,1285.1 L1287.9,1285.8 L1288.9,1286.6 L1289.9,1287.3 L1290.9,1288.1 L1291.9,1288.8 L1292.9,1289.5 L1293.9,1290.2 L1294.9,1290.9 L1295.9,1291.6 L1296.9,1292.2 L1297.9,1292.9 L1298.9,1293.5 L1299.9,1294.2 L1300.9,1294.8 L1301.9,1295.4 L1302.9,1296 L1303.9,1296.5 L1304.9,1297.1 L1305.9,1297.7 L1306.9,1298.2 L1307.9,1298.7 L1308.9,1299.2 L1309.9,1299.7 L1310.9,1300.2 L1311.9,1300.6 L1312.9,1301.1 L1313.9,1301.5 L1314.9,1301.9 L1315.9,1302.3 L1316.9,1302.7 L1317.9,1303.1 L1318.9,1303.4 L1319.9,1303.8 L1320.9,1304.1 L1321.9,1304.4 L1322.9,1304.7 L1323.9,1305 L1324.9,1305.3 L1325.9,1305.5 L1326.9,1305.8 L1327.9,1306 L1328.9,1306.2 L1329.9,1306.4 L1330.9,1306.6 L1331.9,1306.8 L1332.9,1306.9 L1333.9,1307.1 L1334.9,1307.2 L1335.9,1307.3 L1336.9,1307.5 L1337.9,1307.6 L1338.9,1307.7 L1339.9,1307.8 L1340.9,1307.8 L1341.9,1307.9 L1342.9,1308 L1343.9,1308 L1344.9,1308.1 L1345.9,1308.1 L1346.9,1308.2 L1347.9,1308.2 L1348.9,1308.2 L1349.9,1308.3 L1350.9,1308.3 L1351.9,1308.3 L1352.9,1308.3 L1353.9,1308.3 L1354.9,1308.3 L1355.9,1308.3 L1356.9,1308.3 L1357.9,1308.3 L1358.9,1308.3 L1359.9,1308.3 L1360.9,1308.3 L1361.9,1308.3 L1362.9,1308.3 L1363.9,1308.3 L1364.9,1308.3 L1365.9,1308.3 L1366.9,1308.3 L1367.9,1308.3 L1368.9,1308.3 L1369.9,1308.3 L1370.9,1308.3 L1371.9,1308.4 L1372.9,1308.4 L1373.9,1308.4 L1374.9,1308.4 L1375.9,1308.5 L1376.9,1308.5 L1377.9,1308.6 L1378.9,1308.6 L1379.9,1308.7 L1380.9,1308.7 L1381.9,1308.8 L1382.9,1308.9 L1383.9,1309 L1384.9,1309 L1385.9,1309.1 L1386.9,1309.2 L1387.9,1309.4 L1388.9,1309.5 L1389.9,1309.6 L1390.9,1309.7 L1391.9,1309.9 L1392.9,1310 L1393.9,1310.2 L1394.9,1310.4 L1395.9,1310.5 L1396.9,1310.7 L1397.9,1310.9 L1398.9,1311.1 L1399.9,1311.3 L1400.9,1311.5 L1401.9,1311.8 L1402.9,1312 L1403.9,1312.3 L1404.9,1312.5 L1405.9,1312.8 L1406.9,1313 L1407.9,1313.3 L1408.9,1313.6 L1409.9,1313.9 L1410.9,1314.2 L1411.9,1314.6 L1412.9,1314.9 L1413.9,1315.2 L1414.9,1315.6 L1415.9,1315.9 L1416.9,1316.3 L1417.9,1316.7 L1418.9,1317.1 L1419.9,1317.5 L1420.9,1317.9 L1421.9,1318.3 L1422.9,1318.7 L1423.9,1319.2 L1424.9,1319.6 L1425.9,1320.1 L1426.9,1320.5 L1427.9,1321 L1428.9,1321.5 L1429.9,1322 L1430.9,1322.4 L1431.9,1323 L1432.9,1323.5 L1433.9,1324 L1434.9,1324.5 L1435.9,1325.1 L1436.9,1325.6 L1437.9,1326.1 L1438.9,1326.7 L1439.9,1327.3 L1440.9,1327.8 L1441.9,1328.4 L1442.9,1329 L1443.9,1329.6 L1444.9,1330.2 L1445.9,1330.8 L1446.9,1331.4 L1447.9,1332 L1448.9,1332.7 L1449.9,1333.3 L1450.9,1333.9 L1451.9,1334.6 L1452.9,1335.2 L1453.9,1335.8 L1454.9,1336.5 L1455.9,1337.1 L1456.9,1337.8 L1457.9,1338.5 L1458.9,1339.1 L1459.9,1339.8 L1460.9,1340.5 L1461.9,1341.1 L1462.9,1341.8 L1463.9,1342.5 L1464.9,1343.1 L1465.9,1343.8 L1466.9,1344.5 L1467.9,1345.1 L1468.9,1345.8 L1469.9,1346.5 L1470.9,1347.1 L1471.9,1347.8 L1472.9,1348.5 L1473.9,1349.1 L1474.9,1349.8 L1475.9,1350.4 L1476.9,1351.1 L1477.9,1351.7 L1478.9,1352.4 L1479.9,1353 L1480.9,1353.6 L1481.9,1354.2 L1482.9,1354.8 L1483.9,1355.4 L1484.9,1356 L1485.9,1356.6 L1486.9,1357.2 L1487.9,1357.8 L1488.9,1358.3 L1489.9,1358.9 L1490.9,1359.4 L1491.9,1360 L1492.9,1360.5 L1493.9,1361 L1494.9,1361.5 L1495.9,1362 L1496.9,1362.4 L1497.9,1362.9 L1498.9,1363.3 L1499.9,1363.8 L1500.9,1364.2 L1501.9,1364.6 L1502.9,1365 L1503.9,1365.3 L1504.9,1365.7 L1505.9,1366 L1506.9,1366.3 L1507.9,1366.6 L1508.9,1366.9 L1509.9,1367.2 L1510.9,1367.5 L1511.9,1367.7 L1512.9,1367.9 L1513.9,1368.1 L1514.9,1368.3 L1515.9,1368.5 L1516.9,1368.6 L1517.9,1368.7 L1518.9,1368.9 L1519.9,1369 L1520.9,1369 L1521.9,1369.1 L1522.9,1369.1 L1523.9,1369.2 L1524.9,1369.2 L1525.9,1369.2 L1526.9,1369.1 L1527.9,1369.1 L1528.9,1369 L1529.9,1368.9 L1530.9,1368.9 L1531.9,1368.7 L1532.9,1368.6 L1533.9,1368.5 L1534.9,1368.3 L1535.9,1368.1 L1536.9,1368 L1537.9,1367.8 L1538.9,1367.5 L1539.9,1367.3 L1540.9,1367.1 L1541.9,1366.8 L1542.9,1366.5 L1543.9,1366.3 L1544.9,1366 L1545.9,1365.7 L1546.9,1365.4 L1547.9,1365 L1548.9,1364.7 L1549.9,1364.3 L1550.9,1364 L1551.9,1363.6 L1552.9,1363.3 L1553.9,1362.9 L1554.9,1362.5 L1555.9,1362.1 L1556.9,1361.7 L1557.9,1361.3 L1558.9,1360.9 L1559.9,1360.4 L1560.9,1360 L1561.9,1359.6 L1562.9,1359.1 L1563.9,1358.7 L1564.9,1358.3 L1565.9,1357.8 L1566.9,1357.4 L1567.9,1356.9 L1568.9,1356.5 L1569.9,1356 L1570.9,1355.5 L1571.9,1355.1 L1572.9,1354.6 L1573.9,1354.2 L1574.9,1353.7 L1575.9,1353.2 L1576.9,1352.8 L1577.9,1352.3 L1578.9,1351.9 L1579.9,1351.4 L1580.9,1351 L1581.9,1350.5 L1582.9,1350.1 L1583.9,1349.6 L1584.9,1349.2 L1585.9,1348.7 L1586.9,1348.3 L1587.9,1347.9 L1588.9,1347.4 L1589.9,1347 L1590.9,1346.6 L1591.9,1346.2 L1592.9,1345.8 L1593.9,1345.4 L1594.9,1345 L1595.9,1344.6 L1596.9,1344.2 L1597.9,1343.8 L1598.9,1343.4 L1599.9,1343 L1600.9,1342.7 L1601.9,1342.3 L1602.9,1342 L1603.9,1341.6 L1604.9,1341.3 L1605.9,1340.9 L1606.9,1340.6 L1607.9,1340.3 L1608.9,1340 L1609.9,1339.7 L1610.9,1339.4 L1611.9,1339.1 L1612.9,1338.8 L1613.9,1338.6 L1614.9,1338.3 L1615.9,1338 L1616.9,1337.8 L1617.9,1337.6 L1618.9,1337.3 L1619.9,1337.1 L1620.9,1336.9 L1621.9,1336.7 L1622.9,1336.5 L1623.9,1336.3 L1624.9,1336.1 L1625.9,1336 L1626.9,1335.8 L1627.9,1335.7 L1628.9,1335.5 L1629.9,1335.4 L1630.9,1335.3 L1631.9,1335.2 L1632.9,1335.1 L1633.9,1335 L1634.9,1334.9 L1635.9,1334.8 L1636.9,1334.7 L1637.9,1334.7 L1638.9,1334.6 L1639.9,1334.6 L1640.9,1334.6 L1641.9,1334.6 L1642.9,1334.6 L1643.9,1334.6 L1644.9,1334.6 L1645.9,1334.6 L1646.9,1334.6 L1647.9,1334.7 L1648.9,1334.7 L1649.9,1334.8 L1650.9,1334.9 L1651.9,1335 L1652.9,1335.1 L1653.9,1335.2 L1654.9,1335.3 L1655.9,1335.4 L1656.9,1335.5 L1657.9,1335.7 L1658.9,1335.9 L1659.9,1336 L1660.9,1336.2 L1661.9,1336.4 L1662.9,1336.6 L1663.9,1336.8 L1664.9,1337 L1665.9,1337.2 L1666.9,1337.5 L1667.9,1337.7 L1668.9,1338 L1669.9,1338.3 L1670.9,1338.5 L1671.9,1338.8 L1672.9,1339.1 L1673.9,1339.5 L1674.9,1339.8 L1675.9,1340.1 L1676.9,1340.5 L1677.9,1340.8 L1678.9,1341.2 L1679.9,1341.6 L1680.9,1341.9 L1681.9,1342.3 L1682.9,1342.7 L1683.9,1343.2 L1684.9,1343.6 L1685.9,1344 L1686.9,1344.5 L1687.9,1344.9 L1688.9,1345.4 L1689.9,1345.9 L1690.9,1346.4 L1691.9,1346.9 L1692.9,1347.4 L1693.9,1347.9 L1694.9,1348.5 L1695.9,1349 L1696.9,1349.6 L1697.9,1350.1 L1698.9,1350.7 L1699.9,1351.3 L1700.9,1351.9 L1701.9,1352.5 L1702.9,1353.1 L1703.9,1353.7 L1704.9,1354.4 L1705.9,1355 L1706.9,1355.7 L1707.9,1356.4 L1708.9,1357 L1709.9,1357.7 L1710.9,1358.4 L1711.9,1359.1 L1712.9,1359.9 L1713.9,1360.6 L1714.9,1361.3 L1715.9,1362.1 L1716.9,1362.9 L1717.9,1363.6 L1718.9,1364.4 L1719.9,1365.2 L1720.9,1366 L1721.9,1366.8 L1722.9,1367.7 L1723.9,1368.5 L1724.9,1369.3 L1725.9,1370.2 L1726.9,1371.1 L1727.9,1371.9 L1728.9,1372.8 L1729.9,1373.7 L1730.9,1374.6 L1731.9,1375.6 L1732.9,1376.5 L1733.9,1377.4 L1734.9,1378.4 L1735.9,1379.3 L1736.9,1380.3 L1737.9,1381.3 L1738.9,1382.3 L1739.9,1383.3 L1740.9,1384.3 L1741.9,1385.3 L1742.9,1386.3 L1743.9,1387.4 L1744.9,1388.4 L1745.9,1389.5 L1746.9,1390.5 L1747.9,1391.6 L1748.9,1392.7 L1749.9,1393.8 L1750.9,1394.9 L1751.9,1396 L1752.9,1397.1 L1753.9,1398.3 L1754.9,1399.4 L1755.9,1400.6 L1756.9,1401.7 L1757.9,1402.9 L1758.9,1404.1 L1759.9,1405.3 L1760.9,1406.5 L1761.9,1407.7 L1762.9,1408.9 L1763.9,1410.2 L1764.9,1411.4 L1765.9,1412.7 L1766.9,1413.9 L1767.9,1415.2 L1768.9,1416.5 L1769.9,1417.7 L1770.9,1419 L1771.9,1420.3 L1772.9,1421.6 L1773.9,1423 L1774.9,1424.3 L1775.9,1425.6 L1776.9,1427 L1777.9,1428.3 L1778.9,1429.7 L1779.9,1431.1 L1780.9,1432.5 L1781.9,1433.8 L1782.9,1435.2 L1783.9,1436.6 L1784.9,1438.1 L1785.9,1439.5 L1786.9,1440.9 L1787.9,1442.3 L1788.9,1443.8 L1789.9,1445.2 L1790.9,1446.7 L1791.9,1448.2 L1792.9,1449.6 L1793.9,1451.1 L1794.9,1452.6 L1795.9,1454.1 L1796.9,1455.6 L1797.9,1457.1 L1798.9,1458.6 L1799.9,1460.1 L1800.9,1461.7 L1801.9,1463.2 L1802.9,1464.8 L1803.9,1466.3 L1804.9,1467.9 L1805.9,1469.4 L1806.9,1471 L1808,1472.5" fill="none" stroke="#f00" stroke-width="10" stroke-linejoin="round"/>
<path d="M237.9,988.5 L238.9,988.2 L239.9,988 L240.9,987.9 L241.9,987.7 L242.9,987.6 L243.9,987.5 L244.9,987.4 L245.9,987.3 L246.9,987.3 L247.9,987.3 L248.9,987.3 L249.9,987.3 L250.9,987.4 L251.9,987.4 L252.9,987.5 L253.9,987.7 L254.9,987.8 L255.9,988 L256.9,988.1 L257.9,988.4 L258.9,988.6 L259.9,988.8 L260.9,989.1 L261.9,989.4 L262.9,989.7 L263.9,990.1 L264.9,990.4 L265.9,990.8 L266.9,991.2 L267.9,991.7 L268.9,992.1 L269.9,992.6 L270.9,993.1 L271.9,993.6 L272.9,994.2 L273.9,994.7 L274.9,995.3 L275.9,996 L276.9,996.6 L277.9,997.2 L278.9,997.9 L279.9,998.6 L280.9,999.4 L281.9,1000.1 L282.9,1000.9 L283.9,1001.7 L284.9,1002.5 L285.9,1003.3 L286.9,1004.2 L287.9,1005.1 L288.9,1006 L289.9,1006.9 L290.9,1007.9 L291.9,1008.8 L292.9,1009.8 L293.9,1010.8 L294.9,1011.9 L295.9,1012.9 L296.9,1014 L297.9,1015.1 L298.9,1016.3 L299.9,1017.4 L300.9,1018.6 L301.9,1019.8 L302.9,1021 L303.9,1022.3 L304.9,1023.5 L305.9,1024.8 L306.9,1026.1 L307.9,1027.5 L308.9,1028.8 L309.9,1030.2 L310.9,1031.6 L311.9,1033 L312.9,1034.5 L313.9,1035.9 L314.9,1037.4 L315.9,1039 L316.9,1040.5 L317.9,1042 L318.9,1043.6 L319.9,1045.2 L320.9,1046.9 L321.9,1048.5 L322.9,1050.2 L323.9,1051.9 L324.9,1053.6 L325.9,1055.3 L326.9,1057.1 L327.9,1058.9 L328.9,1060.7 L329.9,1062.5 L330.9,1064.4 L331.9,1066.2 L332.9,1068.1 L333.9,1070.1 L334.9,1072 L335.9,1074 L336.9,1075.9 L337.9,1078 L338.9,1080 L339.9,1082 L340.9,1084.1 L341.9,1086.2 L342.9,1088.3 L343.9,1090.5 L344.9,1092.6 L345.9,1094.8 L346.9,1097 L347.9,1099.3 L348.9,1101.5 L349.9,1103.8 L350.9,1106.1 L351.9,1108.4 L352.9,1110.8 L353.9,1113.2 L354.9,1115.6 L355.9,1118 L356.9,1120.4 L357.9,1122.9 L358.9,1125.3 L359.9,1127.8 L360.9,1130.4 L361.9,1132.9 L362.9,1135.5 L363.9,1138.1 L364.9,1140.7 L365.9,1143.3 L366.9,1146 L367.9,1148.7 L368.9,1151.4 L369.9,1154.1 L370.9,1156.9 L371.9,1159.7 L372.9,1162.5 L373.9,1165.3 L374.9,1168.1 L375.9,1171 L376.9,1173.9 L377.9,1176.8 L378.9,1179.7 L379.9,1182.7 L380.9,1185.6 L381.9,1188.6 L382.9,1191.7 L383.9,1194.7 L384.9,1197.8 L385.9,1200.9 L386.9,1204 L387.9,1207.1 L388.9,1210.3 L389.9,1213.4 L390.9,1216.6 L391.9,1219.9 L392.9,1223.1 L393.9,1226.4 L394.9,1229.7 L395.9,1233 L396.9,1236.3 L397.9,1239.7 L398.9,1243.1 L399.9,1246.5 L400.9,1249.9 L401.9,1253.4 L402.9,1256.8 L403.9,1260.3 L404.9,1263.8 L405.9,1267.4 L406.9,1270.9 L407.9,1274.5 L408.9,1278.1 L409.9,1281.8 L410.9,1285.4 L411.9,1289.1 L412.9,1292.8 L413.9,1296.5 L414.9,1300.3 L415.9,1304 L416.9,1307.8 L417.9,1311.6 L418.9,1315.5 L419.9,1319.3 L420.9,1323.2 L421.9,1327.1 L422.9,1331 L423.9,1335 L424.9,1338.9 L425.9,1342.9 L426.9,1346.9 L427.9,1351 L428.9,1355 L429.9,1359.1 L430.9,1363.2 L431.9,1367.3 L432.9,1371.5 L433.9,1375.6 L434.9,1379.8 L435.9,1384 L436.9,1388.3 L437.9,1392.5 L438.9,1396.8 L439.9,1401.1 L440.9,1405.5 L441.9,1409.8 L442.9,1414.2 L443.9,1418.6 L444.9,1423 L445.9,1427.4 L446.9,1431.9 L447.9,1436.4 L448.9,1440.9 L449.9,1445.4 L450.9,1450 L451.9,1454.6 L452.9,1459.1 L453.9,1463.8 L454.9,1468.4 L455.9,1473.1 L456.9,1477.8 L457.9,1482.5 L458.9,1487.2 L459.9,1492 L460.9,1496.7 L461.9,1501.5 L462.9,1506.4 L463.9,1511.2 L464.9,1516.1 L465.9,1521 L466.9,1525.9 L467.9,1530.8 L468.9,1535.8 L469.9,1540.8 L470.9,1545.8 L471.9,1550.8 L472.9,1555.8 L473.9,1560.9 L474.9,1566 L475.9,1571.1 L476.9,1576.3 L477.9,1581.4 L478.9,1586.6 L479.9,1591.8 L480.9,1597 L481.9,1602.3 L482.9,1607.6 L483.9,1612.8 L484.9,1618.2 L485.9,1623.5 L486.9,1628.9 L487.9,1634.3 L488.9,1639.7 L489.9,1645.1 L490.9,1650.5 L491.9,1656 L492.9,1661.5 L493.9,1667 L494.9,1672.6 L495.9,1678.2 L496.9,1683.7 L497.1,1685" fill="none" stroke="#00f" stroke-width="10" stroke-dasharray="25.4 21.8"/>
<path d="M237.9,1526.7 L238.9,1523.2 L239.9,1519.7 L240.9,1516.2 L241.9,1512.7 L242.9,1509.2 L243.9,1505.7 L244.9,1502.3 L245.9,1498.9 L246.9,1495.5 L247.9,1492.2 L248.9,1488.8 L249.9,1485.5 L250.9,1482.2 L251.9,1478.9 L252.9,1475.7 L253.9,1472.4 L254.9,1469.2 L255.9,1466 L256.9,1462.9 L257.9,1459.7 L258.9,1456.6 L259.9,1453.5 L260.9,1450.4 L261.9,1447.3 L262.9,1444.3 L263.9,1441.2 L264.9,1438.2 L265.9,1435.3 L266.9,1432.3 L267.9,1429.4 L268.9,1426.4 L269.9,1423.5 L270.9,1420.7 L271.9,1417.8 L272.9,1415 L273.9,1412.2 L274.9,1409.4 L275.9,1406.6 L276.9,1403.9 L277.9,1401.1 L278.9,1398.4 L279.9,1395.7 L280.9,1393.1 L281.9,1390.4 L282.9,1387.8 L283.9,1385.2 L284.9,1382.6 L285.9,1380.1 L286.9,1377.5 L287.9,1375 L288.9,1372.5 L289.9,1370 L290.9,1367.6 L291.9,1365.1 L292.9,1362.7 L293.9,1360.3 L294.9,1358 L295.9,1355.6 L296.9,1353.3 L297.9,1351 L298.9,1348.7 L299.9,1346.4 L300.9,1344.2 L301.9,1342 L302.9,1339.8 L303.9,1337.6 L304.9,1335.4 L305.9,1333.3 L306.9,1331.2 L307.9,1329.1 L308.9,1327 L309.9,1325 L310.9,1322.9 L311.9,1320.9 L312.9,1318.9 L313.9,1317 L314.9,1315 L315.9,1313.1 L316.9,1311.2 L317.9,1309.3 L318.9,1307.4 L319.9,1305.6 L320.9,1303.8 L321.9,1302 L322.9,1300.2 L323.9,1298.4 L324.9,1296.7 L325.9,1295 L326.9,1293.3 L327.9,1291.6 L328.9,1290 L329.9,1288.3 L330.9,1286.7 L331.9,1285.1 L332.9,1283.6 L333.9,1282 L334.9,1280.5 L335.9,1279 L336.9,1277.5 L337.9,1276 L338.9,1274.6 L339.9,1273.2 L340.9,1271.8 L341.9,1270.4 L342.9,1269 L343.9,1267.7 L344.9,1266.4 L345.9,1265.1 L346.9,1263.8 L347.9,1262.6 L348.9,1261.4 L349.9,1260.1 L350.9,1259 L351.9,1257.8 L352.9,1256.6 L353.9,1255.5 L354.9,1254.4 L355.9,1253.3 L356.9,1252.3 L357.9,1251.2 L358.9,1250.2 L359.9,1249.2 L360.9,1248.2 L361.9,1247.3 L362.9,1246.4 L363.9,1245.4 L364.9,1244.6 L365.9,1243.7 L366.9,1242.8 L367.9,1242 L368.9,1241.2 L369.9,1240.4 L370.9,1239.6 L371.9,1238.9 L372.9,1238.2 L373.9,1237.5 L374.9,1236.8 L375.9,1236.1 L376.9,1235.5 L377.9,1234.9 L378.9,1234.3 L379.9,1233.7 L380.9,1233.2 L381.9,1232.6 L382.9,1232.1 L383.9,1231.6 L384.9,1231.2 L385.9,1230.7 L386.9,1230.3 L387.9,1229.9 L388.9,1229.5 L389.9,1229.1 L390.9,1228.8 L391.9,1228.5 L392.9,1228.2 L393.9,1227.9 L394.9,1227.6 L395.9,1227.4 L396.9,1227.2 L397.9,1227 L398.9,1226.8 L399.9,1226.6 L400.9,1226.5 L401.9,1226.4 L402.9,1226.3 L403.9,1226.2 L404.9,1226.2 L405.9,1226.2 L406.9,1226.2 L407.9,1226.2 L408.9,1226.2 L409.9,1226.3 L410.9,1226.4 L411.9,1226.5 L412.9,1226.6 L413.9,1226.7 L414.9,1226.9 L415.9,1227.1 L416.9,1227.3 L417.9,1227.5 L418.9,1227.8 L419.9,1228 L420.9,1228.3 L421.9,1228.6 L422.9,1229 L423.9,1229.3 L424.9,1229.7 L425.9,1230.1 L426.9,1230.5 L427.9,1230.9 L428.9,1231.4 L429.9,1231.9 L430.9,1232.4 L431.9,1232.9 L432.9,1233.5 L433.9,1234 L434.9,1234.6 L435.9,1235.2 L436.9,1235.8 L437.9,1236.5 L438.9,1237.2 L439.9,1237.9 L440.9,1238.6 L441.9,1239.3 L442.9,1240.1 L443.9,1240.8 L444.9,1241.6 L445.9,1242.5 L446.9,1243.3 L447.9,1244.2 L448.9,1245 L449.9,1245.9 L450.9,1246.9 L451.9,1247.8 L452.9,1248.8 L453.9,1249.8 L454.9,1250.8 L455.9,1251.8 L456.9,1252.8 L457.9,1253.9 L458.9,1255 L459.9,1256.1 L460.9,1257.3 L461.9,1258.4 L462.9,1259.6 L463.9,1260.8 L464.9,1262 L465.9,1263.3 L466.9,1264.5 L467.9,1265.8 L468.9,1267.1 L469.9,1268.4 L470.9,1269.8 L471.9,1271.1 L472.9,1272.5 L473.9,1273.9 L474.9,1275.4 L475.9,1276.8 L476.9,1278.3 L477.9,1279.8 L478.9,1281.3 L479.9,1282.8 L480.9,1284.4 L481.9,1286 L482.9,1287.6 L483.9,1289.2 L484.9,1290.8 L485.9,1292.5 L486.9,1294.2 L487.9,1295.9 L488.9,1297.6 L489.9,1299.4 L490.9,1301.1 L491.9,1302.9 L492.9,1304.7 L493.9,1306.6 L494.9,1308.4 L495.9,1310.3 L496.9,1312.2 L497.9,1314.1 L498.9,1316.1 L499.9,1318 L500.9,1320 L501.9,1322 L502.9,1324 L503.9,1326.1 L504.9,1328.1 L505.9,1330.2 L506.9,1332.3 L507.9,1334.4 L508.9,1336.6 L509.9,1338.8 L510.9,1341 L511.9,1343.2 L512.9,1345.4 L513.9,1347.7 L514.9,1349.9 L515.9,1352.2 L516.9,1354.5 L517.9,1356.9 L518.9,1359.2 L519.9,1361.6 L520.9,1364 L521.9,1366.5 L522.9,1368.9 L523.9,1371.4 L524.9,1373.9 L525.9,1376.4 L526.9,1378.9 L527.9,1381.4 L528.9,1384 L529.9,1386.6 L530.9,1389.2 L531.9,1391.9 L532.9,1394.5 L533.9,1397.2 L534.9,1399.9 L535.9,1402.6 L536.9,1405.3 L537.9,1408.1 L538.9,1410.9 L539.9,1413.7 L540.9,1416.5 L541.9,1419.4 L542.9,1422.2 L543.9,1425.1 L544.9,1428 L545.9,1431 L546.9,1433.9 L547.9,1436.9 L548.9,1439.9 L549.9,1442.9 L550.9,1445.9 L551.9,1449 L552.9,1452.1 L553.9,1455.2 L554.9,1458.3 L555.9,1461.4 L556.9,1464.6 L557.9,1467.8 L558.9,1471 L559.9,1474.2 L560.9,1477.4 L561.9,1480.7 L562.9,1484 L563.9,1487.3 L564.9,1490.6 L565.9,1494 L566.9,1497.4 L567.9,1500.8 L568.9,1504.2 L569.9,1507.6 L570.9,1511.1 L571.9,1514.6 L572.9,1518.1 L573.9,1521.6 L574.9,1525.1 L575.9,1528.7 L576.9,1532.3 L577.9,1535.9 L578.9,1539.5 L579.9,1543.1 L580.9,1546.8 L581.9,1550.5 L582.9,1554.2 L583.9,1558 L584.9,1561.7 L585.9,1565.5 L586.9,1569.3 L587.9,1573.1 L588.9,1576.9 L589.9,1580.8 L590.9,1584.7 L591.9,1588.6 L592.9,1592.5 L593.9,1596.4 L594.9,1600.4 L595.9,1604.4 L596.9,1608.4 L597.9,1612.4 L598.9,1616.5 L599.9,1620.5 L600.9,1624.6 L601.9,1628.7 L602.9,1632.9 L603.9,1637 L604.9,1641.2 L605.9,1645.4 L606.9,1649.6 L607.9,1653.9 L608.9,1658.1 L609.9,1662.4 L610.9,1666.7 L611.9,1671 L612.9,1675.4 L613.9,1679.7 L614.9,1684.1 L615.1,1685" fill="none" stroke="#00f" stroke-width="10" stroke-dasharray="25.4 21.8"/>
<path d="M412.2,1685 L412.9,1682.7 L413.9,1679.4 L414.9,1676 L415.9,1672.7 L416.9,1669.4 L417.9,1666.2 L418.9,1662.9 L419.9,1659.7 L420.9,1656.5 L421.9,1653.3 L422.9,1650.2 L423.9,1647 L424.9,1643.9 L425.9,1640.8 L426.9,1637.7 L427.9,1634.6 L428.9,1631.6 L429.9,1628.6 L430.9,1625.6 L431.9,1622.6 L432.9,1619.6 L433.9,1616.7 L434.9,1613.8 L435.9,1610.9 L436.9,1608 L437.9,1605.1 L438.9,1602.3 L439.9,1599.5 L440.9,1596.7 L441.9,1593.9 L442.9,1591.1 L443.9,1588.4 L444.9,1585.7 L445.9,1583 L446.9,1580.3 L447.9,1577.6 L448.9,1575 L449.9,1572.4 L450.9,1569.8 L451.9,1567.2 L452.9,1564.6 L453.9,1562.1 L454.9,1559.6 L455.9,1557.1 L456.9,1554.6 L457.9,1552.2 L458.9,1549.7 L459.9,1547.3 L460.9,1544.9 L461.9,1542.5 L462.9,1540.2 L463.9,1537.8 L464.9,1535.5 L465.9,1533.2 L466.9,1531 L467.9,1528.7 L468.9,1526.5 L469.9,1524.3 L470.9,1522.1 L471.9,1519.9 L472.9,1517.7 L473.9,1515.6 L474.9,1513.5 L475.9,1511.4 L476.9,1509.3 L477.9,1507.3 L478.9,1505.2 L479.9,1503.2 L480.9,1501.2 L481.9,1499.3 L482.9,1497.3 L483.9,1495.4 L484.9,1493.5 L485.9,1491.6 L486.9,1489.7 L487.9,1487.9 L488.9,1486 L489.9,1484.2 L490.9,1482.4 L491.9,1480.7 L492.9,1478.9 L493.9,1477.2 L494.9,1475.5 L495.9,1473.8 L496.9,1472.1 L497.9,1470.5 L498.9,1468.8 L499.9,1467.2 L500.9,1465.6 L501.9,1464.1 L502.9,1462.5 L503.9,1461 L504.9,1459.5 L505.9,1458 L506.9,1456.5 L507.9,1455.1 L508.9,1453.6 L509.9,1452.2 L510.9,1450.9 L511.9,1449.5 L512.9,1448.1 L513.9,1446.8 L514.9,1445.5 L515.9,1444.2 L516.9,1443 L517.9,1441.7 L518.9,1440.5 L519.9,1439.3 L520.9,1438.1 L521.9,1436.9 L522.9,1435.8 L523.9,1434.7 L524.9,1433.6 L525.9,1432.5 L526.9,1431.4 L527.9,1430.4 L528.9,1429.3 L529.9,1428.3 L530.9,1427.4 L531.9,1426.4 L532.9,1425.5 L533.9,1424.5 L534.9,1423.6 L535.9,1422.7 L536.9,1421.9 L537.9,1421 L538.9,1420.2 L539.9,1419.4 L540.9,1418.6 L541.9,1417.9 L542.9,1417.1 L543.9,1416.4 L544.9,1415.7 L545.9,1415 L546.9,1414.4 L547.9,1413.7 L548.9,1413.1 L549.9,1412.5 L550.9,1411.9 L551.9,1411.4 L552.9,1410.8 L553.9,1410.3 L554.9,1409.8 L555.9,1409.3 L556.9,1408.9 L557.9,1408.5 L558.9,1408 L559.9,1407.6 L560.9,1407.3 L561.9,1406.9 L562.9,1406.6 L563.9,1406.2 L564.9,1406 L565.9,1405.7 L566.9,1405.4 L567.9,1405.2 L568.9,1405 L569.9,1404.8 L570.9,1404.6 L571.9,1404.4 L572.9,1404.3 L573.9,1404.2 L574.9,1404.1 L575.9,1404 L576.9,1404 L577.9,1403.9 L578.9,1403.9 L579.9,1403.9 L580.9,1404 L581.9,1404 L582.9,1404.1 L583.9,1404.2 L584.9,1404.3 L585.9,1404.4 L586.9,1404.5 L587.9,1404.7 L588.9,1404.9 L589.9,1405.1 L590.9,1405.3 L591.9,1405.6 L592.9,1405.8 L593.9,1406.1 L594.9,1406.4 L595.9,1406.8 L596.9,1407.1 L597.9,1407.5 L598.9,1407.9 L599.9,1408.3 L600.9,1408.7 L601.9,1409.2 L602.9,1409.6 L603.9,1410.1 L604.9,1410.6 L605.9,1411.2 L606.9,1411.7 L607.9,1412.3 L608.9,1412.9 L609.9,1413.5 L610.9,1414.1 L611.9,1414.8 L612.9,1415.5 L613.9,1416.2 L614.9,1416.9 L615.9,1417.6 L616.9,1418.3 L617.9,1419.1 L618.9,1419.9 L619.9,1420.7 L620.9,1421.6 L621.9,1422.4 L622.9,1423.3 L623.9,1424.2 L624.9,1425.1 L625.9,1426 L626.9,1427 L627.9,1428 L628.9,1429 L629.9,1430 L630.9,1431 L631.9,1432.1 L632.9,1433.1 L633.9,1434.2 L634.9,1435.4 L635.9,1436.5 L636.9,1437.7 L637.9,1438.8 L638.9,1440 L639.9,1441.2 L640.9,1442.5 L641.9,1443.7 L642.9,1445 L643.9,1446.3 L644.9,1447.6 L645.9,1449 L646.9,1450.3 L647.9,1451.7 L648.9,1453.1 L649.9,1454.5 L650.9,1456 L651.9,1457.4 L652.9,1458.9 L653.9,1460.4 L654.9,1461.9 L655.9,1463.5 L656.9,1465 L657.9,1466.6 L658.9,1468.2 L659.9,1469.8 L660.9,1471.5 L661.9,1473.1 L662.9,1474.8 L663.9,1476.5 L664.9,1478.2 L665.9,1480 L666.9,1481.8 L667.9,1483.5 L668.9,1485.3 L669.9,1487.2 L670.9,1489 L671.9,1490.9 L672.9,1492.7 L673.9,1494.7 L674.9,1496.6 L675.9,1498.5 L676.9,1500.5 L677.9,1502.5 L678.9,1504.5 L679.9,1506.5 L680.9,1508.5 L681.9,1510.6 L682.9,1512.7 L683.9,1514.8 L684.9,1516.9 L685.9,1519.1 L686.9,1521.2 L687.9,1523.4 L688.9,1525.6 L689.9,1527.9 L690.9,1530.1 L691.9,1532.4 L692.9,1534.7 L693.9,1537 L694.9,1539.3 L695.9,1541.6 L696.9,1544 L697.9,1546.4 L698.9,1548.8 L699.9,1551.2 L700.9,1553.7 L701.9,1556.2 L702.9,1558.6 L703.9,1561.2 L704.9,1563.7 L705.9,1566.2 L706.9,1568.8 L707.9,1571.4 L708.9,1574 L709.9,1576.6 L710.9,1579.3 L711.9,1582 L712.9,1584.7 L713.9,1587.4 L714.9,1590.1 L715.9,1592.8 L716.9,1595.6 L717.9,1598.4 L718.9,1601.2 L719.9,1604.1 L720.9,1606.9 L721.9,1609.8 L722.9,1612.7 L723.9,1615.6 L724.9,1618.5 L725.9,1621.5 L726.9,1624.5 L727.9,1627.4 L728.9,1630.5 L729.9,1633.5 L730.9,1636.5 L731.9,1639.6 L732.9,1642.7 L733.9,1645.8 L734.9,1649 L735.9,1652.1 L736.9,1655.3 L737.9,1658.5 L738.9,1661.7 L739.9,1664.9 L740.9,1668.2 L741.9,1671.5 L742.9,1674.8 L743.9,1678.1 L744.9,1681.4 L745.9,1684.8 L746,1685" fill="none" stroke="#00f" stroke-width="10" stroke-dasharray="25.4 21.8"/>
<path d="M873.8,1685 L873.9,1684.6 L874.9,1682.5 L875.9,1680.4 L876.9,1678.3 L877.9,1676.2 L878.9,1674.2 L879.9,1672.1 L880.9,1670.1 L881.9,1668.1 L882.9,1666.2 L883.9,1664.2 L884.9,1662.3 L885.9,1660.4 L886.9,1658.5 L887.9,1656.7 L888.9,1654.8 L889.9,1653 L890.9,1651.2 L891.9,1649.4 L892.9,1647.7 L893.9,1645.9 L894.9,1644.2 L895.9,1642.5 L896.9,1640.9 L897.9,1639.2 L898.9,1637.6 L899.9,1636 L900.9,1634.4 L901.9,1632.8 L902.9,1631.3 L903.9,1629.7 L904.9,1628.2 L905.9,1626.8 L906.9,1625.3 L907.9,1623.9 L908.9,1622.4 L909.9,1621 L910.9,1619.7 L911.9,1618.3 L912.9,1617 L913.9,1615.6 L914.9,1614.3 L915.9,1613.1 L916.9,1611.8 L917.9,1610.6 L918.9,1609.4 L919.9,1608.2 L920.9,1607 L921.9,1605.8 L922.9,1604.7 L923.9,1603.6 L924.9,1602.5 L925.9,1601.5 L926.9,1600.4 L927.9,1599.4 L928.9,1598.4 L929.9,1597.4 L930.9,1596.4 L931.9,1595.5 L932.9,1594.6 L933.9,1593.7 L934.9,1592.8 L935.9,1591.9 L936.9,1591.1 L937.9,1590.3 L938.9,1589.5 L939.9,1588.7 L940.9,1588 L941.9,1587.2 L942.9,1586.5 L943.9,1585.8 L944.9,1585.1 L945.9,1584.5 L946.9,1583.9 L947.9,1583.3 L948.9,1582.7 L949.9,1582.1 L950.9,1581.6 L951.9,1581 L952.9,1580.5 L953.9,1580.1 L954.9,1579.6 L955.9,1579.2 L956.9,1578.7 L957.9,1578.3 L958.9,1578 L959.9,1577.6 L960.9,1577.3 L961.9,1576.9 L962.9,1576.6 L963.9,1576.4 L964.9,1576.1 L965.9,1575.9 L966.9,1575.7 L967.9,1575.5 L968.9,1575.3 L969.9,1575.2 L970.9,1575 L971.9,1574.9 L972.9,1574.9 L973.9,1574.8 L974.9,1574.7 L975.9,1574.7 L976.9,1574.7 L977.9,1574.7 L978.9,1574.8 L979.9,1574.8 L980.9,1574.9 L981.9,1575 L982.9,1575.1 L983.9,1575.3 L984.9,1575.4 L985.9,1575.6 L986.9,1575.8 L987.9,1576.1 L988.9,1576.3 L989.9,1576.6 L990.9,1576.9 L991.9,1577.2 L992.9,1577.5 L993.9,1577.9 L994.9,1578.2 L995.9,1578.6 L996.9,1579 L997.9,1579.5 L998.9,1579.9 L999.9,1580.4 L1000.9,1580.9 L1001.9,1581.4 L1002.9,1582 L1003.9,1582.5 L1004.9,1583.1 L1005.9,1583.7 L1006.9,1584.3 L1007.9,1585 L1008.9,1585.7 L1009.9,1586.3 L1010.9,1587.1 L1011.9,1587.8 L1012.9,1588.5 L1013.9,1589.3 L1014.9,1590.1 L1015.9,1590.9 L1016.9,1591.7 L1017.9,1592.6 L1018.9,1593.5 L1019.9,1594.4 L1020.9,1595.3 L1021.9,1596.2 L1022.9,1597.2 L1023.9,1598.1 L1024.9,1599.1 L1025.9,1600.2 L1026.9,1601.2 L1027.9,1602.3 L1028.9,1603.3 L1029.9,1604.5 L1030.9,1605.6 L1031.9,1606.7 L1032.9,1607.9 L1033.9,1609.1 L1034.9,1610.3 L1035.9,1611.5 L1036.9,1612.8 L1037.9,1614 L1038.9,1615.3 L1039.9,1616.6 L1040.9,1618 L1041.9,1619.3 L1042.9,1620.7 L1043.9,1622.1 L1044.9,1623.5 L1045.9,1625 L1046.9,1626.4 L1047.9,1627.9 L1048.9,1629.4 L1049.9,1630.9 L1050.9,1632.5 L1051.9,1634 L1052.9,1635.6 L1053.9,1637.2 L1054.9,1638.8 L1055.9,1640.5 L1056.9,1642.1 L1057.9,1643.8 L1058.9,1645.5 L1059.9,1647.3 L1060.9,1649 L1061.9,1650.8 L1062.9,1652.6 L1063.9,1654.4 L1064.9,1656.2 L1065.9,1658.1 L1066.9,1660 L1067.9,1661.9 L1068.9,1663.8 L1069.9,1665.7 L1070.9,1667.7 L1071.9,1669.7 L1072.9,1671.7 L1073.9,1673.7 L1074.9,1675.7 L1075.9,1677.8 L1076.9,1679.9 L1077.9,1682 L1078.9,1684.1 L1079.3,1685" fill="none" stroke="#00f" stroke-width="10" stroke-dasharray="25.4 21.8"/>
<path d="M980.6,1684.9 L980.9,1683.6 L981.9,1679.4 L982.9,1675.3 L983.9,1671.2 L984.9,1667.1 L985.9,1663.1 L986.9,1659 L987.9,1655 L988.9,1651 L989.9,1647 L990.9,1643 L991.9,1639.1 L992.9,1635.2 L993.9,1631.3 L994.9,1627.4 L995.9,1623.5 L996.9,1619.7 L997.9,1615.8 L998.9,1612 L999.9,1608.2 L1000.9,1604.4 L1001.9,1600.7 L1002.9,1597 L1003.9,1593.2 L1004.9,1589.5 L1005.9,1585.9 L1006.9,1582.2 L1007.9,1578.6 L1008.9,1575 L1009.9,1571.4 L1010.9,1567.8 L1011.9,1564.2 L1012.9,1560.7 L1013.9,1557.1 L1014.9,1553.6 L1015.9,1550.2 L1016.9,1546.7 L1017.9,1543.2 L1018.9,1539.8 L1019.9,1536.4 L1020.9,1533 L1021.9,1529.7 L1022.9,1526.3 L1023.9,1523 L1024.9,1519.7 L1025.9,1516.4 L1026.9,1513.1 L1027.9,1509.9 L1028.9,1506.6 L1029.9,1503.4 L1030.9,1500.2 L1031.9,1497 L1032.9,1493.9 L1033.9,1490.8 L1034.9,1487.6 L1035.9,1484.5 L1036.9,1481.5 L1037.9,1478.4 L1038.9,1475.4 L1039.9,1472.3 L1040.9,1469.3 L1041.9,1466.4 L1042.9,1463.4 L1043.9,1460.5 L1044.9,1457.5 L1045.9,1454.6 L1046.9,1451.7 L1047.9,1448.9 L1048.9,1446 L1049.9,1443.2 L1050.9,1440.4 L1051.9,1437.6 L1052.9,1434.8 L1053.9,1432.1 L1054.9,1429.4 L1055.9,1426.7 L1056.9,1424 L1057.9,1421.3 L1058.9,1418.6 L1059.9,1416 L1060.9,1413.4 L1061.9,1410.8 L1062.9,1408.2 L1063.9,1405.7 L1064.9,1403.1 L1065.9,1400.6 L1066.9,1398.1 L1067.9,1395.6 L1068.9,1393.2 L1069.9,1390.7 L1070.9,1388.3 L1071.9,1385.9 L1072.9,1383.5 L1073.9,1381.2 L1074.9,1378.8 L1075.9,1376.5 L1076.9,1374.2 L1077.9,1371.9 L1078.9,1369.6 L1079.9,1367.4 L1080.9,1365.2 L1081.9,1363 L1082.9,1360.8 L1083.9,1358.6 L1084.9,1356.4 L1085.9,1354.3 L1086.9,1352.2 L1087.9,1350.1 L1088.9,1348 L1089.9,1346 L1090.9,1343.9 L1091.9,1341.9 L1092.9,1339.9 L1093.9,1338 L1094.9,1336 L1095.9,1334.1 L1096.9,1332.1 L1097.9,1330.2 L1098.9,1328.4 L1099.9,1326.5 L1100.9,1324.7 L1101.9,1322.8 L1102.9,1321 L1103.9,1319.3 L1104.9,1317.5 L1105.9,1315.7 L1106.9,1314 L1107.9,1312.3 L1108.9,1310.6 L1109.9,1309 L1110.9,1307.3 L1111.9,1305.7 L1112.9,1304.1 L1113.9,1302.5 L1114.9,1300.9 L1115.9,1299.4 L1116.9,1297.8 L1117.9,1296.3 L1118.9,1294.8 L1119.9,1293.3 L1120.9,1291.9 L1121.9,1290.5 L1122.9,1289 L1123.9,1287.6 L1124.9,1286.3 L1125.9,1284.9 L1126.9,1283.6 L1127.9,1282.2 L1128.9,1280.9 L1129.9,1279.7 L1130.9,1278.4 L1131.9,1277.2 L1132.9,1275.9 L1133.9,1274.7 L1134.9,1273.5 L1135.9,1272.4 L1136.9,1271.2 L1137.9,1270.1 L1138.9,1269 L1139.9,1267.9 L1140.9,1266.8 L1141.9,1265.8 L1142.9,1264.8 L1143.9,1263.8 L1144.9,1262.8 L1145.9,1261.8 L1146.9,1260.8 L1147.9,1259.9 L1148.9,1259 L1149.9,1258.1 L1150.9,1257.2 L1151.9,1256.4 L1152.9,1255.5 L1153.9,1254.7 L1154.9,1253.9 L1155.9,1253.1 L1156.9,1252.4 L1157.9,1251.6 L1158.9,1250.9 L1159.9,1250.2 L1160.9,1249.5 L1161.9,1248.9 L1162.9,1248.2 L1163.9,1247.6 L1164.9,1247 L1165.9,1246.4 L1166.9,1245.8 L1167.9,1245.3 L1168.9,1244.8 L1169.9,1244.3 L1170.9,1243.8 L1171.9,1243.3 L1172.9,1242.8 L1173.9,1242.4 L1174.9,1242 L1175.9,1241.6 L1176.9,1241.2 L1177.9,1240.9 L1178.9,1240.5 L1179.9,1240.2 L1180.9,1239.9 L1181.9,1239.7 L1182.9,1239.4 L1183.9,1239.2 L1184.9,1238.9 L1185.9,1238.7 L1186.9,1238.6 L1187.9,1238.4 L1188.9,1238.3 L1189.9,1238.1 L1190.9,1238 L1191.9,1238 L1192.9,1237.9 L1193.9,1237.8 L1194.9,1237.8 L1195.9,1237.8 L1196.9,1237.8 L1197.9,1237.9 L1198.9,1237.9 L1199.9,1238 L1200.9,1238.1 L1201.9,1238.2 L1202.9,1238.3 L1203.9,1238.5 L1204.9,1238.6 L1205.9,1238.8 L1206.9,1239 L1207.9,1239.2 L1208.9,1239.5 L1209.9,1239.8 L1210.9,1240 L1211.9,1240.3 L1212.9,1240.7 L1213.9,1241 L1214.9,1241.4 L1215.9,1241.7 L1216.9,1242.1 L1217.9,1242.6 L1218.9,1243 L1219.9,1243.5 L1220.9,1243.9 L1221.9,1244.4 L1222.9,1244.9 L1223.9,1245.5 L1224.9,1246 L1225.9,1246.6 L1226.9,1247.2 L1227.9,1247.8 L1228.9,1248.4 L1229.9,1249.1 L1230.9,1249.8 L1231.9,1250.5 L1232.9,1251.2 L1233.9,1251.9 L1234.9,1252.6 L1235.9,1253.4 L1236.9,1254.2 L1237.9,1255 L1238.9,1255.8 L1239.9,1256.7 L1240.9,1257.5 L1241.9,1258.4 L1242.9,1259.3 L1243.9,1260.2 L1244.9,1261.2 L1245.9,1262.1 L1246.9,1263.1 L1247.9,1264.1 L1248.9,1265.1 L1249.9,1266.2 L1250.9,1267.2 L1251.9,1268.3 L1252.9,1269.4 L1253.9,1270.5 L1254.9,1271.6 L1255.9,1272.8 L1256.9,1274 L1257.9,1275.2 L1258.9,1276.4 L1259.9,1277.6 L1260.9,1278.9 L1261.9,1280.1 L1262.9,1281.4 L1263.9,1282.7 L1264.9,1284 L1265.9,1285.4 L1266.9,1286.8 L1267.9,1288.1 L1268.9,1289.5 L1269.9,1291 L1270.9,1292.4 L1271.9,1293.9 L1272.9,1295.4 L1273.9,1296.9 L1274.9,1298.4 L1275.9,1299.9 L1276.9,1301.5 L1277.9,1303.1 L1278.9,1304.7 L1279.9,1306.3 L1280.9,1307.9 L1281.9,1309.6 L1282.9,1311.2 L1283.9,1312.9 L1284.9,1314.6 L1285.9,1316.4 L1286.9,1318.1 L1287.9,1319.9 L1288.9,1321.7 L1289.9,1323.5 L1290.9,1325.3 L1291.9,1327.2 L1292.9,1329 L1293.9,1330.9 L1294.9,1332.8 L1295.9,1334.8 L1296.9,1336.7 L1297.9,1338.7 L1298.9,1340.7 L1299.9,1342.7 L1300.9,1344.7 L1301.9,1346.7 L1302.9,1348.8 L1303.9,1350.9 L1304.9,1353 L1305.9,1355.1 L1306.9,1357.2 L1307.9,1359.4 L1308.9,1361.6 L1309.9,1363.8 L1310.9,1366 L1311.9,1368.2 L1312.9,1370.5 L1313.9,1372.7 L1314.9,1375 L1315.9,1377.3 L1316.9,1379.7 L1317.9,1382 L1318.9,1384.4 L1319.9,1386.8 L1320.9,1389.2 L1321.9,1391.6 L1322.9,1394.1 L1323.9,1396.5 L1324.9,1399 L1325.9,1401.5 L1326.9,1404 L1327.9,1406.6 L1328.9,1409.2 L1329.9,1411.7 L1330.9,1414.3 L1331.9,1417 L1332.9,1419.6 L1333.9,1422.3 L1334.9,1424.9 L1335.9,1427.6 L1336.9,1430.4 L1337.9,1433.1 L1338.9,1435.8 L1339.9,1438.6 L1340.9,1441.4 L1341.9,1444.2 L1342.9,1447.1 L1343.9,1449.9 L1344.9,1452.8 L1345.9,1455.7 L1346.9,1458.6 L1347.9,1461.5 L1348.9,1464.5 L1349.9,1467.4 L1350.9,1470.4 L1351.9,1473.4 L1352.9,1476.5 L1353.9,1479.5 L1354.9,1482.6 L1355.9,1485.7 L1356.9,1488.8 L1357.9,1491.9 L1358.9,1495 L1359.9,1498.2 L1360.9,1501.4 L1361.9,1504.6 L1362.9,1507.8 L1363.9,1511 L1364.9,1514.3 L1365.9,1517.6 L1366.9,1520.9 L1367.9,1524.2 L1368.9,1527.5 L1369.9,1530.9 L1370.9,1534.3 L1371.9,1537.7 L1372.9,1541.1 L1373.9,1544.5 L1374.9,1547.9 L1375.9,1551.4 L1376.9,1554.9 L1377.9,1558.4 L1378.9,1562 L1379.9,1565.5 L1380.9,1569.1 L1381.9,1572.7 L1382.9,1576.3 L1383.9,1579.9 L1384.9,1583.5 L1385.9,1587.2 L1386.9,1590.9 L1387.9,1594.6 L1388.9,1598.3 L1389.9,1602 L1390.9,1605.8 L1391.9,1609.6 L1392.9,1613.4 L1393.9,1617.2 L1394.9,1621 L1395.9,1624.9 L1396.9,1628.8 L1397.9,1632.7 L1398.9,1636.6 L1399.9,1640.5 L1400.9,1644.5 L1401.9,1648.5 L1402.9,1652.5 L1403.9,1656.5 L1404.9,1660.5 L1405.9,1664.5 L1406.9,1668.6 L1407.9,1672.7 L1408.9,1676.8 L1409.9,1680.9 L1410.9,1685" fill="none" stroke="#00f" stroke-width="10" stroke-dasharray="25.4 21.8"/>
<path d="M1159.8,1685 L1159.9,1684.4 L1160.9,1681.2 L1161.9,1678 L1162.9,1674.7 L1163.9,1671.5 L1164.9,1668.4 L1165.9,1665.2 L1166.9,1662 L1167.9,1658.9 L1168.9,1655.8 L1169.9,1652.6 L1170.9,1649.5 L1171.9,1646.5 L1172.9,1643.4 L1173.9,1640.3 L1174.9,1637.3 L1175.9,1634.3 L1176.9,1631.2 L1177.9,1628.2 L1178.9,1625.3 L1179.9,1622.3 L1180.9,1619.3 L1181.9,1616.4 L1182.9,1613.5 L1183.9,1610.6 L1184.9,1607.7 L1185.9,1604.8 L1186.9,1601.9 L1187.9,1599 L1188.9,1596.2 L1189.9,1593.4 L1190.9,1590.6 L1191.9,1587.8 L1192.9,1585 L1193.9,1582.2 L1194.9,1579.4 L1195.9,1576.7 L1196.9,1574 L1197.9,1571.3 L1198.9,1568.6 L1199.9,1565.9 L1200.9,1563.2 L1201.9,1560.5 L1202.9,1557.9 L1203.9,1555.3 L1204.9,1552.7 L1205.9,1550.1 L1206.9,1547.5 L1207.9,1544.9 L1208.9,1542.4 L1209.9,1539.8 L1210.9,1537.3 L1211.9,1534.8 L1212.9,1532.3 L1213.9,1529.8 L1214.9,1527.3 L1215.9,1524.9 L1216.9,1522.4 L1217.9,1520 L1218.9,1517.6 L1219.9,1515.2 L1220.9,1512.8 L1221.9,1510.4 L1222.9,1508.1 L1223.9,1505.7 L1224.9,1503.4 L1225.9,1501.1 L1226.9,1498.8 L1227.9,1496.5 L1228.9,1494.2 L1229.9,1492 L1230.9,1489.7 L1231.9,1487.5 L1232.9,1485.3 L1233.9,1483.1 L1234.9,1480.9 L1235.9,1478.7 L1236.9,1476.6 L1237.9,1474.4 L1238.9,1472.3 L1239.9,1470.2 L1240.9,1468.1 L1241.9,1466 L1242.9,1463.9 L1243.9,1461.9 L1244.9,1459.9 L1245.9,1457.8 L1246.9,1455.8 L1247.9,1453.8 L1248.9,1451.8 L1249.9,1449.9 L1250.9,1447.9 L1251.9,1446 L1252.9,1444 L1253.9,1442.1 L1254.9,1440.2 L1255.9,1438.3 L1256.9,1436.5 L1257.9,1434.6 L1258.9,1432.8 L1259.9,1430.9 L1260.9,1429.1 L1261.9,1427.3 L1262.9,1425.6 L1263.9,1423.8 L1264.9,1422 L1265.9,1420.3 L1266.9,1418.6 L1267.9,1416.8 L1268.9,1415.1 L1269.9,1413.5 L1270.9,1411.8 L1271.9,1410.1 L1272.9,1408.5 L1273.9,1406.9 L1274.9,1405.3 L1275.9,1403.7 L1276.9,1402.1 L1277.9,1400.5 L1278.9,1399 L1279.9,1397.4 L1280.9,1395.9 L1281.9,1394.4 L1282.9,1392.9 L1283.9,1391.4 L1284.9,1389.9 L1285.9,1388.5 L1286.9,1387 L1287.9,1385.6 L1288.9,1384.2 L1289.9,1382.8 L1290.9,1381.4 L1291.9,1380 L1292.9,1378.7 L1293.9,1377.3 L1294.9,1376 L1295.9,1374.7 L1296.9,1373.4 L1297.9,1372.1 L1298.9,1370.8 L1299.9,1369.6 L1300.9,1368.4 L1301.9,1367.1 L1302.9,1365.9 L1303.9,1364.7 L1304.9,1363.5 L1305.9,1362.4 L1306.9,1361.2 L1307.9,1360.1 L1308.9,1358.9 L1309.9,1357.8 L1310.9,1356.7 L1311.9,1355.7 L1312.9,1354.6 L1313.9,1353.5 L1314.9,1352.5 L1315.9,1351.5 L1316.9,1350.4 L1317.9,1349.5 L1318.9,1348.5 L1319.9,1347.5 L1320.9,1346.5 L1321.9,1345.6 L1322.9,1344.7 L1323.9,1343.8 L1324.9,1342.9 L1325.9,1342 L1326.9,1341.1 L1327.9,1340.3 L1328.9,1339.4 L1329.9,1338.6 L1330.9,1337.8 L1331.9,1337 L1332.9,1336.2 L1333.9,1335.4 L1334.9,1334.7 L1335.9,1333.9 L1336.9,1333.2 L1337.9,1332.5 L1338.9,1331.8 L1339.9,1331.1 L1340.9,1330.5 L1341.9,1329.8 L1342.9,1329.2 L1343.9,1328.5 L1344.9,1327.9 L1345.9,1327.3 L1346.9,1326.7 L1347.9,1326.2 L1348.9,1325.6 L1349.9,1325.1 L1350.9,1324.6 L1351.9,1324 L1352.9,1323.5 L1353.9,1323.1 L1354.9,1322.6 L1355.9,1322.1 L1356.9,1321.7 L1357.9,1321.3 L1358.9,1320.9 L1359.9,1320.5 L1360.9,1320.1 L1361.9,1319.7 L1362.9,1319.4 L1363.9,1319 L1364.9,1318.7 L1365.9,1318.4 L1366.9,1318.1 L1367.9,1317.8 L1368.9,1317.5 L1369.9,1317.3 L1370.9,1317 L1371.9,1316.8 L1372.9,1316.6 L1373.9,1316.4 L1374.9,1316.2 L1375.9,1316.1 L1376.9,1315.9 L1377.9,1315.8 L1378.9,1315.6 L1379.9,1315.5 L1380.9,1315.4 L1381.9,1315.4 L1382.9,1315.3 L1383.9,1315.2 L1384.9,1315.2 L1385.9,1315.2 L1386.9,1315.2 L1387.9,1315.2 L1388.9,1315.2 L1389.9,1315.2 L1390.9,1315.3 L1391.9,1315.3 L1392.9,1315.4 L1393.9,1315.5 L1394.9,1315.6 L1395.9,1315.7 L1396.9,1315.8 L1397.9,1316 L1398.9,1316.1 L1399.9,1316.3 L1400.9,1316.5 L1401.9,1316.7 L1402.9,1316.9 L1403.9,1317.2 L1404.9,1317.4 L1405.9,1317.7 L1406.9,1318 L1407.9,1318.2 L1408.9,1318.5 L1409.9,1318.9 L1410.9,1319.2 L1411.9,1319.5 L1412.9,1319.9 L1413.9,1320.3 L1414.9,1320.7 L1415.9,1321.1 L1416.9,1321.5 L1417.9,1321.9 L1418.9,1322.4 L1419.9,1322.8 L1420.9,1323.3 L1421.9,1323.8 L1422.9,1324.3 L1423.9,1324.8 L1424.9,1325.4 L1425.9,1325.9 L1426.9,1326.5 L1427.9,1327 L1428.9,1327.6 L1429.9,1328.2 L1430.9,1328.8 L1431.9,1329.5 L1432.9,1330.1 L1433.9,1330.8 L1434.9,1331.5 L1435.9,1332.2 L1436.9,1332.9 L1437.9,1333.6 L1438.9,1334.3 L1439.9,1335.1 L1440.9,1335.8 L1441.9,1336.6 L1442.9,1337.4 L1443.9,1338.2 L1444.9,1339 L1445.9,1339.8 L1446.9,1340.7 L1447.9,1341.6 L1448.9,1342.4 L1449.9,1343.3 L1450.9,1344.2 L1451.9,1345.1 L1452.9,1346.1 L1453.9,1347 L1454.9,1348 L1455.9,1349 L1456.9,1349.9 L1457.9,1351 L1458.9,1352 L1459.9,1353 L1460.9,1354.1 L1461.9,1355.1 L1462.9,1356.2 L1463.9,1357.3 L1464.9,1358.4 L1465.9,1359.5 L1466.9,1360.6 L1467.9,1361.8 L1468.9,1362.9 L1469.9,1364.1 L1470.9,1365.3 L1471.9,1366.5 L1472.9,1367.7 L1473.9,1369 L1474.9,1370.2 L1475.9,1371.5 L1476.9,1372.8 L1477.9,1374.1 L1478.9,1375.4 L1479.9,1376.7 L1480.9,1378 L1481.9,1379.4 L1482.9,1380.7 L1483.9,1382.1 L1484.9,1383.5 L1485.9,1384.9 L1486.9,1386.3 L1487.9,1387.7 L1488.9,1389.2 L1489.9,1390.7 L1490.9,1392.1 L1491.9,1393.6 L1492.9,1395.1 L1493.9,1396.6 L1494.9,1398.2 L1495.9,1399.7 L1496.9,1401.3 L1497.9,1402.9 L1498.9,1404.5 L1499.9,1406.1 L1500.9,1407.7 L1501.9,1409.3 L1502.9,1411 L1503.9,1412.6 L1504.9,1414.3 L1505.9,1416 L1506.9,1417.7 L1507.9,1419.4 L1508.9,1421.2 L1509.9,1422.9 L1510.9,1424.7 L1511.9,1426.4 L1512.9,1428.2 L1513.9,1430 L1514.9,1431.9 L1515.9,1433.7 L1516.9,1435.5 L1517.9,1437.4 L1518.9,1439.3 L1519.9,1441.2 L1520.9,1443.1 L1521.9,1445 L1522.9,1446.9 L1523.9,1448.9 L1524.9,1450.8 L1525.9,1452.8 L1526.9,1454.8 L1527.9,1456.8 L1528.9,1458.8 L1529.9,1460.9 L1530.9,1462.9 L1531.9,1465 L1532.9,1467.1 L1533.9,1469.2 L1534.9,1471.3 L1535.9,1473.4 L1536.9,1475.5 L1537.9,1477.7 L1538.9,1479.8 L1539.9,1482 L1540.9,1484.2 L1541.9,1486.4 L1542.9,1488.6 L1543.9,1490.9 L1544.9,1493.1 L1545.9,1495.4 L1546.9,1497.6 L1547.9,1499.9 L1548.9,1502.2 L1549.9,1504.6 L1550.9,1506.9 L1551.9,1509.2 L1552.9,1511.6 L1553.9,1514 L1554.9,1516.4 L1555.9,1518.8 L1556.9,1521.2 L1557.9,1523.6 L1558.9,1526.1 L1559.9,1528.6 L1560.9,1531 L1561.9,1533.5 L1562.9,1536 L1563.9,1538.6 L1564.9,1541.1 L1565.9,1543.6 L1566.9,1546.2 L1567.9,1548.8 L1568.9,1551.4 L1569.9,1554 L1570.9,1556.6 L1571.9,1559.2 L1572.9,1561.9 L1573.9,1564.5 L1574.9,1567.2 L1575.9,1569.9 L1576.9,1572.6 L1577.9,1575.3 L1578.9,1578.1 L1579.9,1580.8 L1580.9,1583.6 L1581.9,1586.4 L1582.9,1589.2 L1583.9,1592 L1584.9,1594.8 L1585.9,1597.6 L1586.9,1600.5 L1587.9,1603.3 L1588.9,1606.2 L1589.9,1609.1 L1590.9,1612 L1591.9,1614.9 L1592.9,1617.9 L1593.9,1620.8 L1594.9,1623.8 L1595.9,1626.8 L1596.9,1629.8 L1597.9,1632.8 L1598.9,1635.8 L1599.9,1638.8 L1600.9,1641.9 L1601.9,1644.9 L1602.9,1648 L1603.9,1651.1 L1604.9,1654.2 L1605.9,1657.3 L1606.9,1660.5 L1607.9,1663.6 L1608.9,1666.8 L1609.9,1670 L1610.9,1673.1 L1611.9,1676.4 L1612.9,1679.6 L1613.9,1682.8 L1614.6,1685" fill="none" stroke="#00f" stroke-width="10" stroke-dasharray="25.4 21.8"/>
<path d="M1393.9,1685 L1393.9,1684.7 L1394.9,1682 L1395.9,1679.2 L1396.9,1676.5 L1397.9,1673.8 L1398.9,1671 L1399.9,1668.3 L1400.9,1665.6 L1401.9,1662.9 L1402.9,1660.3 L1403.9,1657.6 L1404.9,1654.9 L1405.9,1652.3 L1406.9,1649.7 L1407.9,1647 L1408.9,1644.4 L1409.9,1641.8 L1410.9,1639.2 L1411.9,1636.7 L1412.9,1634.1 L1413.9,1631.5 L1414.9,1629 L1415.9,1626.5 L1416.9,1623.9 L1417.9,1621.4 L1418.9,1618.9 L1419.9,1616.4 L1420.9,1614 L1421.9,1611.5 L1422.9,1609 L1423.9,1606.6 L1424.9,1604.2 L1425.9,1601.7 L1426.9,1599.3 L1427.9,1596.9 L1428.9,1594.5 L1429.9,1592.2 L1430.9,1589.8 L1431.9,1587.4 L1432.9,1585.1 L1433.9,1582.8 L1434.9,1580.4 L1435.9,1578.1 L1436.9,1575.8 L1437.9,1573.5 L1438.9,1571.3 L1439.9,1569 L1440.9,1566.7 L1441.9,1564.5 L1442.9,1562.3 L1443.9,1560 L1444.9,1557.8 L1445.9,1555.6 L1446.9,1553.4 L1447.9,1551.2 L1448.9,1549.1 L1449.9,1546.9 L1450.9,1544.8 L1451.9,1542.6 L1452.9,1540.5 L1453.9,1538.4 L1454.9,1536.3 L1455.9,1534.2 L1456.9,1532.1 L1457.9,1530.1 L1458.9,1528 L1459.9,1526 L1460.9,1523.9 L1461.9,1521.9 L1462.9,1519.9 L1463.9,1517.9 L1464.9,1515.9 L1465.9,1513.9 L1466.9,1511.9 L1467.9,1510 L1468.9,1508 L1469.9,1506.1 L1470.9,1504.2 L1471.9,1502.2 L1472.9,1500.3 L1473.9,1498.5 L1474.9,1496.6 L1475.9,1494.7 L1476.9,1492.8 L1477.9,1491 L1478.9,1489.2 L1479.9,1487.3 L1480.9,1485.5 L1481.9,1483.7 L1482.9,1481.9 L1483.9,1480.1 L1484.9,1478.4 L1485.9,1476.6 L1486.9,1474.9 L1487.9,1473.1 L1488.9,1471.4 L1489.9,1469.7 L1490.9,1468 L1491.9,1466.3 L1492.9,1464.6 L1493.9,1462.9 L1494.9,1461.3 L1495.9,1459.6 L1496.9,1458 L1497.9,1456.3 L1498.9,1454.7 L1499.9,1453.1 L1500.9,1451.5 L1501.9,1449.9 L1502.9,1448.4 L1503.9,1446.8 L1504.9,1445.3 L1505.9,1443.7 L1506.9,1442.2 L1507.9,1440.7 L1508.9,1439.2 L1509.9,1437.7 L1510.9,1436.2 L1511.9,1434.7 L1512.9,1433.3 L1513.9,1431.8 L1514.9,1430.4 L1515.9,1428.9 L1516.9,1427.5 L1517.9,1426.1 L1518.9,1424.7 L1519.9,1423.3 L1520.9,1422 L1521.9,1420.6 L1522.9,1419.2 L1523.9,1417.9 L1524.9,1416.6 L1525.9,1415.3 L1526.9,1413.9 L1527.9,1412.7 L1528.9,1411.4 L1529.9,1410.1 L1530.9,1408.8 L1531.9,1407.6 L1532.9,1406.3 L1533.9,1405.1 L1534.9,1403.9 L1535.9,1402.7 L1536.9,1401.5 L1537.9,1400.3 L1538.9,1399.1 L1539.9,1398 L1540.9,1396.8 L1541.9,1395.7 L1542.9,1394.5 L1543.9,1393.4 L1544.9,1392.3 L1545.9,1391.2 L1546.9,1390.1 L1547.9,1389 L1548.9,1388 L1549.9,1386.9 L1550.9,1385.9 L1551.9,1384.9 L1552.9,1383.8 L1553.9,1382.8 L1554.9,1381.8 L1555.9,1380.8 L1556.9,1379.9 L1557.9,1378.9 L1558.9,1377.9 L1559.9,1377 L1560.9,1376.1 L1561.9,1375.2 L1562.9,1374.2 L1563.9,1373.3 L1564.9,1372.5 L1565.9,1371.6 L1566.9,1370.7 L1567.9,1369.9 L1568.9,1369 L1569.9,1368.2 L1570.9,1367.4 L1571.9,1366.6 L1572.9,1365.8 L1573.9,1365 L1574.9,1364.2 L1575.9,1363.4 L1576.9,1362.7 L1577.9,1361.9 L1578.9,1361.2 L1579.9,1360.5 L1580.9,1359.8 L1581.9,1359.1 L1582.9,1358.4 L1583.9,1357.7 L1584.9,1357 L1585.9,1356.4 L1586.9,1355.7 L1587.9,1355.1 L1588.9,1354.5 L1589.9,1353.9 L1590.9,1353.3 L1591.9,1352.7 L1592.9,1352.1 L1593.9,1351.5 L1594.9,1351 L1595.9,1350.4 L1596.9,1349.9 L1597.9,1349.4 L1598.9,1348.9 L1599.9,1348.3 L1600.9,1347.9 L1601.9,1347.4 L1602.9,1346.9 L1603.9,1346.5 L1604.9,1346 L1605.9,1345.6 L1606.9,1345.2 L1607.9,1344.7 L1608.9,1344.3 L1609.9,1343.9 L1610.9,1343.6 L1611.9,1343.2 L1612.9,1342.8 L1613.9,1342.5 L1614.9,1342.2 L1615.9,1341.8 L1616.9,1341.5 L1617.9,1341.2 L1618.9,1340.9 L1619.9,1340.6 L1620.9,1340.4 L1621.9,1340.1 L1622.9,1339.9 L1623.9,1339.6 L1624.9,1339.4 L1625.9,1339.2 L1626.9,1339 L1627.9,1338.8 L1628.9,1338.6 L1629.9,1338.5 L1630.9,1338.3 L1631.9,1338.1 L1632.9,1338 L1633.9,1337.9 L1634.9,1337.8 L1635.9,1337.7 L1636.9,1337.6 L1637.9,1337.5 L1638.9,1337.4 L1639.9,1337.4 L1640.9,1337.3 L1641.9,1337.3 L1642.9,1337.2 L1643.9,1337.2 L1644.9,1337.2 L1645.9,1337.2 L1646.9,1337.3 L1647.9,1337.3 L1648.9,1337.3 L1649.9,1337.4 L1650.9,1337.4 L1651.9,1337.5 L1652.9,1337.6 L1653.9,1337.7 L1654.9,1337.8 L1655.9,1337.9 L1656.9,1338 L1657.9,1338.2 L1658.9,1338.3 L1659.9,1338.5 L1660.9,1338.7 L1661.9,1338.8 L1662.9,1339 L1663.9,1339.3 L1664.9,1339.5 L1665.9,1339.7 L1666.9,1339.9 L1667.9,1340.2 L1668.9,1340.4 L1669.9,1340.7 L1670.9,1341 L1671.9,1341.3 L1672.9,1341.6 L1673.9,1341.9 L1674.9,1342.2 L1675.9,1342.6 L1676.9,1342.9 L1677.9,1343.3 L1678.9,1343.7 L1679.9,1344 L1680.9,1344.4 L1681.9,1344.8 L1682.9,1345.3 L1683.9,1345.7 L1684.9,1346.1 L1685.9,1346.6 L1686.9,1347 L1687.9,1347.5 L1688.9,1348 L1689.9,1348.5 L1690.9,1349 L1691.9,1349.5 L1692.9,1350 L1693.9,1350.6 L1694.9,1351.1 L1695.9,1351.7 L1696.9,1352.2 L1697.9,1352.8 L1698.9,1353.4 L1699.9,1354 L1700.9,1354.6 L1701.9,1355.2 L1702.9,1355.9 L1703.9,1356.5 L1704.9,1357.2 L1705.9,1357.9 L1706.9,1358.5 L1707.9,1359.2 L1708.9,1359.9 L1709.9,1360.6 L1710.9,1361.4 L1711.9,1362.1 L1712.9,1362.9 L1713.9,1363.6 L1714.9,1364.4 L1715.9,1365.2 L1716.9,1366 L1717.9,1366.8 L1718.9,1367.6 L1719.9,1368.4 L1720.9,1369.2 L1721.9,1370.1 L1722.9,1370.9 L1723.9,1371.8 L1724.9,1372.7 L1725.9,1373.6 L1726.9,1374.5 L1727.9,1375.4 L1728.9,1376.3 L1729.9,1377.2 L1730.9,1378.2 L1731.9,1379.1 L1732.9,1380.1 L1733.9,1381.1 L1734.9,1382.1 L1735.9,1383.1 L1736.9,1384.1 L1737.9,1385.1 L1738.9,1386.2 L1739.9,1387.2 L1740.9,1388.3 L1741.9,1389.3 L1742.9,1390.4 L1743.9,1391.5 L1744.9,1392.6 L1745.9,1393.7 L1746.9,1394.8 L1747.9,1396 L1748.9,1397.1 L1749.9,1398.3 L1750.9,1399.4 L1751.9,1400.6 L1752.9,1401.8 L1753.9,1403 L1754.9,1404.2 L1755.9,1405.4 L1756.9,1406.6 L1757.9,1407.9 L1758.9,1409.1 L1759.9,1410.4 L1760.9,1411.7 L1761.9,1413 L1762.9,1414.3 L1763.9,1415.6 L1764.9,1416.9 L1765.9,1418.2 L1766.9,1419.6 L1767.9,1420.9 L1768.9,1422.3 L1769.9,1423.7 L1770.9,1425.1 L1771.9,1426.5 L1772.9,1427.9 L1773.9,1429.3 L1774.9,1430.7 L1775.9,1432.2 L1776.9,1433.6 L1777.9,1435.1 L1778.9,1436.6 L1779.9,1438.1 L1780.9,1439.5 L1781.9,1441.1 L1782.9,1442.6 L1783.9,1444.1 L1784.9,1445.6 L1785.9,1447.2 L1786.9,1448.8 L1787.9,1450.3 L1788.9,1451.9 L1789.9,1453.5 L1790.9,1455.1 L1791.9,1456.8 L1792.9,1458.4 L1793.9,1460 L1794.9,1461.7 L1795.9,1463.3 L1796.9,1465 L1797.9,1466.7 L1798.9,1468.4 L1799.9,1470.1 L1800.9,1471.8 L1801.9,1473.6 L1802.9,1475.3 L1803.9,1477 L1804.9,1478.8 L1805.9,1480.6 L1806.9,1482.4 L1808,1484.2" fill="none" stroke="#00f" stroke-width="10" stroke-dasharray="25.4 21.8"/>
</g>
<path d="M284.4,1685V874.9 M716.6,1685V874.9 M878.5,1685V874.9 M949.5,1685V874.9 M1135.5,1685V874.9 M1480.6,1685V874.9 M1557.6,1685V874.9" stroke="#0f0" stroke-width="6.9" stroke-dasharray="24.8 5.1 13 5.1" fill="none"/>
<path d="M238.1,1650.1H1805" stroke="#000" stroke-width="6.6" stroke-dasharray="6.8 5.2" fill="none"/>
<g fill="#262626"><text transform="translate(183.6,1096.4) scale(1,1.04)" text-anchor="end" font-size="48">10</text><text transform="translate(183,1072.8) scale(1.23,1.04)" font-size="37">-</text><text transform="translate(217.5,1072.8) scale(1,1.04)" text-anchor="end" font-size="37">1</text><text transform="translate(183.6,1294.1) scale(1,1.04)" text-anchor="end" font-size="48">10</text><text transform="translate(183,1270.5) scale(1.23,1.04)" font-size="37">-</text><text transform="translate(217.5,1270.5) scale(1,1.04)" text-anchor="end" font-size="37">2</text><text transform="translate(183.6,1491.8) scale(1,1.04)" text-anchor="end" font-size="48">10</text><text transform="translate(183,1468.2) scale(1.23,1.04)" font-size="37">-</text><text transform="translate(217.5,1468.2) scale(1,1.04)" text-anchor="end" font-size="37">3</text><text transform="translate(183.6,1689.6) scale(1,1.04)" text-anchor="end" font-size="48">10</text><text transform="translate(183,1666) scale(1.23,1.04)" font-size="37">-</text><text transform="translate(217.5,1666) scale(1,1.04)" text-anchor="end" font-size="37">4</text></g>
<text transform="translate(107.2,1279.9) rotate(-90) scale(1,1.02)" text-anchor="middle" font-size="52.8" fill="#262626">Dec. Growth Rate</text>
<text x="1679" y="973.4" font-size="55" font-weight="bold" fill="#000">b)</text>
<defs><clipPath id="clipc"><rect x="235.9" y="1683" width="1574" height="811.4"/></clipPath></defs>
<rect x="237.9" y="1685" width="1570" height="807.4" fill="none" stroke="#262626" stroke-width="5.6"/>
<path d="M237.9,1685H272.5 M1808,1685H1773.4 M237.9,1822.7H256.9 M1808,1822.7H1789 M237.9,1788H256.9 M1808,1788H1789 M237.9,1763.4H256.9 M1808,1763.4H1789 M237.9,1744.3H256.9 M1808,1744.3H1789 M237.9,1728.7H256.9 M1808,1728.7H1789 M237.9,1715.5H256.9 M1808,1715.5H1789 M237.9,1704H256.9 M1808,1704H1789 M237.9,1694H256.9 M1808,1694H1789 M237.9,1882H272.5 M1808,1882H1773.4 M237.9,2019.8H256.9 M1808,2019.8H1789 M237.9,1985.1H256.9 M1808,1985.1H1789 M237.9,1960.4H256.9 M1808,1960.4H1789 M237.9,1941.3H256.9 M1808,1941.3H1789 M237.9,1925.7H256.9 M1808,1925.7H1789 M237.9,1912.5H256.9 M1808,1912.5H1789 M237.9,1901.1H256.9 M1808,1901.1H1789 M237.9,1891H256.9 M1808,1891H1789 M237.9,2079.1H272.5 M1808,2079.1H1773.4 M237.9,2216.8H256.9 M1808,2216.8H1789 M237.9,2182.1H256.9 M1808,2182.1H1789 M237.9,2157.5H256.9 M1808,2157.5H1789 M237.9,2138.4H256.9 M1808,2138.4H1789 M237.9,2122.8H256.9 M1808,2122.8H1789 M237.9,2109.6H256.9 M1808,2109.6H1789 M237.9,2098.2H256.9 M1808,2098.2H1789 M237.9,2088.1H256.9 M1808,2088.1H1789 M237.9,2276.2H272.5 M1808,2276.2H1773.4 M237.9,2413.9H256.9 M1808,2413.9H1789 M237.9,2379.2H256.9 M1808,2379.2H1789 M237.9,2354.6H256.9 M1808,2354.6H1789 M237.9,2335.5H256.9 M1808,2335.5H1789 M237.9,2319.9H256.9 M1808,2319.9H1789 M237.9,2306.7H256.9 M1808,2306.7H1789 M237.9,2295.3H256.9 M1808,2295.3H1789 M237.9,2285.2H256.9 M1808,2285.2H1789 M237.9,2473.2H272.5 M1808,2473.2H1773.4 M237.9,2492.3H256.9 M1808,2492.3H1789 M237.9,2482.2H256.9 M1808,2482.2H1789 M237.9,2482.2H256.9 M1808,2482.2H1789 M237.9,2492.3H256.9 M1808,2492.3H1789 M362.4,2492.3V2458.3 M362.4,1685V1719 M683,2492.3V2458.3 M683,1685V1719 M1006.5,2492.3V2458.3 M1006.5,1685V1719 M1329.9,2492.3V2458.3 M1329.9,1685V1719 M1646.9,2492.3V2458.3 M1646.9,1685V1719" stroke="#262626" stroke-width="5.5" fill="none"/>
<g fill="none" stroke="#000" stroke-width="3.1"><circle cx="1093.3" cy="2086" r="11.95"/><circle cx="1096.9" cy="2067.6" r="11.95"/><circle cx="1100.4" cy="2052.3" r="11.95"/><circle cx="1110.9" cy="2053.4" r="11.95"/><circle cx="1114.5" cy="2032.2" r="11.95"/><circle cx="1118" cy="2035.1" r="11.95"/><circle cx="1121.5" cy="2005.8" r="11.95"/><circle cx="1128.5" cy="1991.8" r="11.95"/><circle cx="1139.1" cy="2009.2" r="11.95"/><circle cx="1146.1" cy="1984" r="11.95"/><circle cx="1156.7" cy="1959.9" r="11.95"/><circle cx="1160.2" cy="1972.4" r="11.95"/><circle cx="1167.3" cy="1971.7" r="11.95"/><circle cx="1170.8" cy="1972.3" r="11.95"/><circle cx="1174.3" cy="1959.8" r="11.95"/><circle cx="1177.8" cy="1973.1" r="11.95"/><circle cx="1181.3" cy="1974.1" r="11.95"/><circle cx="1184.9" cy="1954.4" r="11.95"/><circle cx="1195.4" cy="1958.8" r="11.95"/><circle cx="1202.5" cy="1955.2" r="11.95"/><circle cx="1213" cy="1969.9" r="11.95"/><circle cx="1220.1" cy="1958.6" r="11.95"/><circle cx="1223.6" cy="1982.3" r="11.95"/><circle cx="1227.1" cy="1988.7" r="11.95"/><circle cx="1230.6" cy="1992.8" r="11.95"/><circle cx="1237.7" cy="1974.5" r="11.95"/><circle cx="1241.2" cy="1972.2" r="11.95"/><circle cx="1244.7" cy="1988.7" r="11.95"/><circle cx="1248.2" cy="1988.1" r="11.95"/><circle cx="1255.3" cy="1990.3" r="11.95"/><circle cx="1262.3" cy="2001.1" r="11.95"/><circle cx="1265.8" cy="2006.2" r="11.95"/><circle cx="1272.9" cy="2002.9" r="11.95"/><circle cx="1276.4" cy="2017.6" r="11.95"/><circle cx="1286.9" cy="2038.2" r="11.95"/><circle cx="1290.5" cy="2035.8" r="11.95"/><circle cx="1294" cy="2041.1" r="11.95"/><circle cx="1297.5" cy="2047.1" r="11.95"/><circle cx="1308.1" cy="2057.7" r="11.95"/><circle cx="1311.6" cy="2062.4" r="11.95"/><circle cx="1322.1" cy="2068.9" r="11.95"/><circle cx="1325.7" cy="2073.8" r="11.95"/><circle cx="1329.2" cy="2052.3" r="11.95"/><circle cx="1332.7" cy="2062.4" r="11.95"/><circle cx="1336.2" cy="2066.7" r="11.95"/><circle cx="1339.8" cy="2067.7" r="11.95"/><circle cx="1343.3" cy="2084.3" r="11.95"/><circle cx="1346.8" cy="2079.2" r="11.95"/><circle cx="1350.3" cy="2067.7" r="11.95"/><circle cx="1353.8" cy="2068.1" r="11.95"/><circle cx="1357.4" cy="2056.9" r="11.95"/><circle cx="1364.4" cy="2081.3" r="11.95"/><circle cx="1375" cy="2063.4" r="11.95"/><circle cx="1385.5" cy="2086.1" r="11.95"/><circle cx="1392.6" cy="2075.2" r="11.95"/><circle cx="1396.1" cy="2080.1" r="11.95"/><circle cx="1399.6" cy="2052.5" r="11.95"/><circle cx="1406.6" cy="2058.6" r="11.95"/><circle cx="1410.2" cy="2067.7" r="11.95"/><circle cx="1417.2" cy="2065.3" r="11.95"/><circle cx="1420.7" cy="2062" r="11.95"/><circle cx="1424.2" cy="2088.3" r="11.95"/><circle cx="1427.8" cy="2076.9" r="11.95"/><circle cx="1434.8" cy="2086.7" r="11.95"/><circle cx="1438.3" cy="2082.5" r="11.95"/><circle cx="1441.8" cy="2100.3" r="11.95"/><circle cx="1445.4" cy="2085.4" r="11.95"/><circle cx="1455.9" cy="2084.9" r="11.95"/><circle cx="1459.4" cy="2089.5" r="11.95"/><circle cx="1463" cy="2099.4" r="11.95"/><circle cx="1466.5" cy="2090" r="11.95"/><circle cx="1470" cy="2095.8" r="11.95"/><circle cx="1473.5" cy="2116" r="11.95"/><circle cx="1477" cy="2107.6" r="11.95"/><circle cx="1480.6" cy="2117.9" r="11.95"/><circle cx="1484.1" cy="2113.5" r="11.95"/><circle cx="1487.6" cy="2107.7" r="11.95"/><circle cx="1491.1" cy="2108.3" r="11.95"/><circle cx="1494.6" cy="2118.3" r="11.95"/><circle cx="1501.7" cy="2116.3" r="11.95"/><circle cx="1505.2" cy="2117.8" r="11.95"/><circle cx="1508.7" cy="2136.1" r="11.95"/><circle cx="1512.2" cy="2134.3" r="11.95"/><circle cx="1515.8" cy="2129.6" r="11.95"/><circle cx="1519.3" cy="2125.7" r="11.95"/><circle cx="1522.8" cy="2126.2" r="11.95"/><circle cx="1526.3" cy="2147" r="11.95"/><circle cx="1533.4" cy="2150.9" r="11.95"/><circle cx="1543.9" cy="2149.3" r="11.95"/><circle cx="1547.4" cy="2132" r="11.95"/><circle cx="1551" cy="2145" r="11.95"/><circle cx="1558" cy="2129.9" r="11.95"/><circle cx="1565" cy="2128.1" r="11.95"/><circle cx="1568.6" cy="2133.1" r="11.95"/><circle cx="1572.1" cy="2127.5" r="11.95"/><circle cx="1575.6" cy="2113.6" r="11.95"/><circle cx="1579.1" cy="2129.6" r="11.95"/><circle cx="1586.2" cy="2122.9" r="11.95"/><circle cx="1593.2" cy="2110.4" r="11.95"/><circle cx="1596.7" cy="2124.5" r="11.95"/><circle cx="1600.3" cy="2123.5" r="11.95"/><circle cx="1603.8" cy="2132.8" r="11.95"/><circle cx="1607.3" cy="2122.9" r="11.95"/><circle cx="1610.8" cy="2117.9" r="11.95"/><circle cx="1614.3" cy="2109.1" r="11.95"/><circle cx="1617.9" cy="2112.8" r="11.95"/><circle cx="1621.4" cy="2101" r="11.95"/><circle cx="1628.4" cy="2108.5" r="11.95"/><circle cx="1635.5" cy="2108.5" r="11.95"/><circle cx="1639" cy="2111.1" r="11.95"/><circle cx="1642.5" cy="2109" r="11.95"/><circle cx="1646" cy="2097.5" r="11.95"/><circle cx="1649.5" cy="2116.2" r="11.95"/><circle cx="1656.6" cy="2108.1" r="11.95"/><circle cx="1663.6" cy="2098.3" r="11.95"/><circle cx="1667.1" cy="2107.4" r="11.95"/><circle cx="1670.7" cy="2102.6" r="11.95"/><circle cx="1674.2" cy="2099.5" r="11.95"/><circle cx="1677.7" cy="2107.2" r="11.95"/><circle cx="1684.7" cy="2111.9" r="11.95"/><circle cx="1688.3" cy="2109.5" r="11.95"/><circle cx="1691.8" cy="2104.4" r="11.95"/><circle cx="1695.3" cy="2107.4" r="11.95"/><circle cx="1698.8" cy="2109.9" r="11.95"/><circle cx="1705.9" cy="2119.2" r="11.95"/><circle cx="1709.4" cy="2115.3" r="11.95"/><circle cx="1712.9" cy="2106.8" r="11.95"/><circle cx="1716.4" cy="2128.7" r="11.95"/><circle cx="1719.9" cy="2133.5" r="11.95"/><circle cx="1723.5" cy="2111.8" r="11.95"/><circle cx="1727" cy="2121.8" r="11.95"/><circle cx="1730.5" cy="2119" r="11.95"/><circle cx="1734" cy="2132.7" r="11.95"/><circle cx="1737.5" cy="2119.4" r="11.95"/><circle cx="1741.1" cy="2135.2" r="11.95"/><circle cx="1751.6" cy="2125.6" r="11.95"/><circle cx="1755.1" cy="2136.3" r="11.95"/><circle cx="1758.7" cy="2143.1" r="11.95"/><circle cx="1762.2" cy="2154.2" r="11.95"/><circle cx="1765.7" cy="2151" r="11.95"/><circle cx="1769.2" cy="2158.7" r="11.95"/><circle cx="1772.7" cy="2159.7" r="11.95"/><circle cx="1776.3" cy="2153.3" r="11.95"/><circle cx="1779.8" cy="2162" r="11.95"/><circle cx="1783.3" cy="2163.3" r="11.95"/><circle cx="1786.8" cy="2167.3" r="11.95"/><circle cx="1790.3" cy="2166.5" r="11.95"/><circle cx="1797.4" cy="2182" r="11.95"/><circle cx="1800.9" cy="2170.2" r="11.95"/><circle cx="1804.4" cy="2192.1" r="11.95"/><circle cx="1808" cy="2186.7" r="11.95"/><circle cx="245" cy="1690.8" r="11.95"/><circle cx="241.2" cy="1719.3" r="11.95"/><circle cx="258.9" cy="1753.9" r="11.95"/><circle cx="266.6" cy="1758.5" r="11.95"/><circle cx="255.8" cy="1763.9" r="11.95"/><circle cx="269.6" cy="1778.5" r="11.95"/><circle cx="288.1" cy="1793.9" r="11.95"/><circle cx="302" cy="1797" r="11.95"/><circle cx="315.8" cy="1797" r="11.95"/><circle cx="272" cy="1819.3" r="11.95"/><circle cx="283.5" cy="1851.6" r="11.95"/><circle cx="297.4" cy="1855.5" r="11.95"/><circle cx="276.6" cy="1872.4" r="11.95"/><circle cx="303.5" cy="1843.2" r="11.95"/><circle cx="326.6" cy="1843.2" r="11.95"/><circle cx="329.7" cy="1857" r="11.95"/><circle cx="318.9" cy="1887.8" r="11.95"/><circle cx="350.5" cy="1869.3" r="11.95"/><circle cx="357.4" cy="1875.5" r="11.95"/><circle cx="343.5" cy="1874" r="11.95"/><circle cx="251.2" cy="1901.7" r="11.95"/><circle cx="262.7" cy="1914" r="11.95"/><circle cx="312" cy="1917.1" r="11.95"/><circle cx="366.6" cy="1901.7" r="11.95"/><circle cx="389.7" cy="1901.7" r="11.95"/><circle cx="378.9" cy="1910.9" r="11.95"/><circle cx="363.5" cy="1915.5" r="11.95"/><circle cx="394.3" cy="1914" r="11.95"/><circle cx="422" cy="1923.2" r="11.95"/><circle cx="466.7" cy="1923.2" r="11.95"/><circle cx="240" cy="1786" r="11.95"/><circle cx="248" cy="1790" r="11.95"/><circle cx="256" cy="1795" r="11.95"/><circle cx="262" cy="1800" r="11.95"/><circle cx="278" cy="1812" r="11.95"/><circle cx="291" cy="1826" r="11.95"/><circle cx="310" cy="1848" r="11.95"/><circle cx="336" cy="1880" r="11.95"/><circle cx="350" cy="1895" r="11.95"/><circle cx="279.6" cy="1936.2" r="11.95"/><circle cx="291.2" cy="1962.4" r="11.95"/><circle cx="248.9" cy="2012.4" r="11.95"/><circle cx="332.8" cy="1932.3" r="11.95"/><circle cx="346.6" cy="1935.4" r="11.95"/><circle cx="354.3" cy="1944.7" r="11.95"/><circle cx="360.5" cy="1907.7" r="11.95"/><circle cx="368.2" cy="1901.6" r="11.95"/><circle cx="391.3" cy="1900" r="11.95"/><circle cx="392.8" cy="1910.8" r="11.95"/><circle cx="382" cy="1950.8" r="11.95"/><circle cx="378.9" cy="1966.2" r="11.95"/><circle cx="406.6" cy="1972.4" r="11.95"/><circle cx="412.8" cy="2000.1" r="11.95"/><circle cx="405.1" cy="1946.2" r="11.95"/><circle cx="422" cy="1924.6" r="11.95"/><circle cx="429.7" cy="1964.7" r="11.95"/><circle cx="440.5" cy="1935.4" r="11.95"/><circle cx="448.2" cy="1949.3" r="11.95"/><circle cx="452.8" cy="1990.8" r="11.95"/><circle cx="451.3" cy="2000.1" r="11.95"/><circle cx="471.3" cy="2018.5" r="11.95"/><circle cx="472.8" cy="2043.2" r="11.95"/><circle cx="465.1" cy="1975.4" r="11.95"/><circle cx="400" cy="1925" r="11.95"/><circle cx="415" cy="1930" r="11.95"/><circle cx="433" cy="1945" r="11.95"/><circle cx="458" cy="1960" r="11.95"/><circle cx="497.7" cy="1961.6" r="11.95"/><circle cx="520" cy="1957.7" r="11.95"/><circle cx="513.1" cy="1980.8" r="11.95"/><circle cx="491.6" cy="1980" r="11.95"/><circle cx="488.5" cy="1992.4" r="11.95"/><circle cx="477.7" cy="2015.4" r="11.95"/><circle cx="500.8" cy="2017" r="11.95"/><circle cx="516.2" cy="2006.2" r="11.95"/><circle cx="537.7" cy="2010.8" r="11.95"/><circle cx="527" cy="2020.1" r="11.95"/><circle cx="565.4" cy="2005.4" r="11.95"/><circle cx="559.3" cy="2027.8" r="11.95"/><circle cx="573.1" cy="2027.8" r="11.95"/><circle cx="534.7" cy="2037" r="11.95"/><circle cx="481.5" cy="2044.7" r="11.95"/><circle cx="505.4" cy="2055.5" r="11.95"/><circle cx="551.6" cy="2066.2" r="11.95"/><circle cx="553.1" cy="2075.5" r="11.95"/><circle cx="580.8" cy="2070.9" r="11.95"/><circle cx="607" cy="2060.1" r="11.95"/><circle cx="593.2" cy="2063.2" r="11.95"/><circle cx="620.9" cy="2075.5" r="11.95"/><circle cx="623.9" cy="2089.3" r="11.95"/><circle cx="633.2" cy="2094" r="11.95"/><circle cx="596.2" cy="2098.6" r="11.95"/><circle cx="613.2" cy="2101.6" r="11.95"/><circle cx="660.9" cy="2095.5" r="11.95"/><circle cx="642.4" cy="2103.2" r="11.95"/><circle cx="657.8" cy="2120.1" r="11.95"/><circle cx="590.1" cy="2124.7" r="11.95"/><circle cx="577.8" cy="2132.4" r="11.95"/><circle cx="602.4" cy="2146.3" r="11.95"/><circle cx="680.9" cy="2127.8" r="11.95"/><circle cx="668.6" cy="2138.6" r="11.95"/><circle cx="637.8" cy="2134" r="11.95"/><circle cx="628.6" cy="2164.8" r="11.95"/><circle cx="664" cy="2167.8" r="11.95"/><circle cx="708.6" cy="2150.9" r="11.95"/><circle cx="545" cy="2030" r="11.95"/><circle cx="585" cy="2045" r="11.95"/><circle cx="610" cy="2085" r="11.95"/><circle cx="646.2" cy="2183.1" r="11.95"/><circle cx="706.2" cy="2181.6" r="11.95"/><circle cx="733.9" cy="2183.1" r="11.95"/><circle cx="787" cy="2160.8" r="11.95"/><circle cx="684.7" cy="2198.5" r="11.95"/><circle cx="695.4" cy="2197" r="11.95"/><circle cx="649.3" cy="2203.1" r="11.95"/><circle cx="690.8" cy="2218.5" r="11.95"/><circle cx="673.9" cy="2237" r="11.95"/><circle cx="717" cy="2227.8" r="11.95"/><circle cx="723.2" cy="2233.9" r="11.95"/><circle cx="730.9" cy="2224.7" r="11.95"/><circle cx="746.2" cy="2230.8" r="11.95"/><circle cx="766.3" cy="2226.2" r="11.95"/><circle cx="753.9" cy="2247.8" r="11.95"/><circle cx="738.5" cy="2260.1" r="11.95"/><circle cx="753.9" cy="2267.8" r="11.95"/><circle cx="763.2" cy="2272.4" r="11.95"/><circle cx="783.2" cy="2247.8" r="11.95"/><circle cx="794" cy="2255.5" r="11.95"/><circle cx="798.6" cy="2266.2" r="11.95"/><circle cx="814" cy="2229.3" r="11.95"/><circle cx="817.1" cy="2238.5" r="11.95"/><circle cx="838.6" cy="2215.4" r="11.95"/><circle cx="840.1" cy="2237" r="11.95"/><circle cx="834" cy="2266.2" r="11.95"/><circle cx="846.3" cy="2224.7" r="11.95"/><circle cx="698.5" cy="2287.8" r="11.95"/><circle cx="703.1" cy="2309.3" r="11.95"/><circle cx="747.8" cy="2303.2" r="11.95"/><circle cx="770.9" cy="2315.5" r="11.95"/><circle cx="800.1" cy="2314" r="11.95"/><circle cx="783.2" cy="2301.6" r="11.95"/><circle cx="823.2" cy="2301.6" r="11.95"/><circle cx="844.8" cy="2304.7" r="11.95"/><circle cx="806.3" cy="2281.6" r="11.95"/><circle cx="777" cy="2286.3" r="11.95"/><circle cx="655" cy="2160" r="11.95"/><circle cx="676" cy="2180" r="11.95"/><circle cx="856.9" cy="2224.7" r="11.95"/><circle cx="884.6" cy="2230.9" r="11.95"/><circle cx="875.4" cy="2227.8" r="11.95"/><circle cx="863.1" cy="2247.8" r="11.95"/><circle cx="846.2" cy="2243.2" r="11.95"/><circle cx="843.1" cy="2264.7" r="11.95"/><circle cx="861.6" cy="2264.7" r="11.95"/><circle cx="886.2" cy="2269.3" r="11.95"/><circle cx="875.4" cy="2280.1" r="11.95"/><circle cx="852.3" cy="2290.9" r="11.95"/><circle cx="849.2" cy="2306.3" r="11.95"/><circle cx="900" cy="2324.8" r="11.95"/><circle cx="907.7" cy="2243.2" r="11.95"/><circle cx="903.1" cy="2254" r="11.95"/><circle cx="924.7" cy="2270.9" r="11.95"/><circle cx="921.6" cy="2221.6" r="11.95"/><circle cx="946.2" cy="2212.4" r="11.95"/><circle cx="949.3" cy="2241.6" r="11.95"/><circle cx="973.9" cy="2235.5" r="11.95"/><circle cx="913.9" cy="2187.8" r="11.95"/><circle cx="917" cy="2197" r="11.95"/><circle cx="929.3" cy="2190.8" r="11.95"/><circle cx="940.1" cy="2164.7" r="11.95"/><circle cx="935.4" cy="2173.9" r="11.95"/><circle cx="964.7" cy="2150.8" r="11.95"/><circle cx="960.1" cy="2187.8" r="11.95"/><circle cx="970.8" cy="2184.7" r="11.95"/><circle cx="981.6" cy="2140" r="11.95"/><circle cx="993.9" cy="2172.4" r="11.95"/><circle cx="1001.6" cy="2124.6" r="11.95"/><circle cx="1006.3" cy="2133.9" r="11.95"/><circle cx="1026.3" cy="2118.5" r="11.95"/><circle cx="1020.1" cy="2180.1" r="11.95"/><circle cx="1021.6" cy="2164.7" r="11.95"/><circle cx="1034" cy="2147.7" r="11.95"/><circle cx="1047.8" cy="2164.7" r="11.95"/><circle cx="1052.4" cy="2123.1" r="11.95"/><circle cx="1054" cy="2093.9" r="11.95"/><circle cx="1066.3" cy="2140" r="11.95"/><circle cx="1074" cy="2118.5" r="11.95"/><circle cx="1070.9" cy="2089.2" r="11.95"/><circle cx="1058.6" cy="2100" r="11.95"/><circle cx="1083" cy="2095" r="11.95"/><circle cx="1149.1" cy="1940.6" r="11.95"/><circle cx="1173.1" cy="1940.6" r="11.95"/><circle cx="1195.3" cy="1931.4" r="11.95"/><circle cx="1208.2" cy="1937" r="11.95"/><circle cx="1228.6" cy="1944.3" r="11.95"/><circle cx="1156.5" cy="1959.1" r="11.95"/><circle cx="1251.6" cy="1959.1" r="11.95"/><circle cx="1134.3" cy="1975.7" r="11.95"/><circle cx="1276.6" cy="1983.1" r="11.95"/><circle cx="1308" cy="2003.5" r="11.95"/><circle cx="1191.6" cy="2001.6" r="11.95"/><circle cx="1167.6" cy="2010.8" r="11.95"/><circle cx="1215.6" cy="2023.8" r="11.95"/><circle cx="1241.5" cy="2021.9" r="11.95"/><circle cx="1265.5" cy="2042.3" r="11.95"/><circle cx="1306.1" cy="2029.3" r="11.95"/><circle cx="1326.5" cy="2047.8" r="11.95"/><circle cx="1350.5" cy="2049.6" r="11.95"/><circle cx="1374.5" cy="2055.2" r="11.95"/><circle cx="1291.4" cy="2079.2" r="11.95"/><circle cx="1317.2" cy="2075.5" r="11.95"/><circle cx="1337.6" cy="2079.2" r="11.95"/><circle cx="1311.7" cy="2110.6" r="11.95"/><circle cx="1335.7" cy="2118" r="11.95"/><circle cx="1315.4" cy="2127.2" r="11.95"/><circle cx="1363.4" cy="2106.9" r="11.95"/><circle cx="1389.3" cy="2086.6" r="11.95"/><circle cx="1110.3" cy="2018.2" r="11.95"/><circle cx="1125.1" cy="2014.5" r="11.95"/><circle cx="1143.6" cy="2025.6" r="11.95"/><circle cx="1117.7" cy="2060.7" r="11.95"/><circle cx="1117.7" cy="2077.4" r="11.95"/><circle cx="1097.4" cy="2099.5" r="11.95"/><circle cx="1407.7" cy="2039.9" r="11.95"/><circle cx="1398.5" cy="2045.4" r="11.95"/><circle cx="1413.3" cy="2122.1" r="11.95"/><circle cx="1463.1" cy="2127.6" r="11.95"/><circle cx="1439.1" cy="2108.2" r="11.95"/><circle cx="1487.1" cy="2147" r="11.95"/><circle cx="1513" cy="2152.6" r="11.95"/><circle cx="1542.6" cy="2148.9" r="11.95"/><circle cx="1536.1" cy="2181.2" r="11.95"/><circle cx="1476.1" cy="2080.5" r="11.95"/><circle cx="1500.1" cy="2095.3" r="11.95"/><circle cx="1522.2" cy="2111.9" r="11.95"/><circle cx="1586" cy="2156.3" r="11.95"/><circle cx="1595.2" cy="2097.2" r="11.95"/><circle cx="1610.9" cy="2134.1" r="11.95"/><circle cx="1613.7" cy="2057.4" r="11.95"/><circle cx="1625.7" cy="2095.3" r="11.95"/><circle cx="1646" cy="2087.9" r="11.95"/><circle cx="1659.9" cy="2140.6" r="11.95"/><circle cx="1662.6" cy="2172" r="11.95"/><circle cx="1675.6" cy="2082.4" r="11.95"/><circle cx="1621.4" cy="2092.8" r="11.95"/><circle cx="1683.4" cy="2134.1" r="11.95"/><circle cx="1708.6" cy="2150.4" r="11.95"/><circle cx="1716" cy="2103.1" r="11.95"/><circle cx="1729.3" cy="2107.5" r="11.95"/><circle cx="1733.7" cy="2151.9" r="11.95"/><circle cx="1758.8" cy="2191" r="11.95"/><circle cx="1794.3" cy="2122.3" r="11.95"/><circle cx="1807.6" cy="2187.3" r="11.95"/><circle cx="1804.6" cy="2157.8" r="11.95"/><circle cx="1754.4" cy="2122.3" r="11.95"/><circle cx="1769.2" cy="2128.2" r="11.95"/><circle cx="1783.9" cy="2135.6" r="11.95"/></g>
<g clip-path="url(#clipc)">
<path d="M237.9,1788 L238.9,1787.9 L239.9,1787.8 L240.9,1787.7 L241.9,1787.7 L242.9,1787.7 L243.9,1787.7 L244.9,1787.8 L245.9,1787.9 L246.9,1788 L247.9,1788.1 L248.9,1788.3 L249.9,1788.5 L250.9,1788.7 L251.9,1789 L252.9,1789.3 L253.9,1789.6 L254.9,1790 L255.9,1790.4 L256.9,1790.8 L257.9,1791.2 L258.9,1791.7 L259.9,1792.2 L260.9,1792.7 L261.9,1793.3 L262.9,1793.9 L263.9,1794.5 L264.9,1795.1 L265.9,1795.8 L266.9,1796.5 L267.9,1797.2 L268.9,1797.9 L269.9,1798.7 L270.9,1799.5 L271.9,1800.4 L272.9,1801.2 L273.9,1802.1 L274.9,1803 L275.9,1803.9 L276.9,1804.9 L277.9,1805.9 L278.9,1806.9 L279.9,1807.9 L280.9,1809 L281.9,1810.1 L282.9,1811.2 L283.9,1812.3 L284.9,1813.5 L285.9,1814.6 L286.9,1815.8 L287.9,1817 L288.9,1818.3 L289.9,1819.5 L290.9,1820.8 L291.9,1822.1 L292.9,1823.4 L293.9,1824.7 L294.9,1826.1 L295.9,1827.4 L296.9,1828.8 L297.9,1830.2 L298.9,1831.6 L299.9,1833.1 L300.9,1834.5 L301.9,1835.9 L302.9,1837.4 L303.9,1838.9 L304.9,1840.4 L305.9,1841.9 L306.9,1843.4 L307.9,1844.9 L308.9,1846.4 L309.9,1847.9 L310.9,1849.4 L311.9,1851 L312.9,1852.5 L313.9,1854 L314.9,1855.6 L315.9,1857.1 L316.9,1858.6 L317.9,1860.2 L318.9,1861.7 L319.9,1863.2 L320.9,1864.7 L321.9,1866.2 L322.9,1867.7 L323.9,1869.2 L324.9,1870.7 L325.9,1872.2 L326.9,1873.6 L327.9,1875 L328.9,1876.5 L329.9,1877.9 L330.9,1879.3 L331.9,1880.7 L332.9,1882 L333.9,1883.3 L334.9,1884.7 L335.9,1886 L336.9,1887.2 L337.9,1888.5 L338.9,1889.7 L339.9,1890.9 L340.9,1892.1 L341.9,1893.2 L342.9,1894.4 L343.9,1895.5 L344.9,1896.5 L345.9,1897.6 L346.9,1898.6 L347.9,1899.6 L348.9,1900.5 L349.9,1901.5 L350.9,1902.4 L351.9,1903.3 L352.9,1904.1 L353.9,1904.9 L354.9,1905.7 L355.9,1906.5 L356.9,1907.3 L357.9,1908 L358.9,1908.7 L359.9,1909.4 L360.9,1910 L361.9,1910.7 L362.9,1911.3 L363.9,1911.9 L364.9,1912.4 L365.9,1913 L366.9,1913.5 L367.9,1914 L368.9,1914.5 L369.9,1915 L370.9,1915.5 L371.9,1915.9 L372.9,1916.4 L373.9,1916.8 L374.9,1917.2 L375.9,1917.6 L376.9,1918 L377.9,1918.4 L378.9,1918.8 L379.9,1919.2 L380.9,1919.5 L381.9,1919.9 L382.9,1920.3 L383.9,1920.6 L384.9,1921 L385.9,1921.4 L386.9,1921.7 L387.9,1922.1 L388.9,1922.4 L389.9,1922.8 L390.9,1923.2 L391.9,1923.5 L392.9,1923.9 L393.9,1924.3 L394.9,1924.7 L395.9,1925.1 L396.9,1925.5 L397.9,1925.9 L398.9,1926.3 L399.9,1926.7 L400.9,1927.1 L401.9,1927.6 L402.9,1928 L403.9,1928.5 L404.9,1929 L405.9,1929.4 L406.9,1929.9 L407.9,1930.4 L408.9,1930.9 L409.9,1931.5 L410.9,1932 L411.9,1932.5 L412.9,1933.1 L413.9,1933.7 L414.9,1934.2 L415.9,1934.8 L416.9,1935.4 L417.9,1936.1 L418.9,1936.7 L419.9,1937.3 L420.9,1938 L421.9,1938.7 L422.9,1939.3 L423.9,1940 L424.9,1940.7 L425.9,1941.5 L426.9,1942.2 L427.9,1942.9 L428.9,1943.7 L429.9,1944.5 L430.9,1945.2 L431.9,1946 L432.9,1946.8 L433.9,1947.6 L434.9,1948.4 L435.9,1949.3 L436.9,1950.1 L437.9,1951 L438.9,1951.8 L439.9,1952.7 L440.9,1953.6 L441.9,1954.5 L442.9,1955.4 L443.9,1956.3 L444.9,1957.2 L445.9,1958.1 L446.9,1959 L447.9,1959.9 L448.9,1960.9 L449.9,1961.8 L450.9,1962.8 L451.9,1963.7 L452.9,1964.7 L453.9,1965.6 L454.9,1966.6 L455.9,1967.6 L456.9,1968.5 L457.9,1969.5 L458.9,1970.5 L459.9,1971.5 L460.9,1972.4 L461.9,1973.4 L462.9,1974.4 L463.9,1975.3 L464.9,1976.3 L465.9,1977.3 L466.9,1978.2 L467.9,1979.2 L468.9,1980.2 L469.9,1981.1 L470.9,1982.1 L471.9,1983 L472.9,1983.9 L473.9,1984.9 L474.9,1985.8 L475.9,1986.7 L476.9,1987.6 L477.9,1988.5 L478.9,1989.4 L479.9,1990.3 L480.9,1991.2 L481.9,1992.1 L482.9,1992.9 L483.9,1993.8 L484.9,1994.6 L485.9,1995.4 L486.9,1996.3 L487.9,1997.1 L488.9,1997.9 L489.9,1998.7 L490.9,1999.4 L491.9,2000.2 L492.9,2001 L493.9,2001.7 L494.9,2002.4 L495.9,2003.1 L496.9,2003.9 L497.9,2004.6 L498.9,2005.2 L499.9,2005.9 L500.9,2006.6 L501.9,2007.2 L502.9,2007.9 L503.9,2008.5 L504.9,2009.1 L505.9,2009.7 L506.9,2010.3 L507.9,2010.9 L508.9,2011.5 L509.9,2012.1 L510.9,2012.7 L511.9,2013.2 L512.9,2013.8 L513.9,2014.3 L514.9,2014.9 L515.9,2015.4 L516.9,2015.9 L517.9,2016.4 L518.9,2017 L519.9,2017.5 L520.9,2018 L521.9,2018.5 L522.9,2019 L523.9,2019.5 L524.9,2020 L525.9,2020.5 L526.9,2021 L527.9,2021.5 L528.9,2022 L529.9,2022.4 L530.9,2022.9 L531.9,2023.4 L532.9,2023.9 L533.9,2024.4 L534.9,2024.9 L535.9,2025.5 L536.9,2026 L537.9,2026.5 L538.9,2027 L539.9,2027.5 L540.9,2028.1 L541.9,2028.6 L542.9,2029.2 L543.9,2029.7 L544.9,2030.3 L545.9,2030.8 L546.9,2031.4 L547.9,2032 L548.9,2032.6 L549.9,2033.2 L550.9,2033.8 L551.9,2034.4 L552.9,2035.1 L553.9,2035.7 L554.9,2036.4 L555.9,2037 L556.9,2037.7 L557.9,2038.4 L558.9,2039.1 L559.9,2039.8 L560.9,2040.6 L561.9,2041.3 L562.9,2042.1 L563.9,2042.8 L564.9,2043.6 L565.9,2044.4 L566.9,2045.2 L567.9,2046.1 L568.9,2046.9 L569.9,2047.8 L570.9,2048.6 L571.9,2049.5 L572.9,2050.4 L573.9,2051.3 L574.9,2052.3 L575.9,2053.2 L576.9,2054.2 L577.9,2055.2 L578.9,2056.2 L579.9,2057.2 L580.9,2058.2 L581.9,2059.2 L582.9,2060.3 L583.9,2061.4 L584.9,2062.5 L585.9,2063.6 L586.9,2064.7 L587.9,2065.9 L588.9,2067 L589.9,2068.2 L590.9,2069.4 L591.9,2070.6 L592.9,2071.8 L593.9,2073.1 L594.9,2074.3 L595.9,2075.6 L596.9,2076.9 L597.9,2078.2 L598.9,2079.6 L599.9,2080.9 L600.9,2082.3 L601.9,2083.7 L602.9,2085.1 L603.9,2086.5 L604.9,2087.9 L605.9,2089.4 L606.9,2090.8 L607.9,2092.3 L608.9,2093.8 L609.9,2095.3 L610.9,2096.8 L611.9,2098.4 L612.9,2099.9 L613.9,2101.5 L614.9,2103.1 L615.9,2104.7 L616.9,2106.3 L617.9,2108 L618.9,2109.6 L619.9,2111.3 L620.9,2113 L621.9,2114.7 L622.9,2116.4 L623.9,2118.1 L624.9,2119.8 L625.9,2121.6 L626.9,2123.3 L627.9,2125.1 L628.9,2126.9 L629.9,2128.7 L630.9,2130.5 L631.9,2132.3 L632.9,2134.2 L633.9,2136 L634.9,2137.9 L635.9,2139.7 L636.9,2141.6 L637.9,2143.5 L638.9,2145.4 L639.9,2147.3 L640.9,2149.2 L641.9,2151.1 L642.9,2153.1 L643.9,2155 L644.9,2156.9 L645.9,2158.9 L646.9,2160.9 L647.9,2162.8 L648.9,2164.8 L649.9,2166.7 L650.9,2168.7 L651.9,2170.7 L652.9,2172.7 L653.9,2174.6 L654.9,2176.6 L655.9,2178.6 L656.9,2180.6 L657.9,2182.6 L658.9,2184.5 L659.9,2186.5 L660.9,2188.5 L661.9,2190.4 L662.9,2192.4 L663.9,2194.4 L664.9,2196.3 L665.9,2198.3 L666.9,2200.2 L667.9,2202.1 L668.9,2204.1 L669.9,2206 L670.9,2207.9 L671.9,2209.8 L672.9,2211.7 L673.9,2213.5 L674.9,2215.4 L675.9,2217.2 L676.9,2219 L677.9,2220.9 L678.9,2222.7 L679.9,2224.4 L680.9,2226.2 L681.9,2227.9 L682.9,2229.6 L683.9,2231.3 L684.9,2233 L685.9,2234.7 L686.9,2236.3 L687.9,2237.9 L688.9,2239.5 L689.9,2241.1 L690.9,2242.6 L691.9,2244.2 L692.9,2245.7 L693.9,2247.1 L694.9,2248.6 L695.9,2250 L696.9,2251.4 L697.9,2252.7 L698.9,2254.1 L699.9,2255.4 L700.9,2256.6 L701.9,2257.9 L702.9,2259.1 L703.9,2260.3 L704.9,2261.5 L705.9,2262.6 L706.9,2263.7 L707.9,2264.8 L708.9,2265.8 L709.9,2266.9 L710.9,2267.9 L711.9,2268.8 L712.9,2269.8 L713.9,2270.7 L714.9,2271.5 L715.9,2272.4 L716.9,2273.2 L717.9,2274 L718.9,2274.8 L719.9,2275.6 L720.9,2276.3 L721.9,2277 L722.9,2277.7 L723.9,2278.3 L724.9,2278.9 L725.9,2279.5 L726.9,2280.1 L727.9,2280.7 L728.9,2281.2 L729.9,2281.8 L730.9,2282.3 L731.9,2282.7 L732.9,2283.2 L733.9,2283.6 L734.9,2284.1 L735.9,2284.5 L736.9,2284.9 L737.9,2285.2 L738.9,2285.6 L739.9,2285.9 L740.9,2286.3 L741.9,2286.6 L742.9,2286.9 L743.9,2287.1 L744.9,2287.4 L745.9,2287.7 L746.9,2287.9 L747.9,2288.2 L748.9,2288.4 L749.9,2288.6 L750.9,2288.8 L751.9,2289 L752.9,2289.2 L753.9,2289.3 L754.9,2289.5 L755.9,2289.6 L756.9,2289.8 L757.9,2289.9 L758.9,2290.1 L759.9,2290.2 L760.9,2290.3 L761.9,2290.4 L762.9,2290.5 L763.9,2290.6 L764.9,2290.7 L765.9,2290.8 L766.9,2290.9 L767.9,2290.9 L768.9,2291 L769.9,2291.1 L770.9,2291.1 L771.9,2291.2 L772.9,2291.2 L773.9,2291.2 L774.9,2291.3 L775.9,2291.3 L776.9,2291.3 L777.9,2291.4 L778.9,2291.4 L779.9,2291.4 L780.9,2291.4 L781.9,2291.4 L782.9,2291.4 L783.9,2291.4 L784.9,2291.4 L785.9,2291.4 L786.9,2291.4 L787.9,2291.4 L788.9,2291.4 L789.9,2291.4 L790.9,2291.3 L791.9,2291.3 L792.9,2291.3 L793.9,2291.2 L794.9,2291.2 L795.9,2291.2 L796.9,2291.1 L797.9,2291.1 L798.9,2291 L799.9,2290.9 L800.9,2290.9 L801.9,2290.8 L802.9,2290.7 L803.9,2290.6 L804.9,2290.6 L805.9,2290.5 L806.9,2290.4 L807.9,2290.3 L808.9,2290.2 L809.9,2290.1 L810.9,2289.9 L811.9,2289.8 L812.9,2289.7 L813.9,2289.5 L814.9,2289.4 L815.9,2289.3 L816.9,2289.1 L817.9,2288.9 L818.9,2288.8 L819.9,2288.6 L820.9,2288.4 L821.9,2288.2 L822.9,2288 L823.9,2287.8 L824.9,2287.5 L825.9,2287.3 L826.9,2287.1 L827.9,2286.8 L828.9,2286.6 L829.9,2286.3 L830.9,2286 L831.9,2285.7 L832.9,2285.4 L833.9,2285.1 L834.9,2284.8 L835.9,2284.4 L836.9,2284.1 L837.9,2283.7 L838.9,2283.3 L839.9,2282.9 L840.9,2282.5 L841.9,2282.1 L842.9,2281.7 L843.9,2281.2 L844.9,2280.8 L845.9,2280.3 L846.9,2279.8 L847.9,2279.3 L848.9,2278.8 L849.9,2278.3 L850.9,2277.7 L851.9,2277.1 L852.9,2276.6 L853.9,2276 L854.9,2275.4 L855.9,2274.7 L856.9,2274.1 L857.9,2273.4 L858.9,2272.8 L859.9,2272.1 L860.9,2271.4 L861.9,2270.6 L862.9,2269.9 L863.9,2269.1 L864.9,2268.4 L865.9,2267.6 L866.9,2266.8 L867.9,2265.9 L868.9,2265.1 L869.9,2264.2 L870.9,2263.4 L871.9,2262.5 L872.9,2261.6 L873.9,2260.7 L874.9,2259.7 L875.9,2258.8 L876.9,2257.8 L877.9,2256.9 L878.9,2255.9 L879.9,2254.9 L880.9,2253.8 L881.9,2252.8 L882.9,2251.8 L883.9,2250.7 L884.9,2249.7 L885.9,2248.6 L886.9,2247.5 L887.9,2246.4 L888.9,2245.3 L889.9,2244.2 L890.9,2243 L891.9,2241.9 L892.9,2240.8 L893.9,2239.6 L894.9,2238.4 L895.9,2237.3 L896.9,2236.1 L897.9,2234.9 L898.9,2233.7 L899.9,2232.5 L900.9,2231.3 L901.9,2230.1 L902.9,2228.9 L903.9,2227.7 L904.9,2226.5 L905.9,2225.3 L906.9,2224.1 L907.9,2222.9 L908.9,2221.7 L909.9,2220.4 L910.9,2219.2 L911.9,2218 L912.9,2216.8 L913.9,2215.6 L914.9,2214.4 L915.9,2213.1 L916.9,2211.9 L917.9,2210.7 L918.9,2209.5 L919.9,2208.3 L920.9,2207.1 L921.9,2205.9 L922.9,2204.8 L923.9,2203.6 L924.9,2202.4 L925.9,2201.3 L926.9,2200.1 L927.9,2198.9 L928.9,2197.8 L929.9,2196.7 L930.9,2195.5 L931.9,2194.4 L932.9,2193.3 L933.9,2192.2 L934.9,2191.1 L935.9,2190 L936.9,2189 L937.9,2187.9 L938.9,2186.8 L939.9,2185.8 L940.9,2184.8 L941.9,2183.8 L942.9,2182.8 L943.9,2181.8 L944.9,2180.8 L945.9,2179.8 L946.9,2178.9 L947.9,2177.9 L948.9,2177 L949.9,2176.1 L950.9,2175.2 L951.9,2174.3 L952.9,2173.4 L953.9,2172.5 L954.9,2171.7 L955.9,2170.8 L956.9,2170 L957.9,2169.2 L958.9,2168.4 L959.9,2167.6 L960.9,2166.9 L961.9,2166.1 L962.9,2165.4 L963.9,2164.7 L964.9,2164 L965.9,2163.3 L966.9,2162.6 L967.9,2161.9 L968.9,2161.3 L969.9,2160.7 L970.9,2160 L971.9,2159.4 L972.9,2158.8 L973.9,2158.3 L974.9,2157.7 L975.9,2157.2 L976.9,2156.7 L977.9,2156.1 L978.9,2155.6 L979.9,2155.2 L980.9,2154.7 L981.9,2154.2 L982.9,2153.8 L983.9,2153.4 L984.9,2153 L985.9,2152.6 L986.9,2152.2 L987.9,2151.8 L988.9,2151.5 L989.9,2151.1 L990.9,2150.8 L991.9,2150.5 L992.9,2150.2 L993.9,2149.9 L994.9,2149.6 L995.9,2149.3 L996.9,2149 L997.9,2148.8 L998.9,2148.6 L999.9,2148.3 L1000.9,2148.1 L1001.9,2147.9 L1002.9,2147.7 L1003.9,2147.5 L1004.9,2147.3 L1005.9,2147.1 L1006.9,2146.9 L1007.9,2146.8 L1008.9,2146.6 L1009.9,2146.4 L1010.9,2146.3 L1011.9,2146.1 L1012.9,2146 L1013.9,2145.8 L1014.9,2145.6 L1015.9,2145.5 L1016.9,2145.3 L1017.9,2145.2 L1018.9,2145 L1019.9,2144.9 L1020.9,2144.7 L1021.9,2144.5 L1022.9,2144.3 L1023.9,2144.1 L1024.9,2144 L1025.9,2143.7 L1026.9,2143.5 L1027.9,2143.3 L1028.9,2143.1 L1029.9,2142.8 L1030.9,2142.5 L1031.9,2142.2 L1032.9,2141.9 L1033.9,2141.6 L1034.9,2141.3 L1035.9,2140.9 L1036.9,2140.5 L1037.9,2140.1 L1038.9,2139.7 L1039.9,2139.3 L1040.9,2138.8 L1041.9,2138.3 L1042.9,2137.7 L1043.9,2137.2 L1044.9,2136.6 L1045.9,2136 L1046.9,2135.3 L1047.9,2134.6 L1048.9,2133.9 L1049.9,2133.2 L1050.9,2132.4 L1051.9,2131.6 L1052.9,2130.8 L1053.9,2129.9 L1054.9,2129 L1055.9,2128 L1056.9,2127 L1057.9,2126 L1058.9,2125 L1059.9,2123.9 L1060.9,2122.8 L1061.9,2121.6 L1062.9,2120.4 L1063.9,2119.2 L1064.9,2118 L1065.9,2116.7 L1066.9,2115.4 L1067.9,2114 L1068.9,2112.6 L1069.9,2111.2 L1070.9,2109.8 L1071.9,2108.3 L1072.9,2106.9 L1073.9,2105.3 L1074.9,2103.8 L1075.9,2102.2 L1076.9,2100.7 L1077.9,2099.1 L1078.9,2097.4 L1079.9,2095.8 L1080.9,2094.1 L1081.9,2092.5 L1082.9,2090.8 L1083.9,2089.1 L1084.9,2087.3 L1085.9,2085.6 L1086.9,2083.9 L1087.9,2082.1 L1088.9,2080.3 L1089.9,2078.6 L1090.9,2076.8 L1091.9,2075 L1092.9,2073.2 L1093.9,2071.4 L1094.9,2069.6 L1095.9,2067.8 L1096.9,2066 L1097.9,2064.2 L1098.9,2062.4 L1099.9,2060.6 L1100.9,2058.8 L1101.9,2057.1 L1102.9,2055.3 L1103.9,2053.5 L1104.9,2051.7 L1105.9,2050 L1106.9,2048.2 L1107.9,2046.4 L1108.9,2044.7 L1109.9,2043 L1110.9,2041.3 L1111.9,2039.5 L1112.9,2037.8 L1113.9,2036.2 L1114.9,2034.5 L1115.9,2032.8 L1116.9,2031.2 L1117.9,2029.5 L1118.9,2027.9 L1119.9,2026.3 L1120.9,2024.7 L1121.9,2023.1 L1122.9,2021.6 L1123.9,2020 L1124.9,2018.5 L1125.9,2017 L1126.9,2015.5 L1127.9,2014 L1128.9,2012.5 L1129.9,2011.1 L1130.9,2009.7 L1131.9,2008.2 L1132.9,2006.9 L1133.9,2005.5 L1134.9,2004.1 L1135.9,2002.8 L1136.9,2001.5 L1137.9,2000.2 L1138.9,1998.9 L1139.9,1997.7 L1140.9,1996.4 L1141.9,1995.2 L1142.9,1994 L1143.9,1992.9 L1144.9,1991.7 L1145.9,1990.6 L1146.9,1989.5 L1147.9,1988.4 L1148.9,1987.3 L1149.9,1986.3 L1150.9,1985.3 L1151.9,1984.3 L1152.9,1983.3 L1153.9,1982.3 L1154.9,1981.4 L1155.9,1980.5 L1156.9,1979.6 L1157.9,1978.7 L1158.9,1977.9 L1159.9,1977 L1160.9,1976.2 L1161.9,1975.4 L1162.9,1974.7 L1163.9,1973.9 L1164.9,1973.2 L1165.9,1972.5 L1166.9,1971.9 L1167.9,1971.2 L1168.9,1970.6 L1169.9,1970 L1170.9,1969.4 L1171.9,1968.8 L1172.9,1968.3 L1173.9,1967.8 L1174.9,1967.3 L1175.9,1966.8 L1176.9,1966.4 L1177.9,1966 L1178.9,1965.5 L1179.9,1965.2 L1180.9,1964.8 L1181.9,1964.5 L1182.9,1964.2 L1183.9,1963.9 L1184.9,1963.6 L1185.9,1963.4 L1186.9,1963.1 L1187.9,1962.9 L1188.9,1962.8 L1189.9,1962.6 L1190.9,1962.5 L1191.9,1962.4 L1192.9,1962.3 L1193.9,1962.2 L1194.9,1962.2 L1195.9,1962.1 L1196.9,1962.1 L1197.9,1962.1 L1198.9,1962.2 L1199.9,1962.3 L1200.9,1962.3 L1201.9,1962.4 L1202.9,1962.6 L1203.9,1962.7 L1204.9,1962.9 L1205.9,1963.1 L1206.9,1963.3 L1207.9,1963.5 L1208.9,1963.8 L1209.9,1964.1 L1210.9,1964.4 L1211.9,1964.7 L1212.9,1965.1 L1213.9,1965.4 L1214.9,1965.8 L1215.9,1966.2 L1216.9,1966.6 L1217.9,1967.1 L1218.9,1967.5 L1219.9,1968 L1220.9,1968.5 L1221.9,1969.1 L1222.9,1969.6 L1223.9,1970.2 L1224.9,1970.8 L1225.9,1971.4 L1226.9,1972 L1227.9,1972.6 L1228.9,1973.3 L1229.9,1974 L1230.9,1974.7 L1231.9,1975.4 L1232.9,1976.1 L1233.9,1976.9 L1234.9,1977.6 L1235.9,1978.4 L1236.9,1979.2 L1237.9,1980 L1238.9,1980.9 L1239.9,1981.7 L1240.9,1982.6 L1241.9,1983.5 L1242.9,1984.4 L1243.9,1985.3 L1244.9,1986.2 L1245.9,1987.2 L1246.9,1988.1 L1247.9,1989.1 L1248.9,1990.1 L1249.9,1991.1 L1250.9,1992.1 L1251.9,1993.1 L1252.9,1994.1 L1253.9,1995.2 L1254.9,1996.2 L1255.9,1997.3 L1256.9,1998.4 L1257.9,1999.5 L1258.9,2000.6 L1259.9,2001.7 L1260.9,2002.8 L1261.9,2003.9 L1262.9,2005 L1263.9,2006.2 L1264.9,2007.3 L1265.9,2008.5 L1266.9,2009.6 L1267.9,2010.8 L1268.9,2011.9 L1269.9,2013.1 L1270.9,2014.3 L1271.9,2015.5 L1272.9,2016.6 L1273.9,2017.8 L1274.9,2019 L1275.9,2020.1 L1276.9,2021.3 L1277.9,2022.5 L1278.9,2023.6 L1279.9,2024.8 L1280.9,2026 L1281.9,2027.1 L1282.9,2028.3 L1283.9,2029.4 L1284.9,2030.5 L1285.9,2031.7 L1286.9,2032.8 L1287.9,2033.9 L1288.9,2035 L1289.9,2036.1 L1290.9,2037.2 L1291.9,2038.2 L1292.9,2039.3 L1293.9,2040.3 L1294.9,2041.4 L1295.9,2042.4 L1296.9,2043.4 L1297.9,2044.4 L1298.9,2045.3 L1299.9,2046.3 L1300.9,2047.2 L1301.9,2048.1 L1302.9,2049 L1303.9,2049.9 L1304.9,2050.8 L1305.9,2051.6 L1306.9,2052.4 L1307.9,2053.2 L1308.9,2054 L1309.9,2054.8 L1310.9,2055.5 L1311.9,2056.3 L1312.9,2056.9 L1313.9,2057.6 L1314.9,2058.3 L1315.9,2058.9 L1316.9,2059.5 L1317.9,2060.1 L1318.9,2060.7 L1319.9,2061.2 L1320.9,2061.8 L1321.9,2062.3 L1322.9,2062.8 L1323.9,2063.2 L1324.9,2063.7 L1325.9,2064.1 L1326.9,2064.5 L1327.9,2064.9 L1328.9,2065.2 L1329.9,2065.6 L1330.9,2065.9 L1331.9,2066.2 L1332.9,2066.5 L1333.9,2066.8 L1334.9,2067.1 L1335.9,2067.3 L1336.9,2067.5 L1337.9,2067.7 L1338.9,2067.9 L1339.9,2068.1 L1340.9,2068.3 L1341.9,2068.4 L1342.9,2068.6 L1343.9,2068.7 L1344.9,2068.9 L1345.9,2069 L1346.9,2069.1 L1347.9,2069.2 L1348.9,2069.2 L1349.9,2069.3 L1350.9,2069.4 L1351.9,2069.4 L1352.9,2069.5 L1353.9,2069.5 L1354.9,2069.6 L1355.9,2069.6 L1356.9,2069.7 L1357.9,2069.7 L1358.9,2069.7 L1359.9,2069.7 L1360.9,2069.7 L1361.9,2069.8 L1362.9,2069.8 L1363.9,2069.8 L1364.9,2069.8 L1365.9,2069.8 L1366.9,2069.8 L1367.9,2069.8 L1368.9,2069.8 L1369.9,2069.9 L1370.9,2069.9 L1371.9,2069.9 L1372.9,2069.9 L1373.9,2069.9 L1374.9,2069.9 L1375.9,2070 L1376.9,2070 L1377.9,2070 L1378.9,2070.1 L1379.9,2070.1 L1380.9,2070.2 L1381.9,2070.2 L1382.9,2070.3 L1383.9,2070.3 L1384.9,2070.4 L1385.9,2070.5 L1386.9,2070.5 L1387.9,2070.6 L1388.9,2070.7 L1389.9,2070.8 L1390.9,2070.9 L1391.9,2071 L1392.9,2071.1 L1393.9,2071.2 L1394.9,2071.4 L1395.9,2071.5 L1396.9,2071.6 L1397.9,2071.8 L1398.9,2071.9 L1399.9,2072.1 L1400.9,2072.3 L1401.9,2072.5 L1402.9,2072.6 L1403.9,2072.8 L1404.9,2073 L1405.9,2073.2 L1406.9,2073.5 L1407.9,2073.7 L1408.9,2073.9 L1409.9,2074.2 L1410.9,2074.4 L1411.9,2074.7 L1412.9,2074.9 L1413.9,2075.2 L1414.9,2075.5 L1415.9,2075.8 L1416.9,2076.1 L1417.9,2076.4 L1418.9,2076.7 L1419.9,2077 L1420.9,2077.3 L1421.9,2077.7 L1422.9,2078 L1423.9,2078.4 L1424.9,2078.7 L1425.9,2079.1 L1426.9,2079.5 L1427.9,2079.9 L1428.9,2080.2 L1429.9,2080.6 L1430.9,2081.1 L1431.9,2081.5 L1432.9,2081.9 L1433.9,2082.3 L1434.9,2082.8 L1435.9,2083.2 L1436.9,2083.6 L1437.9,2084.1 L1438.9,2084.6 L1439.9,2085 L1440.9,2085.5 L1441.9,2086 L1442.9,2086.5 L1443.9,2087 L1444.9,2087.5 L1445.9,2088 L1446.9,2088.5 L1447.9,2089 L1448.9,2089.6 L1449.9,2090.1 L1450.9,2090.6 L1451.9,2091.2 L1452.9,2091.7 L1453.9,2092.3 L1454.9,2092.9 L1455.9,2093.4 L1456.9,2094 L1457.9,2094.6 L1458.9,2095.1 L1459.9,2095.7 L1460.9,2096.3 L1461.9,2096.9 L1462.9,2097.5 L1463.9,2098.1 L1464.9,2098.7 L1465.9,2099.3 L1466.9,2099.9 L1467.9,2100.5 L1468.9,2101.1 L1469.9,2101.7 L1470.9,2102.3 L1471.9,2103 L1472.9,2103.6 L1473.9,2104.2 L1474.9,2104.8 L1475.9,2105.4 L1476.9,2106 L1477.9,2106.7 L1478.9,2107.3 L1479.9,2107.9 L1480.9,2108.5 L1481.9,2109.1 L1482.9,2109.7 L1483.9,2110.4 L1484.9,2111 L1485.9,2111.6 L1486.9,2112.2 L1487.9,2112.8 L1488.9,2113.4 L1489.9,2114 L1490.9,2114.6 L1491.9,2115.2 L1492.9,2115.7 L1493.9,2116.3 L1494.9,2116.9 L1495.9,2117.5 L1496.9,2118 L1497.9,2118.6 L1498.9,2119.1 L1499.9,2119.7 L1500.9,2120.2 L1501.9,2120.7 L1502.9,2121.3 L1503.9,2121.8 L1504.9,2122.3 L1505.9,2122.8 L1506.9,2123.3 L1507.9,2123.7 L1508.9,2124.2 L1509.9,2124.7 L1510.9,2125.1 L1511.9,2125.5 L1512.9,2126 L1513.9,2126.4 L1514.9,2126.8 L1515.9,2127.2 L1516.9,2127.6 L1517.9,2127.9 L1518.9,2128.3 L1519.9,2128.6 L1520.9,2129 L1521.9,2129.3 L1522.9,2129.6 L1523.9,2129.9 L1524.9,2130.2 L1525.9,2130.4 L1526.9,2130.7 L1527.9,2130.9 L1528.9,2131.2 L1529.9,2131.4 L1530.9,2131.6 L1531.9,2131.8 L1532.9,2131.9 L1533.9,2132.1 L1534.9,2132.2 L1535.9,2132.4 L1536.9,2132.5 L1537.9,2132.6 L1538.9,2132.7 L1539.9,2132.8 L1540.9,2132.8 L1541.9,2132.9 L1542.9,2132.9 L1543.9,2132.9 L1544.9,2132.9 L1545.9,2132.9 L1546.9,2132.9 L1547.9,2132.9 L1548.9,2132.8 L1549.9,2132.7 L1550.9,2132.7 L1551.9,2132.6 L1552.9,2132.5 L1553.9,2132.4 L1554.9,2132.3 L1555.9,2132.1 L1556.9,2132 L1557.9,2131.8 L1558.9,2131.7 L1559.9,2131.5 L1560.9,2131.3 L1561.9,2131.1 L1562.9,2130.9 L1563.9,2130.7 L1564.9,2130.5 L1565.9,2130.2 L1566.9,2130 L1567.9,2129.7 L1568.9,2129.5 L1569.9,2129.2 L1570.9,2128.9 L1571.9,2128.6 L1572.9,2128.4 L1573.9,2128.1 L1574.9,2127.8 L1575.9,2127.5 L1576.9,2127.1 L1577.9,2126.8 L1578.9,2126.5 L1579.9,2126.2 L1580.9,2125.8 L1581.9,2125.5 L1582.9,2125.2 L1583.9,2124.8 L1584.9,2124.5 L1585.9,2124.1 L1586.9,2123.8 L1587.9,2123.4 L1588.9,2123.1 L1589.9,2122.7 L1590.9,2122.3 L1591.9,2122 L1592.9,2121.6 L1593.9,2121.3 L1594.9,2120.9 L1595.9,2120.5 L1596.9,2120.2 L1597.9,2119.8 L1598.9,2119.4 L1599.9,2119.1 L1600.9,2118.7 L1601.9,2118.4 L1602.9,2118 L1603.9,2117.7 L1604.9,2117.3 L1605.9,2117 L1606.9,2116.6 L1607.9,2116.3 L1608.9,2115.9 L1609.9,2115.6 L1610.9,2115.2 L1611.9,2114.9 L1612.9,2114.6 L1613.9,2114.3 L1614.9,2113.9 L1615.9,2113.6 L1616.9,2113.3 L1617.9,2113 L1618.9,2112.7 L1619.9,2112.4 L1620.9,2112.1 L1621.9,2111.8 L1622.9,2111.5 L1623.9,2111.2 L1624.9,2111 L1625.9,2110.7 L1626.9,2110.4 L1627.9,2110.2 L1628.9,2109.9 L1629.9,2109.7 L1630.9,2109.4 L1631.9,2109.2 L1632.9,2109 L1633.9,2108.7 L1634.9,2108.5 L1635.9,2108.3 L1636.9,2108.1 L1637.9,2107.9 L1638.9,2107.7 L1639.9,2107.6 L1640.9,2107.4 L1641.9,2107.2 L1642.9,2107.1 L1643.9,2106.9 L1644.9,2106.8 L1645.9,2106.6 L1646.9,2106.5 L1647.9,2106.4 L1648.9,2106.3 L1649.9,2106.2 L1650.9,2106.1 L1651.9,2106 L1652.9,2105.9 L1653.9,2105.8 L1654.9,2105.7 L1655.9,2105.7 L1656.9,2105.6 L1657.9,2105.6 L1658.9,2105.6 L1659.9,2105.5 L1660.9,2105.5 L1661.9,2105.5 L1662.9,2105.5 L1663.9,2105.5 L1664.9,2105.5 L1665.9,2105.5 L1666.9,2105.6 L1667.9,2105.6 L1668.9,2105.6 L1669.9,2105.7 L1670.9,2105.8 L1671.9,2105.8 L1672.9,2105.9 L1673.9,2106 L1674.9,2106.1 L1675.9,2106.2 L1676.9,2106.3 L1677.9,2106.5 L1678.9,2106.6 L1679.9,2106.7 L1680.9,2106.9 L1681.9,2107 L1682.9,2107.2 L1683.9,2107.4 L1684.9,2107.6 L1685.9,2107.8 L1686.9,2108 L1687.9,2108.2 L1688.9,2108.4 L1689.9,2108.6 L1690.9,2108.9 L1691.9,2109.1 L1692.9,2109.4 L1693.9,2109.6 L1694.9,2109.9 L1695.9,2110.2 L1696.9,2110.5 L1697.9,2110.8 L1698.9,2111.1 L1699.9,2111.4 L1700.9,2111.7 L1701.9,2112.1 L1702.9,2112.4 L1703.9,2112.8 L1704.9,2113.1 L1705.9,2113.5 L1706.9,2113.9 L1707.9,2114.3 L1708.9,2114.7 L1709.9,2115.1 L1710.9,2115.5 L1711.9,2115.9 L1712.9,2116.3 L1713.9,2116.8 L1714.9,2117.2 L1715.9,2117.7 L1716.9,2118.1 L1717.9,2118.6 L1718.9,2119.1 L1719.9,2119.6 L1720.9,2120.1 L1721.9,2120.6 L1722.9,2121.1 L1723.9,2121.6 L1724.9,2122.2 L1725.9,2122.7 L1726.9,2123.2 L1727.9,2123.8 L1728.9,2124.4 L1729.9,2124.9 L1730.9,2125.5 L1731.9,2126.1 L1732.9,2126.7 L1733.9,2127.3 L1734.9,2127.9 L1735.9,2128.6 L1736.9,2129.2 L1737.9,2129.8 L1738.9,2130.5 L1739.9,2131.1 L1740.9,2131.8 L1741.9,2132.5 L1742.9,2133.1 L1743.9,2133.8 L1744.9,2134.5 L1745.9,2135.2 L1746.9,2135.9 L1747.9,2136.6 L1748.9,2137.4 L1749.9,2138.1 L1750.9,2138.8 L1751.9,2139.6 L1752.9,2140.3 L1753.9,2141.1 L1754.9,2141.9 L1755.9,2142.6 L1756.9,2143.4 L1757.9,2144.2 L1758.9,2145 L1759.9,2145.8 L1760.9,2146.6 L1761.9,2147.4 L1762.9,2148.3 L1763.9,2149.1 L1764.9,2149.9 L1765.9,2150.8 L1766.9,2151.6 L1767.9,2152.5 L1768.9,2153.3 L1769.9,2154.2 L1770.9,2155.1 L1771.9,2156 L1772.9,2156.8 L1773.9,2157.7 L1774.9,2158.6 L1775.9,2159.5 L1776.9,2160.4 L1777.9,2161.4 L1778.9,2162.3 L1779.9,2163.2 L1780.9,2164.1 L1781.9,2165.1 L1782.9,2166 L1783.9,2167 L1784.9,2167.9 L1785.9,2168.9 L1786.9,2169.8 L1787.9,2170.8 L1788.9,2171.8 L1789.9,2172.7 L1790.9,2173.7 L1791.9,2174.7 L1792.9,2175.7 L1793.9,2176.7 L1794.9,2177.7 L1795.9,2178.7 L1796.9,2179.7 L1797.9,2180.7 L1798.9,2181.7 L1799.9,2182.7 L1800.9,2183.7 L1801.9,2184.7 L1802.9,2185.7 L1803.9,2186.7 L1804.9,2187.8 L1805.9,2188.8 L1806.9,2189.8 L1808,2190.9" fill="none" stroke="#f00" stroke-width="10" stroke-linejoin="round"/>
<path d="M237.9,1789 L238.9,1788.9 L239.9,1788.8 L240.9,1788.8 L241.9,1788.8 L242.9,1788.8 L243.9,1788.9 L244.9,1789 L245.9,1789.1 L246.9,1789.2 L247.9,1789.4 L248.9,1789.7 L249.9,1789.9 L250.9,1790.2 L251.9,1790.5 L252.9,1790.9 L253.9,1791.2 L254.9,1791.7 L255.9,1792.1 L256.9,1792.6 L257.9,1793.1 L258.9,1793.6 L259.9,1794.2 L260.9,1794.8 L261.9,1795.4 L262.9,1796.1 L263.9,1796.8 L264.9,1797.5 L265.9,1798.3 L266.9,1799.1 L267.9,1799.9 L268.9,1800.8 L269.9,1801.7 L270.9,1802.6 L271.9,1803.6 L272.9,1804.6 L273.9,1805.6 L274.9,1806.6 L275.9,1807.7 L276.9,1808.8 L277.9,1810 L278.9,1811.1 L279.9,1812.4 L280.9,1813.6 L281.9,1814.9 L282.9,1816.2 L283.9,1817.5 L284.9,1818.9 L285.9,1820.3 L286.9,1821.7 L287.9,1823.2 L288.9,1824.7 L289.9,1826.2 L290.9,1827.8 L291.9,1829.4 L292.9,1831 L293.9,1832.7 L294.9,1834.4 L295.9,1836.1 L296.9,1837.8 L297.9,1839.6 L298.9,1841.4 L299.9,1843.3 L300.9,1845.2 L301.9,1847.1 L302.9,1849 L303.9,1851 L304.9,1853 L305.9,1855.1 L306.9,1857.1 L307.9,1859.2 L308.9,1861.4 L309.9,1863.5 L310.9,1865.7 L311.9,1868 L312.9,1870.2 L313.9,1872.5 L314.9,1874.9 L315.9,1877.2 L316.9,1879.6 L317.9,1882 L318.9,1884.5 L319.9,1887 L320.9,1889.5 L321.9,1892.1 L322.9,1894.6 L323.9,1897.3 L324.9,1899.9 L325.9,1902.6 L326.9,1905.3 L327.9,1908 L328.9,1910.8 L329.9,1913.6 L330.9,1916.5 L331.9,1919.3 L332.9,1922.2 L333.9,1925.2 L334.9,1928.1 L335.9,1931.1 L336.9,1934.2 L337.9,1937.2 L338.9,1940.3 L339.9,1943.5 L340.9,1946.6 L341.9,1949.8 L342.9,1953 L343.9,1956.3 L344.9,1959.6 L345.9,1962.9 L346.9,1966.2 L347.9,1969.6 L348.9,1973 L349.9,1976.5 L350.9,1979.9 L351.9,1983.5 L352.9,1987 L353.9,1990.6 L354.9,1994.2 L355.9,1997.8 L356.9,2001.5 L357.9,2005.2 L358.9,2008.9 L359.9,2012.7 L360.9,2016.5 L361.9,2020.3 L362.9,2024.2 L363.9,2028.1 L364.9,2032 L365.9,2035.9 L366.9,2039.9 L367.9,2044 L368.9,2048 L369.9,2052.1 L370.9,2056.2 L371.9,2060.4 L372.9,2064.5 L373.9,2068.7 L374.9,2073 L375.9,2077.3 L376.9,2081.6 L377.9,2085.9 L378.9,2090.3 L379.9,2094.7 L380.9,2099.1 L381.9,2103.6 L382.9,2108.1 L383.9,2112.6 L384.9,2117.2 L385.9,2121.8 L386.9,2126.4 L387.9,2131.1 L388.9,2135.8 L389.9,2140.5 L390.9,2145.2 L391.9,2150 L392.9,2154.8 L393.9,2159.7 L394.9,2164.6 L395.9,2169.5 L396.9,2174.4 L397.9,2179.4 L398.9,2184.4 L399.9,2189.5 L400.9,2194.5 L401.9,2199.6 L402.9,2204.8 L403.9,2210 L404.9,2215.2 L405.9,2220.4 L406.9,2225.7 L407.9,2231 L408.9,2236.3 L409.9,2241.6 L410.9,2247 L411.9,2252.5 L412.9,2257.9 L413.9,2263.4 L414.9,2268.9 L415.9,2274.5 L416.9,2280.1 L417.9,2285.7 L418.9,2291.3 L419.9,2297 L420.9,2302.7 L421.9,2308.5 L422.9,2314.2 L423.9,2320 L424.9,2325.9 L425.9,2331.8 L426.9,2337.7 L427.9,2343.6 L428.9,2349.6 L429.9,2355.6 L430.9,2361.6 L431.9,2367.7 L432.9,2373.8 L433.9,2379.9 L434.9,2386 L435.9,2392.2 L436.9,2398.5 L437.9,2404.7 L438.9,2411 L439.9,2417.3 L440.9,2423.7 L441.9,2430.1 L442.9,2436.5 L443.9,2442.9 L444.9,2449.4 L445.9,2455.9 L446.9,2462.4 L447.9,2469 L448.9,2475.6 L449.9,2482.3 L450.9,2488.9 L451.4,2492.3" fill="none" stroke="#00f" stroke-width="10" stroke-dasharray="25.4 21.8"/>
<path d="M237.9,2197.6 L238.9,2194 L239.9,2190.5 L240.9,2187.1 L241.9,2183.6 L242.9,2180.2 L243.9,2176.8 L244.9,2173.4 L245.9,2170 L246.9,2166.7 L247.9,2163.4 L248.9,2160.1 L249.9,2156.8 L250.9,2153.6 L251.9,2150.4 L252.9,2147.2 L253.9,2144 L254.9,2140.9 L255.9,2137.7 L256.9,2134.6 L257.9,2131.6 L258.9,2128.5 L259.9,2125.5 L260.9,2122.5 L261.9,2119.5 L262.9,2116.5 L263.9,2113.6 L264.9,2110.7 L265.9,2107.8 L266.9,2104.9 L267.9,2102.1 L268.9,2099.3 L269.9,2096.5 L270.9,2093.7 L271.9,2091 L272.9,2088.2 L273.9,2085.5 L274.9,2082.9 L275.9,2080.2 L276.9,2077.6 L277.9,2075 L278.9,2072.4 L279.9,2069.8 L280.9,2067.3 L281.9,2064.8 L282.9,2062.3 L283.9,2059.8 L284.9,2057.4 L285.9,2055 L286.9,2052.6 L287.9,2050.2 L288.9,2047.9 L289.9,2045.5 L290.9,2043.3 L291.9,2041 L292.9,2038.7 L293.9,2036.5 L294.9,2034.3 L295.9,2032.1 L296.9,2030 L297.9,2027.8 L298.9,2025.7 L299.9,2023.6 L300.9,2021.6 L301.9,2019.5 L302.9,2017.5 L303.9,2015.5 L304.9,2013.6 L305.9,2011.6 L306.9,2009.7 L307.9,2007.8 L308.9,2005.9 L309.9,2004.1 L310.9,2002.2 L311.9,2000.4 L312.9,1998.7 L313.9,1996.9 L314.9,1995.2 L315.9,1993.5 L316.9,1991.8 L317.9,1990.1 L318.9,1988.5 L319.9,1986.9 L320.9,1985.3 L321.9,1983.7 L322.9,1982.2 L323.9,1980.6 L324.9,1979.1 L325.9,1977.7 L326.9,1976.2 L327.9,1974.8 L328.9,1973.4 L329.9,1972 L330.9,1970.7 L331.9,1969.3 L332.9,1968 L333.9,1966.7 L334.9,1965.5 L335.9,1964.3 L336.9,1963 L337.9,1961.8 L338.9,1960.7 L339.9,1959.5 L340.9,1958.4 L341.9,1957.3 L342.9,1956.3 L343.9,1955.2 L344.9,1954.2 L345.9,1953.2 L346.9,1952.2 L347.9,1951.3 L348.9,1950.3 L349.9,1949.4 L350.9,1948.5 L351.9,1947.7 L352.9,1946.8 L353.9,1946 L354.9,1945.2 L355.9,1944.5 L356.9,1943.7 L357.9,1943 L358.9,1942.3 L359.9,1941.7 L360.9,1941 L361.9,1940.4 L362.9,1939.8 L363.9,1939.2 L364.9,1938.7 L365.9,1938.1 L366.9,1937.6 L367.9,1937.1 L368.9,1936.7 L369.9,1936.2 L370.9,1935.8 L371.9,1935.4 L372.9,1935.1 L373.9,1934.7 L374.9,1934.4 L375.9,1934.1 L376.9,1933.9 L377.9,1933.6 L378.9,1933.4 L379.9,1933.2 L380.9,1933 L381.9,1932.9 L382.9,1932.7 L383.9,1932.6 L384.9,1932.6 L385.9,1932.5 L386.9,1932.5 L387.9,1932.5 L388.9,1932.5 L389.9,1932.5 L390.9,1932.6 L391.9,1932.7 L392.9,1932.8 L393.9,1932.9 L394.9,1933.1 L395.9,1933.2 L396.9,1933.4 L397.9,1933.7 L398.9,1933.9 L399.9,1934.2 L400.9,1934.5 L401.9,1934.8 L402.9,1935.2 L403.9,1935.5 L404.9,1935.9 L405.9,1936.3 L406.9,1936.8 L407.9,1937.2 L408.9,1937.7 L409.9,1938.2 L410.9,1938.8 L411.9,1939.3 L412.9,1939.9 L413.9,1940.5 L414.9,1941.1 L415.9,1941.8 L416.9,1942.4 L417.9,1943.1 L418.9,1943.9 L419.9,1944.6 L420.9,1945.4 L421.9,1946.2 L422.9,1947 L423.9,1947.8 L424.9,1948.7 L425.9,1949.6 L426.9,1950.5 L427.9,1951.4 L428.9,1952.4 L429.9,1953.4 L430.9,1954.4 L431.9,1955.4 L432.9,1956.5 L433.9,1957.5 L434.9,1958.6 L435.9,1959.7 L436.9,1960.9 L437.9,1962.1 L438.9,1963.3 L439.9,1964.5 L440.9,1965.7 L441.9,1967 L442.9,1968.3 L443.9,1969.6 L444.9,1970.9 L445.9,1972.3 L446.9,1973.7 L447.9,1975.1 L448.9,1976.5 L449.9,1977.9 L450.9,1979.4 L451.9,1980.9 L452.9,1982.4 L453.9,1984 L454.9,1985.6 L455.9,1987.2 L456.9,1988.8 L457.9,1990.4 L458.9,1992.1 L459.9,1993.8 L460.9,1995.5 L461.9,1997.2 L462.9,1999 L463.9,2000.8 L464.9,2002.6 L465.9,2004.4 L466.9,2006.3 L467.9,2008.1 L468.9,2010 L469.9,2012 L470.9,2013.9 L471.9,2015.9 L472.9,2017.9 L473.9,2019.9 L474.9,2021.9 L475.9,2024 L476.9,2026.1 L477.9,2028.2 L478.9,2030.4 L479.9,2032.5 L480.9,2034.7 L481.9,2036.9 L482.9,2039.1 L483.9,2041.4 L484.9,2043.7 L485.9,2046 L486.9,2048.3 L487.9,2050.7 L488.9,2053 L489.9,2055.4 L490.9,2057.8 L491.9,2060.3 L492.9,2062.8 L493.9,2065.2 L494.9,2067.8 L495.9,2070.3 L496.9,2072.9 L497.9,2075.4 L498.9,2078.1 L499.9,2080.7 L500.9,2083.3 L501.9,2086 L502.9,2088.7 L503.9,2091.5 L504.9,2094.2 L505.9,2097 L506.9,2099.8 L507.9,2102.6 L508.9,2105.4 L509.9,2108.3 L510.9,2111.2 L511.9,2114.1 L512.9,2117.1 L513.9,2120 L514.9,2123 L515.9,2126 L516.9,2129.1 L517.9,2132.1 L518.9,2135.2 L519.9,2138.3 L520.9,2141.4 L521.9,2144.6 L522.9,2147.8 L523.9,2151 L524.9,2154.2 L525.9,2157.4 L526.9,2160.7 L527.9,2164 L528.9,2167.3 L529.9,2170.6 L530.9,2174 L531.9,2177.4 L532.9,2180.8 L533.9,2184.2 L534.9,2187.7 L535.9,2191.2 L536.9,2194.7 L537.9,2198.2 L538.9,2201.8 L539.9,2205.4 L540.9,2209 L541.9,2212.6 L542.9,2216.2 L543.9,2219.9 L544.9,2223.6 L545.9,2227.3 L546.9,2231 L547.9,2234.8 L548.9,2238.6 L549.9,2242.4 L550.9,2246.3 L551.9,2250.1 L552.9,2254 L553.9,2257.9 L554.9,2261.8 L555.9,2265.8 L556.9,2269.8 L557.9,2273.8 L558.9,2277.8 L559.9,2281.8 L560.9,2285.9 L561.9,2290 L562.9,2294.1 L563.9,2298.3 L564.9,2302.4 L565.9,2306.6 L566.9,2310.8 L567.9,2315.1 L568.9,2319.3 L569.9,2323.6 L570.9,2327.9 L571.9,2332.3 L572.9,2336.6 L573.9,2341 L574.9,2345.4 L575.9,2349.8 L576.9,2354.3 L577.9,2358.7 L578.9,2363.2 L579.9,2367.8 L580.9,2372.3 L581.9,2376.9 L582.9,2381.5 L583.9,2386.1 L584.9,2390.7 L585.9,2395.4 L586.9,2400.1 L587.9,2404.8 L588.9,2409.5 L589.9,2414.3 L590.9,2419 L591.9,2423.8 L592.9,2428.7 L593.9,2433.5 L594.9,2438.4 L595.9,2443.3 L596.9,2448.2 L597.9,2453.2 L598.9,2458.1 L599.9,2463.1 L600.9,2468.1 L601.9,2473.2 L602.9,2478.2 L603.9,2483.3 L604.9,2488.4 L605.7,2492.3" fill="none" stroke="#00f" stroke-width="10" stroke-dasharray="25.4 21.8"/>
<path d="M334.9,2492.3 L335.9,2487.9 L336.9,2483.5 L337.9,2479.1 L338.9,2474.7 L339.9,2470.3 L340.9,2466 L341.9,2461.6 L342.9,2457.3 L343.9,2453 L344.9,2448.8 L345.9,2444.5 L346.9,2440.3 L347.9,2436.1 L348.9,2431.9 L349.9,2427.8 L350.9,2423.6 L351.9,2419.5 L352.9,2415.4 L353.9,2411.4 L354.9,2407.3 L355.9,2403.3 L356.9,2399.3 L357.9,2395.3 L358.9,2391.4 L359.9,2387.5 L360.9,2383.6 L361.9,2379.7 L362.9,2375.8 L363.9,2372 L364.9,2368.1 L365.9,2364.4 L366.9,2360.6 L367.9,2356.8 L368.9,2353.1 L369.9,2349.4 L370.9,2345.7 L371.9,2342 L372.9,2338.4 L373.9,2334.8 L374.9,2331.2 L375.9,2327.6 L376.9,2324.1 L377.9,2320.5 L378.9,2317 L379.9,2313.5 L380.9,2310.1 L381.9,2306.6 L382.9,2303.2 L383.9,2299.8 L384.9,2296.5 L385.9,2293.1 L386.9,2289.8 L387.9,2286.5 L388.9,2283.2 L389.9,2279.9 L390.9,2276.7 L391.9,2273.5 L392.9,2270.3 L393.9,2267.1 L394.9,2264 L395.9,2260.8 L396.9,2257.7 L397.9,2254.7 L398.9,2251.6 L399.9,2248.6 L400.9,2245.5 L401.9,2242.5 L402.9,2239.6 L403.9,2236.6 L404.9,2233.7 L405.9,2230.8 L406.9,2227.9 L407.9,2225.1 L408.9,2222.2 L409.9,2219.4 L410.9,2216.6 L411.9,2213.8 L412.9,2211.1 L413.9,2208.4 L414.9,2205.7 L415.9,2203 L416.9,2200.3 L417.9,2197.7 L418.9,2195.1 L419.9,2192.5 L420.9,2189.9 L421.9,2187.4 L422.9,2184.9 L423.9,2182.3 L424.9,2179.9 L425.9,2177.4 L426.9,2175 L427.9,2172.6 L428.9,2170.2 L429.9,2167.8 L430.9,2165.5 L431.9,2163.1 L432.9,2160.8 L433.9,2158.6 L434.9,2156.3 L435.9,2154.1 L436.9,2151.9 L437.9,2149.7 L438.9,2147.5 L439.9,2145.4 L440.9,2143.2 L441.9,2141.1 L442.9,2139 L443.9,2137 L444.9,2135 L445.9,2132.9 L446.9,2131 L447.9,2129 L448.9,2127 L449.9,2125.1 L450.9,2123.2 L451.9,2121.4 L452.9,2119.5 L453.9,2117.7 L454.9,2115.9 L455.9,2114.1 L456.9,2112.3 L457.9,2110.6 L458.9,2108.8 L459.9,2107.1 L460.9,2105.5 L461.9,2103.8 L462.9,2102.2 L463.9,2100.6 L464.9,2099 L465.9,2097.4 L466.9,2095.9 L467.9,2094.3 L468.9,2092.9 L469.9,2091.4 L470.9,2089.9 L471.9,2088.5 L472.9,2087.1 L473.9,2085.7 L474.9,2084.3 L475.9,2083 L476.9,2081.7 L477.9,2080.4 L478.9,2079.1 L479.9,2077.8 L480.9,2076.6 L481.9,2075.4 L482.9,2074.2 L483.9,2073.1 L484.9,2071.9 L485.9,2070.8 L486.9,2069.7 L487.9,2068.6 L488.9,2067.6 L489.9,2066.5 L490.9,2065.5 L491.9,2064.6 L492.9,2063.6 L493.9,2062.7 L494.9,2061.7 L495.9,2060.8 L496.9,2060 L497.9,2059.1 L498.9,2058.3 L499.9,2057.5 L500.9,2056.7 L501.9,2055.9 L502.9,2055.2 L503.9,2054.5 L504.9,2053.8 L505.9,2053.1 L506.9,2052.5 L507.9,2051.8 L508.9,2051.2 L509.9,2050.6 L510.9,2050.1 L511.9,2049.5 L512.9,2049 L513.9,2048.5 L514.9,2048.1 L515.9,2047.6 L516.9,2047.2 L517.9,2046.8 L518.9,2046.4 L519.9,2046 L520.9,2045.7 L521.9,2045.4 L522.9,2045.1 L523.9,2044.8 L524.9,2044.6 L525.9,2044.4 L526.9,2044.1 L527.9,2044 L528.9,2043.8 L529.9,2043.7 L530.9,2043.6 L531.9,2043.5 L532.9,2043.4 L533.9,2043.3 L534.9,2043.3 L535.9,2043.3 L536.9,2043.3 L537.9,2043.4 L538.9,2043.4 L539.9,2043.5 L540.9,2043.6 L541.9,2043.8 L542.9,2043.9 L543.9,2044.1 L544.9,2044.3 L545.9,2044.5 L546.9,2044.8 L547.9,2045 L548.9,2045.3 L549.9,2045.6 L550.9,2046 L551.9,2046.3 L552.9,2046.7 L553.9,2047.1 L554.9,2047.5 L555.9,2047.9 L556.9,2048.4 L557.9,2048.9 L558.9,2049.4 L559.9,2049.9 L560.9,2050.5 L561.9,2051.1 L562.9,2051.7 L563.9,2052.3 L564.9,2052.9 L565.9,2053.6 L566.9,2054.3 L567.9,2055 L568.9,2055.7 L569.9,2056.5 L570.9,2057.3 L571.9,2058.1 L572.9,2058.9 L573.9,2059.7 L574.9,2060.6 L575.9,2061.5 L576.9,2062.4 L577.9,2063.3 L578.9,2064.3 L579.9,2065.3 L580.9,2066.3 L581.9,2067.3 L582.9,2068.4 L583.9,2069.4 L584.9,2070.5 L585.9,2071.6 L586.9,2072.8 L587.9,2073.9 L588.9,2075.1 L589.9,2076.3 L590.9,2077.5 L591.9,2078.8 L592.9,2080 L593.9,2081.3 L594.9,2082.6 L595.9,2084 L596.9,2085.3 L597.9,2086.7 L598.9,2088.1 L599.9,2089.5 L600.9,2091 L601.9,2092.5 L602.9,2094 L603.9,2095.5 L604.9,2097 L605.9,2098.6 L606.9,2100.1 L607.9,2101.7 L608.9,2103.4 L609.9,2105 L610.9,2106.7 L611.9,2108.4 L612.9,2110.1 L613.9,2111.8 L614.9,2113.6 L615.9,2115.4 L616.9,2117.2 L617.9,2119 L618.9,2120.9 L619.9,2122.7 L620.9,2124.6 L621.9,2126.5 L622.9,2128.5 L623.9,2130.4 L624.9,2132.4 L625.9,2134.4 L626.9,2136.5 L627.9,2138.5 L628.9,2140.6 L629.9,2142.7 L630.9,2144.8 L631.9,2146.9 L632.9,2149.1 L633.9,2151.3 L634.9,2153.5 L635.9,2155.7 L636.9,2158 L637.9,2160.2 L638.9,2162.5 L639.9,2164.8 L640.9,2167.2 L641.9,2169.5 L642.9,2171.9 L643.9,2174.3 L644.9,2176.8 L645.9,2179.2 L646.9,2181.7 L647.9,2184.2 L648.9,2186.7 L649.9,2189.3 L650.9,2191.8 L651.9,2194.4 L652.9,2197 L653.9,2199.6 L654.9,2202.3 L655.9,2205 L656.9,2207.7 L657.9,2210.4 L658.9,2213.1 L659.9,2215.9 L660.9,2218.7 L661.9,2221.5 L662.9,2224.3 L663.9,2227.2 L664.9,2230 L665.9,2232.9 L666.9,2235.9 L667.9,2238.8 L668.9,2241.8 L669.9,2244.8 L670.9,2247.8 L671.9,2250.8 L672.9,2253.8 L673.9,2256.9 L674.9,2260 L675.9,2263.1 L676.9,2266.3 L677.9,2269.5 L678.9,2272.6 L679.9,2275.9 L680.9,2279.1 L681.9,2282.3 L682.9,2285.6 L683.9,2288.9 L684.9,2292.2 L685.9,2295.6 L686.9,2298.9 L687.9,2302.3 L688.9,2305.7 L689.9,2309.2 L690.9,2312.6 L691.9,2316.1 L692.9,2319.6 L693.9,2323.1 L694.9,2326.7 L695.9,2330.2 L696.9,2333.8 L697.9,2337.5 L698.9,2341.1 L699.9,2344.7 L700.9,2348.4 L701.9,2352.1 L702.9,2355.8 L703.9,2359.6 L704.9,2363.4 L705.9,2367.1 L706.9,2371 L707.9,2374.8 L708.9,2378.7 L709.9,2382.5 L710.9,2386.4 L711.9,2390.4 L712.9,2394.3 L713.9,2398.3 L714.9,2402.3 L715.9,2406.3 L716.9,2410.3 L717.9,2414.4 L718.9,2418.5 L719.9,2422.6 L720.9,2426.7 L721.9,2430.8 L722.9,2435 L723.9,2439.2 L724.9,2443.4 L725.9,2447.6 L726.9,2451.9 L727.9,2456.2 L728.9,2460.5 L729.9,2464.8 L730.9,2469.2 L731.9,2473.5 L732.9,2477.9 L733.9,2482.3 L734.9,2486.8 L735.9,2491.2 L736.2,2492.3" fill="none" stroke="#00f" stroke-width="10" stroke-dasharray="25.4 21.8"/>
<path d="M835.4,2492.4 L835.9,2490.5 L836.9,2486.7 L837.9,2482.9 L838.9,2479.1 L839.9,2475.3 L840.9,2471.5 L841.9,2467.8 L842.9,2464.1 L843.9,2460.4 L844.9,2456.8 L845.9,2453.1 L846.9,2449.5 L847.9,2445.9 L848.9,2442.4 L849.9,2438.8 L850.9,2435.3 L851.9,2431.8 L852.9,2428.3 L853.9,2424.9 L854.9,2421.4 L855.9,2418 L856.9,2414.7 L857.9,2411.3 L858.9,2408 L859.9,2404.7 L860.9,2401.4 L861.9,2398.1 L862.9,2394.9 L863.9,2391.7 L864.9,2388.5 L865.9,2385.3 L866.9,2382.1 L867.9,2379 L868.9,2375.9 L869.9,2372.8 L870.9,2369.8 L871.9,2366.7 L872.9,2363.7 L873.9,2360.7 L874.9,2357.8 L875.9,2354.8 L876.9,2351.9 L877.9,2349 L878.9,2346.2 L879.9,2343.3 L880.9,2340.5 L881.9,2337.7 L882.9,2334.9 L883.9,2332.2 L884.9,2329.4 L885.9,2326.7 L886.9,2324 L887.9,2321.4 L888.9,2318.7 L889.9,2316.1 L890.9,2313.5 L891.9,2311 L892.9,2308.4 L893.9,2305.9 L894.9,2303.4 L895.9,2300.9 L896.9,2298.5 L897.9,2296 L898.9,2293.6 L899.9,2291.3 L900.9,2288.9 L901.9,2286.6 L902.9,2284.2 L903.9,2282 L904.9,2279.7 L905.9,2277.4 L906.9,2275.2 L907.9,2273 L908.9,2270.9 L909.9,2268.7 L910.9,2266.6 L911.9,2264.5 L912.9,2262.4 L913.9,2260.3 L914.9,2258.3 L915.9,2256.3 L916.9,2254.3 L917.9,2252.3 L918.9,2250.4 L919.9,2248.5 L920.9,2246.6 L921.9,2244.7 L922.9,2242.9 L923.9,2241 L924.9,2239.2 L925.9,2237.5 L926.9,2235.7 L927.9,2234 L928.9,2232.3 L929.9,2230.6 L930.9,2228.9 L931.9,2227.3 L932.9,2225.6 L933.9,2224.1 L934.9,2222.5 L935.9,2220.9 L936.9,2219.4 L937.9,2217.9 L938.9,2216.4 L939.9,2215 L940.9,2213.6 L941.9,2212.1 L942.9,2210.8 L943.9,2209.4 L944.9,2208.1 L945.9,2206.7 L946.9,2205.5 L947.9,2204.2 L948.9,2202.9 L949.9,2201.7 L950.9,2200.5 L951.9,2199.3 L952.9,2198.2 L953.9,2197.1 L954.9,2196 L955.9,2194.9 L956.9,2193.8 L957.9,2192.8 L958.9,2191.8 L959.9,2190.8 L960.9,2189.8 L961.9,2188.9 L962.9,2187.9 L963.9,2187 L964.9,2186.2 L965.9,2185.3 L966.9,2184.5 L967.9,2183.7 L968.9,2182.9 L969.9,2182.1 L970.9,2181.4 L971.9,2180.7 L972.9,2180 L973.9,2179.3 L974.9,2178.7 L975.9,2178.1 L976.9,2177.5 L977.9,2176.9 L978.9,2176.4 L979.9,2175.8 L980.9,2175.3 L981.9,2174.9 L982.9,2174.4 L983.9,2174 L984.9,2173.6 L985.9,2173.2 L986.9,2172.8 L987.9,2172.5 L988.9,2172.1 L989.9,2171.9 L990.9,2171.6 L991.9,2171.3 L992.9,2171.1 L993.9,2170.9 L994.9,2170.7 L995.9,2170.6 L996.9,2170.4 L997.9,2170.3 L998.9,2170.3 L999.9,2170.2 L1000.9,2170.2 L1001.9,2170.1 L1002.9,2170.1 L1003.9,2170.2 L1004.9,2170.2 L1005.9,2170.3 L1006.9,2170.4 L1007.9,2170.5 L1008.9,2170.7 L1009.9,2170.8 L1010.9,2171 L1011.9,2171.3 L1012.9,2171.5 L1013.9,2171.8 L1014.9,2172 L1015.9,2172.4 L1016.9,2172.7 L1017.9,2173 L1018.9,2173.4 L1019.9,2173.8 L1020.9,2174.2 L1021.9,2174.7 L1022.9,2175.2 L1023.9,2175.7 L1024.9,2176.2 L1025.9,2176.7 L1026.9,2177.3 L1027.9,2177.9 L1028.9,2178.5 L1029.9,2179.1 L1030.9,2179.8 L1031.9,2180.5 L1032.9,2181.2 L1033.9,2181.9 L1034.9,2182.6 L1035.9,2183.4 L1036.9,2184.2 L1037.9,2185 L1038.9,2185.9 L1039.9,2186.7 L1040.9,2187.6 L1041.9,2188.5 L1042.9,2189.5 L1043.9,2190.4 L1044.9,2191.4 L1045.9,2192.4 L1046.9,2193.5 L1047.9,2194.5 L1048.9,2195.6 L1049.9,2196.7 L1050.9,2197.8 L1051.9,2198.9 L1052.9,2200.1 L1053.9,2201.3 L1054.9,2202.5 L1055.9,2203.8 L1056.9,2205 L1057.9,2206.3 L1058.9,2207.6 L1059.9,2208.9 L1060.9,2210.3 L1061.9,2211.7 L1062.9,2213.1 L1063.9,2214.5 L1064.9,2215.9 L1065.9,2217.4 L1066.9,2218.9 L1067.9,2220.4 L1068.9,2222 L1069.9,2223.5 L1070.9,2225.1 L1071.9,2226.7 L1072.9,2228.4 L1073.9,2230 L1074.9,2231.7 L1075.9,2233.4 L1076.9,2235.1 L1077.9,2236.9 L1078.9,2238.6 L1079.9,2240.4 L1080.9,2242.2 L1081.9,2244.1 L1082.9,2245.9 L1083.9,2247.8 L1084.9,2249.7 L1085.9,2251.7 L1086.9,2253.6 L1087.9,2255.6 L1088.9,2257.6 L1089.9,2259.6 L1090.9,2261.7 L1091.9,2263.8 L1092.9,2265.9 L1093.9,2268 L1094.9,2270.1 L1095.9,2272.3 L1096.9,2274.5 L1097.9,2276.7 L1098.9,2278.9 L1099.9,2281.2 L1100.9,2283.5 L1101.9,2285.8 L1102.9,2288.1 L1103.9,2290.5 L1104.9,2292.8 L1105.9,2295.2 L1106.9,2297.7 L1107.9,2300.1 L1108.9,2302.6 L1109.9,2305.1 L1110.9,2307.6 L1111.9,2310.1 L1112.9,2312.7 L1113.9,2315.3 L1114.9,2317.9 L1115.9,2320.5 L1116.9,2323.1 L1117.9,2325.8 L1118.9,2328.5 L1119.9,2331.2 L1120.9,2334 L1121.9,2336.8 L1122.9,2339.5 L1123.9,2342.4 L1124.9,2345.2 L1125.9,2348.1 L1126.9,2351 L1127.9,2353.9 L1128.9,2356.8 L1129.9,2359.7 L1130.9,2362.7 L1131.9,2365.7 L1132.9,2368.7 L1133.9,2371.8 L1134.9,2374.9 L1135.9,2378 L1136.9,2381.1 L1137.9,2384.2 L1138.9,2387.4 L1139.9,2390.6 L1140.9,2393.8 L1141.9,2397 L1142.9,2400.3 L1143.9,2403.6 L1144.9,2406.9 L1145.9,2410.2 L1146.9,2413.5 L1147.9,2416.9 L1148.9,2420.3 L1149.9,2423.7 L1150.9,2427.2 L1151.9,2430.6 L1152.9,2434.1 L1153.9,2437.6 L1154.9,2441.2 L1155.9,2444.7 L1156.9,2448.3 L1157.9,2451.9 L1158.9,2455.5 L1159.9,2459.2 L1160.9,2462.9 L1161.9,2466.6 L1162.9,2470.3 L1163.9,2474 L1164.9,2477.8 L1165.9,2481.6 L1166.9,2485.4 L1167.9,2489.2 L1168.7,2492.4" fill="none" stroke="#00f" stroke-width="10" stroke-dasharray="25.4 21.8"/>
<path d="M986,2492.3 L986.9,2487.5 L987.9,2482.5 L988.9,2477.5 L989.9,2472.5 L990.9,2467.6 L991.9,2462.7 L992.9,2457.8 L993.9,2452.9 L994.9,2448.1 L995.9,2443.2 L996.9,2438.4 L997.9,2433.7 L998.9,2428.9 L999.9,2424.2 L1000.9,2419.5 L1001.9,2414.8 L1002.9,2410.2 L1003.9,2405.5 L1004.9,2400.9 L1005.9,2396.4 L1006.9,2391.8 L1007.9,2387.3 L1008.9,2382.8 L1009.9,2378.3 L1010.9,2373.8 L1011.9,2369.4 L1012.9,2365 L1013.9,2360.6 L1014.9,2356.2 L1015.9,2351.9 L1016.9,2347.6 L1017.9,2343.3 L1018.9,2339 L1019.9,2334.8 L1020.9,2330.6 L1021.9,2326.4 L1022.9,2322.2 L1023.9,2318.1 L1024.9,2314 L1025.9,2309.9 L1026.9,2305.8 L1027.9,2301.8 L1028.9,2297.7 L1029.9,2293.7 L1030.9,2289.8 L1031.9,2285.8 L1032.9,2281.9 L1033.9,2278 L1034.9,2274.1 L1035.9,2270.3 L1036.9,2266.4 L1037.9,2262.6 L1038.9,2258.9 L1039.9,2255.1 L1040.9,2251.4 L1041.9,2247.7 L1042.9,2244 L1043.9,2240.3 L1044.9,2236.7 L1045.9,2233.1 L1046.9,2229.5 L1047.9,2225.9 L1048.9,2222.4 L1049.9,2218.9 L1050.9,2215.4 L1051.9,2211.9 L1052.9,2208.5 L1053.9,2205.1 L1054.9,2201.7 L1055.9,2198.3 L1056.9,2195 L1057.9,2191.7 L1058.9,2188.4 L1059.9,2185.1 L1060.9,2181.9 L1061.9,2178.6 L1062.9,2175.4 L1063.9,2172.3 L1064.9,2169.1 L1065.9,2166 L1066.9,2162.9 L1067.9,2159.8 L1068.9,2156.8 L1069.9,2153.7 L1070.9,2150.7 L1071.9,2147.7 L1072.9,2144.8 L1073.9,2141.9 L1074.9,2138.9 L1075.9,2136.1 L1076.9,2133.2 L1077.9,2130.4 L1078.9,2127.6 L1079.9,2124.8 L1080.9,2122 L1081.9,2119.3 L1082.9,2116.6 L1083.9,2113.9 L1084.9,2111.2 L1085.9,2108.6 L1086.9,2106 L1087.9,2103.4 L1088.9,2100.8 L1089.9,2098.3 L1090.9,2095.7 L1091.9,2093.2 L1092.9,2090.8 L1093.9,2088.3 L1094.9,2085.9 L1095.9,2083.5 L1096.9,2081.1 L1097.9,2078.8 L1098.9,2076.4 L1099.9,2074.1 L1100.9,2071.9 L1101.9,2069.6 L1102.9,2067.4 L1103.9,2065.2 L1104.9,2063 L1105.9,2060.8 L1106.9,2058.7 L1107.9,2056.6 L1108.9,2054.5 L1109.9,2052.5 L1110.9,2050.4 L1111.9,2048.4 L1112.9,2046.4 L1113.9,2044.5 L1114.9,2042.5 L1115.9,2040.6 L1116.9,2038.7 L1117.9,2036.9 L1118.9,2035 L1119.9,2033.2 L1120.9,2031.4 L1121.9,2029.6 L1122.9,2027.9 L1123.9,2026.2 L1124.9,2024.5 L1125.9,2022.8 L1126.9,2021.2 L1127.9,2019.5 L1128.9,2017.9 L1129.9,2016.4 L1130.9,2014.8 L1131.9,2013.3 L1132.9,2011.8 L1133.9,2010.3 L1134.9,2008.9 L1135.9,2007.4 L1136.9,2006 L1137.9,2004.6 L1138.9,2003.3 L1139.9,2002 L1140.9,2000.7 L1141.9,1999.4 L1142.9,1998.1 L1143.9,1996.9 L1144.9,1995.7 L1145.9,1994.5 L1146.9,1993.3 L1147.9,1992.2 L1148.9,1991.1 L1149.9,1990 L1150.9,1988.9 L1151.9,1987.9 L1152.9,1986.8 L1153.9,1985.8 L1154.9,1984.9 L1155.9,1983.9 L1156.9,1983 L1157.9,1982.1 L1158.9,1981.2 L1159.9,1980.4 L1160.9,1979.6 L1161.9,1978.8 L1162.9,1978 L1163.9,1977.3 L1164.9,1976.5 L1165.9,1975.8 L1166.9,1975.1 L1167.9,1974.5 L1168.9,1973.9 L1169.9,1973.3 L1170.9,1972.7 L1171.9,1972.1 L1172.9,1971.6 L1173.9,1971.1 L1174.9,1970.6 L1175.9,1970.1 L1176.9,1969.7 L1177.9,1969.3 L1178.9,1968.9 L1179.9,1968.5 L1180.9,1968.2 L1181.9,1967.9 L1182.9,1967.6 L1183.9,1967.3 L1184.9,1967.1 L1185.9,1966.9 L1186.9,1966.7 L1187.9,1966.5 L1188.9,1966.4 L1189.9,1966.2 L1190.9,1966.1 L1191.9,1966.1 L1192.9,1966 L1193.9,1966 L1194.9,1966 L1195.9,1966 L1196.9,1966.1 L1197.9,1966.1 L1198.9,1966.2 L1199.9,1966.4 L1200.9,1966.5 L1201.9,1966.7 L1202.9,1966.9 L1203.9,1967.1 L1204.9,1967.3 L1205.9,1967.6 L1206.9,1967.9 L1207.9,1968.2 L1208.9,1968.5 L1209.9,1968.9 L1210.9,1969.3 L1211.9,1969.7 L1212.9,1970.1 L1213.9,1970.6 L1214.9,1971.1 L1215.9,1971.6 L1216.9,1972.1 L1217.9,1972.7 L1218.9,1973.3 L1219.9,1973.9 L1220.9,1974.5 L1221.9,1975.1 L1222.9,1975.8 L1223.9,1976.5 L1224.9,1977.3 L1225.9,1978 L1226.9,1978.8 L1227.9,1979.6 L1228.9,1980.4 L1229.9,1981.3 L1230.9,1982.1 L1231.9,1983 L1232.9,1983.9 L1233.9,1984.9 L1234.9,1985.9 L1235.9,1986.8 L1236.9,1987.9 L1237.9,1988.9 L1238.9,1990 L1239.9,1991.1 L1240.9,1992.2 L1241.9,1993.3 L1242.9,1994.5 L1243.9,1995.7 L1244.9,1996.9 L1245.9,1998.1 L1246.9,1999.4 L1247.9,2000.7 L1248.9,2002 L1249.9,2003.3 L1250.9,2004.7 L1251.9,2006 L1252.9,2007.4 L1253.9,2008.9 L1254.9,2010.3 L1255.9,2011.8 L1256.9,2013.3 L1257.9,2014.8 L1258.9,2016.4 L1259.9,2018 L1260.9,2019.6 L1261.9,2021.2 L1262.9,2022.8 L1263.9,2024.5 L1264.9,2026.2 L1265.9,2027.9 L1266.9,2029.7 L1267.9,2031.4 L1268.9,2033.2 L1269.9,2035 L1270.9,2036.9 L1271.9,2038.7 L1272.9,2040.6 L1273.9,2042.5 L1274.9,2044.5 L1275.9,2046.4 L1276.9,2048.4 L1277.9,2050.4 L1278.9,2052.5 L1279.9,2054.5 L1280.9,2056.6 L1281.9,2058.7 L1282.9,2060.9 L1283.9,2063 L1284.9,2065.2 L1285.9,2067.4 L1286.9,2069.6 L1287.9,2071.9 L1288.9,2074.2 L1289.9,2076.5 L1290.9,2078.8 L1291.9,2081.1 L1292.9,2083.5 L1293.9,2085.9 L1294.9,2088.3 L1295.9,2090.8 L1296.9,2093.2 L1297.9,2095.7 L1298.9,2098.3 L1299.9,2100.8 L1300.9,2103.4 L1301.9,2106 L1302.9,2108.6 L1303.9,2111.2 L1304.9,2113.9 L1305.9,2116.6 L1306.9,2119.3 L1307.9,2122 L1308.9,2124.8 L1309.9,2127.6 L1310.9,2130.4 L1311.9,2133.2 L1312.9,2136.1 L1313.9,2139 L1314.9,2141.9 L1315.9,2144.8 L1316.9,2147.8 L1317.9,2150.7 L1318.9,2153.7 L1319.9,2156.8 L1320.9,2159.8 L1321.9,2162.9 L1322.9,2166 L1323.9,2169.1 L1324.9,2172.3 L1325.9,2175.4 L1326.9,2178.6 L1327.9,2181.9 L1328.9,2185.1 L1329.9,2188.4 L1330.9,2191.7 L1331.9,2195 L1332.9,2198.3 L1333.9,2201.7 L1334.9,2205.1 L1335.9,2208.5 L1336.9,2212 L1337.9,2215.4 L1338.9,2218.9 L1339.9,2222.4 L1340.9,2226 L1341.9,2229.5 L1342.9,2233.1 L1343.9,2236.7 L1344.9,2240.3 L1345.9,2244 L1346.9,2247.7 L1347.9,2251.4 L1348.9,2255.1 L1349.9,2258.9 L1350.9,2262.7 L1351.9,2266.5 L1352.9,2270.3 L1353.9,2274.1 L1354.9,2278 L1355.9,2281.9 L1356.9,2285.8 L1357.9,2289.8 L1358.9,2293.8 L1359.9,2297.8 L1360.9,2301.8 L1361.9,2305.8 L1362.9,2309.9 L1363.9,2314 L1364.9,2318.1 L1365.9,2322.3 L1366.9,2326.4 L1367.9,2330.6 L1368.9,2334.8 L1369.9,2339.1 L1370.9,2343.3 L1371.9,2347.6 L1372.9,2351.9 L1373.9,2356.3 L1374.9,2360.6 L1375.9,2365 L1376.9,2369.4 L1377.9,2373.9 L1378.9,2378.3 L1379.9,2382.8 L1380.9,2387.3 L1381.9,2391.8 L1382.9,2396.4 L1383.9,2401 L1384.9,2405.6 L1385.9,2410.2 L1386.9,2414.8 L1387.9,2419.5 L1388.9,2424.2 L1389.9,2428.9 L1390.9,2433.7 L1391.9,2438.5 L1392.9,2443.3 L1393.9,2448.1 L1394.9,2452.9 L1395.9,2457.8 L1396.9,2462.7 L1397.9,2467.6 L1398.9,2472.6 L1399.9,2477.5 L1400.9,2482.5 L1401.9,2487.5 L1402.9,2492.3" fill="none" stroke="#00f" stroke-width="10" stroke-dasharray="25.4 21.8"/>
<path d="M1117.3,2492.3 L1117.9,2490.3 L1118.9,2487.2 L1119.9,2484.2 L1120.9,2481.1 L1121.9,2478.1 L1122.9,2475.1 L1123.9,2472.1 L1124.9,2469.1 L1125.9,2466.1 L1126.9,2463.1 L1127.9,2460.2 L1128.9,2457.2 L1129.9,2454.3 L1130.9,2451.4 L1131.9,2448.5 L1132.9,2445.6 L1133.9,2442.7 L1134.9,2439.8 L1135.9,2436.9 L1136.9,2434.1 L1137.9,2431.2 L1138.9,2428.4 L1139.9,2425.6 L1140.9,2422.8 L1141.9,2420 L1142.9,2417.2 L1143.9,2414.4 L1144.9,2411.6 L1145.9,2408.9 L1146.9,2406.1 L1147.9,2403.4 L1148.9,2400.7 L1149.9,2398 L1150.9,2395.3 L1151.9,2392.6 L1152.9,2389.9 L1153.9,2387.3 L1154.9,2384.6 L1155.9,2382 L1156.9,2379.4 L1157.9,2376.7 L1158.9,2374.1 L1159.9,2371.6 L1160.9,2369 L1161.9,2366.4 L1162.9,2363.8 L1163.9,2361.3 L1164.9,2358.8 L1165.9,2356.2 L1166.9,2353.7 L1167.9,2351.2 L1168.9,2348.7 L1169.9,2346.3 L1170.9,2343.8 L1171.9,2341.3 L1172.9,2338.9 L1173.9,2336.5 L1174.9,2334 L1175.9,2331.6 L1176.9,2329.2 L1177.9,2326.8 L1178.9,2324.5 L1179.9,2322.1 L1180.9,2319.8 L1181.9,2317.4 L1182.9,2315.1 L1183.9,2312.8 L1184.9,2310.5 L1185.9,2308.2 L1186.9,2305.9 L1187.9,2303.6 L1188.9,2301.4 L1189.9,2299.1 L1190.9,2296.9 L1191.9,2294.6 L1192.9,2292.4 L1193.9,2290.2 L1194.9,2288 L1195.9,2285.9 L1196.9,2283.7 L1197.9,2281.5 L1198.9,2279.4 L1199.9,2277.3 L1200.9,2275.1 L1201.9,2273 L1202.9,2270.9 L1203.9,2268.8 L1204.9,2266.8 L1205.9,2264.7 L1206.9,2262.6 L1207.9,2260.6 L1208.9,2258.6 L1209.9,2256.5 L1210.9,2254.5 L1211.9,2252.5 L1212.9,2250.5 L1213.9,2248.6 L1214.9,2246.6 L1215.9,2244.7 L1216.9,2242.7 L1217.9,2240.8 L1218.9,2238.9 L1219.9,2237 L1220.9,2235.1 L1221.9,2233.2 L1222.9,2231.3 L1223.9,2229.5 L1224.9,2227.6 L1225.9,2225.8 L1226.9,2224 L1227.9,2222.1 L1228.9,2220.3 L1229.9,2218.5 L1230.9,2216.8 L1231.9,2215 L1232.9,2213.2 L1233.9,2211.5 L1234.9,2209.8 L1235.9,2208 L1236.9,2206.3 L1237.9,2204.6 L1238.9,2202.9 L1239.9,2201.3 L1240.9,2199.6 L1241.9,2197.9 L1242.9,2196.3 L1243.9,2194.7 L1244.9,2193.1 L1245.9,2191.4 L1246.9,2189.9 L1247.9,2188.3 L1248.9,2186.7 L1249.9,2185.1 L1250.9,2183.6 L1251.9,2182 L1252.9,2180.5 L1253.9,2179 L1254.9,2177.5 L1255.9,2176 L1256.9,2174.5 L1257.9,2173 L1258.9,2171.6 L1259.9,2170.1 L1260.9,2168.7 L1261.9,2167.3 L1262.9,2165.9 L1263.9,2164.5 L1264.9,2163.1 L1265.9,2161.7 L1266.9,2160.3 L1267.9,2159 L1268.9,2157.6 L1269.9,2156.3 L1270.9,2155 L1271.9,2153.7 L1272.9,2152.4 L1273.9,2151.1 L1274.9,2149.8 L1275.9,2148.5 L1276.9,2147.3 L1277.9,2146 L1278.9,2144.8 L1279.9,2143.6 L1280.9,2142.4 L1281.9,2141.2 L1282.9,2140 L1283.9,2138.8 L1284.9,2137.7 L1285.9,2136.5 L1286.9,2135.4 L1287.9,2134.3 L1288.9,2133.1 L1289.9,2132 L1290.9,2130.9 L1291.9,2129.9 L1292.9,2128.8 L1293.9,2127.7 L1294.9,2126.7 L1295.9,2125.7 L1296.9,2124.6 L1297.9,2123.6 L1298.9,2122.6 L1299.9,2121.6 L1300.9,2120.7 L1301.9,2119.7 L1302.9,2118.7 L1303.9,2117.8 L1304.9,2116.9 L1305.9,2115.9 L1306.9,2115 L1307.9,2114.1 L1308.9,2113.2 L1309.9,2112.4 L1310.9,2111.5 L1311.9,2110.6 L1312.9,2109.8 L1313.9,2109 L1314.9,2108.2 L1315.9,2107.4 L1316.9,2106.6 L1317.9,2105.8 L1318.9,2105 L1319.9,2104.2 L1320.9,2103.5 L1321.9,2102.8 L1322.9,2102 L1323.9,2101.3 L1324.9,2100.6 L1325.9,2099.9 L1326.9,2099.2 L1327.9,2098.6 L1328.9,2097.9 L1329.9,2097.3 L1330.9,2096.6 L1331.9,2096 L1332.9,2095.4 L1333.9,2094.8 L1334.9,2094.2 L1335.9,2093.6 L1336.9,2093.1 L1337.9,2092.5 L1338.9,2092 L1339.9,2091.4 L1340.9,2090.9 L1341.9,2090.4 L1342.9,2089.9 L1343.9,2089.4 L1344.9,2088.9 L1345.9,2088.5 L1346.9,2088 L1347.9,2087.6 L1348.9,2087.2 L1349.9,2086.7 L1350.9,2086.3 L1351.9,2085.9 L1352.9,2085.6 L1353.9,2085.2 L1354.9,2084.8 L1355.9,2084.5 L1356.9,2084.1 L1357.9,2083.8 L1358.9,2083.5 L1359.9,2083.2 L1360.9,2082.9 L1361.9,2082.6 L1362.9,2082.4 L1363.9,2082.1 L1364.9,2081.9 L1365.9,2081.6 L1366.9,2081.4 L1367.9,2081.2 L1368.9,2081 L1369.9,2080.8 L1370.9,2080.6 L1371.9,2080.5 L1372.9,2080.3 L1373.9,2080.2 L1374.9,2080 L1375.9,2079.9 L1376.9,2079.8 L1377.9,2079.7 L1378.9,2079.6 L1379.9,2079.5 L1380.9,2079.5 L1381.9,2079.4 L1382.9,2079.4 L1383.9,2079.4 L1384.9,2079.3 L1385.9,2079.3 L1386.9,2079.3 L1387.9,2079.4 L1388.9,2079.4 L1389.9,2079.4 L1390.9,2079.5 L1391.9,2079.5 L1392.9,2079.6 L1393.9,2079.7 L1394.9,2079.8 L1395.9,2079.9 L1396.9,2080 L1397.9,2080.2 L1398.9,2080.3 L1399.9,2080.5 L1400.9,2080.6 L1401.9,2080.8 L1402.9,2081 L1403.9,2081.2 L1404.9,2081.4 L1405.9,2081.6 L1406.9,2081.9 L1407.9,2082.1 L1408.9,2082.4 L1409.9,2082.6 L1410.9,2082.9 L1411.9,2083.2 L1412.9,2083.5 L1413.9,2083.8 L1414.9,2084.2 L1415.9,2084.5 L1416.9,2084.9 L1417.9,2085.2 L1418.9,2085.6 L1419.9,2086 L1420.9,2086.4 L1421.9,2086.8 L1422.9,2087.2 L1423.9,2087.6 L1424.9,2088.1 L1425.9,2088.5 L1426.9,2089 L1427.9,2089.5 L1428.9,2089.9 L1429.9,2090.4 L1430.9,2090.9 L1431.9,2091.5 L1432.9,2092 L1433.9,2092.5 L1434.9,2093.1 L1435.9,2093.7 L1436.9,2094.2 L1437.9,2094.8 L1438.9,2095.4 L1439.9,2096.1 L1440.9,2096.7 L1441.9,2097.3 L1442.9,2098 L1443.9,2098.6 L1444.9,2099.3 L1445.9,2100 L1446.9,2100.7 L1447.9,2101.4 L1448.9,2102.1 L1449.9,2102.8 L1450.9,2103.5 L1451.9,2104.3 L1452.9,2105.1 L1453.9,2105.8 L1454.9,2106.6 L1455.9,2107.4 L1456.9,2108.2 L1457.9,2109 L1458.9,2109.9 L1459.9,2110.7 L1460.9,2111.6 L1461.9,2112.4 L1462.9,2113.3 L1463.9,2114.2 L1464.9,2115.1 L1465.9,2116 L1466.9,2116.9 L1467.9,2117.9 L1468.9,2118.8 L1469.9,2119.8 L1470.9,2120.7 L1471.9,2121.7 L1472.9,2122.7 L1473.9,2123.7 L1474.9,2124.7 L1475.9,2125.7 L1476.9,2126.8 L1477.9,2127.8 L1478.9,2128.9 L1479.9,2129.9 L1480.9,2131 L1481.9,2132.1 L1482.9,2133.2 L1483.9,2134.3 L1484.9,2135.5 L1485.9,2136.6 L1486.9,2137.8 L1487.9,2138.9 L1488.9,2140.1 L1489.9,2141.3 L1490.9,2142.5 L1491.9,2143.7 L1492.9,2144.9 L1493.9,2146.1 L1494.9,2147.4 L1495.9,2148.6 L1496.9,2149.9 L1497.9,2151.2 L1498.9,2152.5 L1499.9,2153.8 L1500.9,2155.1 L1501.9,2156.4 L1502.9,2157.7 L1503.9,2159.1 L1504.9,2160.4 L1505.9,2161.8 L1506.9,2163.2 L1507.9,2164.6 L1508.9,2166 L1509.9,2167.4 L1510.9,2168.8 L1511.9,2170.3 L1512.9,2171.7 L1513.9,2173.2 L1514.9,2174.6 L1515.9,2176.1 L1516.9,2177.6 L1517.9,2179.1 L1518.9,2180.6 L1519.9,2182.2 L1520.9,2183.7 L1521.9,2185.2 L1522.9,2186.8 L1523.9,2188.4 L1524.9,2190 L1525.9,2191.6 L1526.9,2193.2 L1527.9,2194.8 L1528.9,2196.4 L1529.9,2198.1 L1530.9,2199.7 L1531.9,2201.4 L1532.9,2203.1 L1533.9,2204.8 L1534.9,2206.5 L1535.9,2208.2 L1536.9,2209.9 L1537.9,2211.6 L1538.9,2213.4 L1539.9,2215.1 L1540.9,2216.9 L1541.9,2218.7 L1542.9,2220.5 L1543.9,2222.3 L1544.9,2224.1 L1545.9,2225.9 L1546.9,2227.8 L1547.9,2229.6 L1548.9,2231.5 L1549.9,2233.3 L1550.9,2235.2 L1551.9,2237.1 L1552.9,2239 L1553.9,2240.9 L1554.9,2242.9 L1555.9,2244.8 L1556.9,2246.8 L1557.9,2248.7 L1558.9,2250.7 L1559.9,2252.7 L1560.9,2254.7 L1561.9,2256.7 L1562.9,2258.7 L1563.9,2260.7 L1564.9,2262.8 L1565.9,2264.8 L1566.9,2266.9 L1567.9,2269 L1568.9,2271.1 L1569.9,2273.2 L1570.9,2275.3 L1571.9,2277.4 L1572.9,2279.5 L1573.9,2281.7 L1574.9,2283.9 L1575.9,2286 L1576.9,2288.2 L1577.9,2290.4 L1578.9,2292.6 L1579.9,2294.8 L1580.9,2297 L1581.9,2299.3 L1582.9,2301.5 L1583.9,2303.8 L1584.9,2306.1 L1585.9,2308.3 L1586.9,2310.6 L1587.9,2312.9 L1588.9,2315.3 L1589.9,2317.6 L1590.9,2319.9 L1591.9,2322.3 L1592.9,2324.7 L1593.9,2327 L1594.9,2329.4 L1595.9,2331.8 L1596.9,2334.2 L1597.9,2336.6 L1598.9,2339.1 L1599.9,2341.5 L1600.9,2344 L1601.9,2346.4 L1602.9,2348.9 L1603.9,2351.4 L1604.9,2353.9 L1605.9,2356.4 L1606.9,2358.9 L1607.9,2361.5 L1608.9,2364 L1609.9,2366.6 L1610.9,2369.2 L1611.9,2371.7 L1612.9,2374.3 L1613.9,2376.9 L1614.9,2379.6 L1615.9,2382.2 L1616.9,2384.8 L1617.9,2387.5 L1618.9,2390.1 L1619.9,2392.8 L1620.9,2395.5 L1621.9,2398.2 L1622.9,2400.9 L1623.9,2403.6 L1624.9,2406.3 L1625.9,2409.1 L1626.9,2411.8 L1627.9,2414.6 L1628.9,2417.4 L1629.9,2420.2 L1630.9,2423 L1631.9,2425.8 L1632.9,2428.6 L1633.9,2431.4 L1634.9,2434.3 L1635.9,2437.1 L1636.9,2440 L1637.9,2442.9 L1638.9,2445.8 L1639.9,2448.7 L1640.9,2451.6 L1641.9,2454.5 L1642.9,2457.4 L1643.9,2460.4 L1644.9,2463.4 L1645.9,2466.3 L1646.9,2469.3 L1647.9,2472.3 L1648.9,2475.3 L1649.9,2478.3 L1650.9,2481.3 L1651.9,2484.4 L1652.9,2487.4 L1653.9,2490.5 L1654.5,2492.3" fill="none" stroke="#00f" stroke-width="10" stroke-dasharray="25.4 21.8"/>
<path d="M1396.8,2492.3 L1396.9,2492 L1397.9,2489.3 L1398.9,2486.5 L1399.9,2483.7 L1400.9,2480.9 L1401.9,2478.2 L1402.9,2475.5 L1403.9,2472.7 L1404.9,2470 L1405.9,2467.3 L1406.9,2464.6 L1407.9,2461.9 L1408.9,2459.2 L1409.9,2456.6 L1410.9,2453.9 L1411.9,2451.3 L1412.9,2448.6 L1413.9,2446 L1414.9,2443.4 L1415.9,2440.8 L1416.9,2438.2 L1417.9,2435.6 L1418.9,2433 L1419.9,2430.5 L1420.9,2427.9 L1421.9,2425.4 L1422.9,2422.9 L1423.9,2420.3 L1424.9,2417.8 L1425.9,2415.3 L1426.9,2412.8 L1427.9,2410.4 L1428.9,2407.9 L1429.9,2405.4 L1430.9,2403 L1431.9,2400.5 L1432.9,2398.1 L1433.9,2395.7 L1434.9,2393.3 L1435.9,2390.9 L1436.9,2388.5 L1437.9,2386.1 L1438.9,2383.8 L1439.9,2381.4 L1440.9,2379.1 L1441.9,2376.7 L1442.9,2374.4 L1443.9,2372.1 L1444.9,2369.8 L1445.9,2367.5 L1446.9,2365.2 L1447.9,2363 L1448.9,2360.7 L1449.9,2358.4 L1450.9,2356.2 L1451.9,2354 L1452.9,2351.8 L1453.9,2349.6 L1454.9,2347.4 L1455.9,2345.2 L1456.9,2343 L1457.9,2340.8 L1458.9,2338.7 L1459.9,2336.5 L1460.9,2334.4 L1461.9,2332.3 L1462.9,2330.1 L1463.9,2328 L1464.9,2325.9 L1465.9,2323.9 L1466.9,2321.8 L1467.9,2319.7 L1468.9,2317.7 L1469.9,2315.6 L1470.9,2313.6 L1471.9,2311.6 L1472.9,2309.6 L1473.9,2307.6 L1474.9,2305.6 L1475.9,2303.6 L1476.9,2301.6 L1477.9,2299.7 L1478.9,2297.7 L1479.9,2295.8 L1480.9,2293.9 L1481.9,2291.9 L1482.9,2290 L1483.9,2288.1 L1484.9,2286.3 L1485.9,2284.4 L1486.9,2282.5 L1487.9,2280.7 L1488.9,2278.8 L1489.9,2277 L1490.9,2275.2 L1491.9,2273.3 L1492.9,2271.5 L1493.9,2269.8 L1494.9,2268 L1495.9,2266.2 L1496.9,2264.4 L1497.9,2262.7 L1498.9,2261 L1499.9,2259.2 L1500.9,2257.5 L1501.9,2255.8 L1502.9,2254.1 L1503.9,2252.4 L1504.9,2250.7 L1505.9,2249.1 L1506.9,2247.4 L1507.9,2245.8 L1508.9,2244.1 L1509.9,2242.5 L1510.9,2240.9 L1511.9,2239.3 L1512.9,2237.7 L1513.9,2236.1 L1514.9,2234.5 L1515.9,2233 L1516.9,2231.4 L1517.9,2229.9 L1518.9,2228.3 L1519.9,2226.8 L1520.9,2225.3 L1521.9,2223.8 L1522.9,2222.3 L1523.9,2220.8 L1524.9,2219.4 L1525.9,2217.9 L1526.9,2216.5 L1527.9,2215 L1528.9,2213.6 L1529.9,2212.2 L1530.9,2210.8 L1531.9,2209.4 L1532.9,2208 L1533.9,2206.6 L1534.9,2205.2 L1535.9,2203.9 L1536.9,2202.6 L1537.9,2201.2 L1538.9,2199.9 L1539.9,2198.6 L1540.9,2197.3 L1541.9,2196 L1542.9,2194.7 L1543.9,2193.4 L1544.9,2192.2 L1545.9,2190.9 L1546.9,2189.7 L1547.9,2188.5 L1548.9,2187.2 L1549.9,2186 L1550.9,2184.8 L1551.9,2183.6 L1552.9,2182.5 L1553.9,2181.3 L1554.9,2180.1 L1555.9,2179 L1556.9,2177.9 L1557.9,2176.7 L1558.9,2175.6 L1559.9,2174.5 L1560.9,2173.4 L1561.9,2172.3 L1562.9,2171.3 L1563.9,2170.2 L1564.9,2169.1 L1565.9,2168.1 L1566.9,2167.1 L1567.9,2166 L1568.9,2165 L1569.9,2164 L1570.9,2163 L1571.9,2162.1 L1572.9,2161.1 L1573.9,2160.1 L1574.9,2159.2 L1575.9,2158.2 L1576.9,2157.3 L1577.9,2156.4 L1578.9,2155.5 L1579.9,2154.6 L1580.9,2153.7 L1581.9,2152.8 L1582.9,2152 L1583.9,2151.1 L1584.9,2150.3 L1585.9,2149.4 L1586.9,2148.6 L1587.9,2147.8 L1588.9,2147 L1589.9,2146.2 L1590.9,2145.4 L1591.9,2144.7 L1592.9,2143.9 L1593.9,2143.1 L1594.9,2142.4 L1595.9,2141.7 L1596.9,2140.9 L1597.9,2140.2 L1598.9,2139.5 L1599.9,2138.9 L1600.9,2138.2 L1601.9,2137.5 L1602.9,2136.9 L1603.9,2136.2 L1604.9,2135.6 L1605.9,2134.9 L1606.9,2134.3 L1607.9,2133.7 L1608.9,2133.1 L1609.9,2132.5 L1610.9,2132 L1611.9,2131.4 L1612.9,2130.9 L1613.9,2130.3 L1614.9,2129.8 L1615.9,2129.3 L1616.9,2128.7 L1617.9,2128.2 L1618.9,2127.8 L1619.9,2127.3 L1620.9,2126.8 L1621.9,2126.3 L1622.9,2125.9 L1623.9,2125.5 L1624.9,2125 L1625.9,2124.6 L1626.9,2124.2 L1627.9,2123.8 L1628.9,2123.4 L1629.9,2123 L1630.9,2122.7 L1631.9,2122.3 L1632.9,2122 L1633.9,2121.6 L1634.9,2121.3 L1635.9,2121 L1636.9,2120.7 L1637.9,2120.4 L1638.9,2120.1 L1639.9,2119.9 L1640.9,2119.6 L1641.9,2119.3 L1642.9,2119.1 L1643.9,2118.9 L1644.9,2118.7 L1645.9,2118.4 L1646.9,2118.2 L1647.9,2118.1 L1648.9,2117.9 L1649.9,2117.7 L1650.9,2117.6 L1651.9,2117.4 L1652.9,2117.3 L1653.9,2117.1 L1654.9,2117 L1655.9,2116.9 L1656.9,2116.8 L1657.9,2116.7 L1658.9,2116.7 L1659.9,2116.6 L1660.9,2116.6 L1661.9,2116.5 L1662.9,2116.5 L1663.9,2116.5 L1664.9,2116.4 L1665.9,2116.4 L1666.9,2116.5 L1667.9,2116.5 L1668.9,2116.5 L1669.9,2116.5 L1670.9,2116.6 L1671.9,2116.7 L1672.9,2116.7 L1673.9,2116.8 L1674.9,2116.9 L1675.9,2117 L1676.9,2117.1 L1677.9,2117.2 L1678.9,2117.4 L1679.9,2117.5 L1680.9,2117.7 L1681.9,2117.8 L1682.9,2118 L1683.9,2118.2 L1684.9,2118.4 L1685.9,2118.6 L1686.9,2118.8 L1687.9,2119.1 L1688.9,2119.3 L1689.9,2119.5 L1690.9,2119.8 L1691.9,2120.1 L1692.9,2120.3 L1693.9,2120.6 L1694.9,2120.9 L1695.9,2121.3 L1696.9,2121.6 L1697.9,2121.9 L1698.9,2122.2 L1699.9,2122.6 L1700.9,2123 L1701.9,2123.3 L1702.9,2123.7 L1703.9,2124.1 L1704.9,2124.5 L1705.9,2124.9 L1706.9,2125.4 L1707.9,2125.8 L1708.9,2126.2 L1709.9,2126.7 L1710.9,2127.2 L1711.9,2127.6 L1712.9,2128.1 L1713.9,2128.6 L1714.9,2129.1 L1715.9,2129.7 L1716.9,2130.2 L1717.9,2130.7 L1718.9,2131.3 L1719.9,2131.8 L1720.9,2132.4 L1721.9,2133 L1722.9,2133.6 L1723.9,2134.2 L1724.9,2134.8 L1725.9,2135.4 L1726.9,2136.1 L1727.9,2136.7 L1728.9,2137.4 L1729.9,2138 L1730.9,2138.7 L1731.9,2139.4 L1732.9,2140.1 L1733.9,2140.8 L1734.9,2141.5 L1735.9,2142.2 L1736.9,2143 L1737.9,2143.7 L1738.9,2144.5 L1739.9,2145.3 L1740.9,2146 L1741.9,2146.8 L1742.9,2147.6 L1743.9,2148.4 L1744.9,2149.3 L1745.9,2150.1 L1746.9,2150.9 L1747.9,2151.8 L1748.9,2152.6 L1749.9,2153.5 L1750.9,2154.4 L1751.9,2155.3 L1752.9,2156.2 L1753.9,2157.1 L1754.9,2158 L1755.9,2159 L1756.9,2159.9 L1757.9,2160.9 L1758.9,2161.8 L1759.9,2162.8 L1760.9,2163.8 L1761.9,2164.8 L1762.9,2165.8 L1763.9,2166.8 L1764.9,2167.9 L1765.9,2168.9 L1766.9,2170 L1767.9,2171 L1768.9,2172.1 L1769.9,2173.2 L1770.9,2174.3 L1771.9,2175.4 L1772.9,2176.5 L1773.9,2177.6 L1774.9,2178.7 L1775.9,2179.9 L1776.9,2181 L1777.9,2182.2 L1778.9,2183.4 L1779.9,2184.6 L1780.9,2185.8 L1781.9,2187 L1782.9,2188.2 L1783.9,2189.4 L1784.9,2190.6 L1785.9,2191.9 L1786.9,2193.2 L1787.9,2194.4 L1788.9,2195.7 L1789.9,2197 L1790.9,2198.3 L1791.9,2199.6 L1792.9,2200.9 L1793.9,2202.3 L1794.9,2203.6 L1795.9,2204.9 L1796.9,2206.3 L1797.9,2207.7 L1798.9,2209.1 L1799.9,2210.5 L1800.9,2211.9 L1801.9,2213.3 L1802.9,2214.7 L1803.9,2216.1 L1804.9,2217.6 L1805.9,2219 L1806.9,2220.5 L1808,2222" fill="none" stroke="#00f" stroke-width="10" stroke-dasharray="25.4 21.8"/>
</g>
<path d="M284.4,2492.3V1685 M716.6,2492.3V1685 M878.5,2492.3V1685 M949.5,2492.3V1685 M1135.5,2492.3V1685 M1480.6,2492.3V1685 M1557.6,2492.3V1685" stroke="#0f0" stroke-width="6.9" stroke-dasharray="24.8 5.1 13 5.1" fill="none"/>
<path d="M238.1,2292.5H1805" stroke="#000" stroke-width="6.6" stroke-dasharray="6.8 5.2" fill="none"/>
<g fill="#262626"><text transform="translate(183.6,1905.8) scale(1,1.04)" text-anchor="end" font-size="48">10</text><text transform="translate(183,1882.2) scale(1.23,1.04)" font-size="37">-</text><text transform="translate(217.5,1882.2) scale(1,1.04)" text-anchor="end" font-size="37">1</text><text transform="translate(183.6,2102.9) scale(1,1.04)" text-anchor="end" font-size="48">10</text><text transform="translate(183,2079.3) scale(1.23,1.04)" font-size="37">-</text><text transform="translate(217.5,2079.3) scale(1,1.04)" text-anchor="end" font-size="37">2</text><text transform="translate(183.6,2300) scale(1,1.04)" text-anchor="end" font-size="48">10</text><text transform="translate(183,2276.4) scale(1.23,1.04)" font-size="37">-</text><text transform="translate(217.5,2276.4) scale(1,1.04)" text-anchor="end" font-size="37">3</text><text transform="translate(183.6,2497) scale(1,1.04)" text-anchor="end" font-size="48">10</text><text transform="translate(183,2473.4) scale(1.23,1.04)" font-size="37">-</text><text transform="translate(217.5,2473.4) scale(1,1.04)" text-anchor="end" font-size="37">4</text></g>
<text transform="translate(107.2,2088.7) rotate(-90) scale(1,1.02)" text-anchor="middle" font-size="52.8" fill="#262626">Rec. Growth Rate</text>
<text x="1679" y="1783.5" font-size="55" font-weight="bold" fill="#000">c)</text>
<g fill="#262626"><text transform="translate(362.4,2554.5) scale(1,1.04)" text-anchor="middle" font-size="48">Apr 2020</text><text transform="translate(683,2554.5) scale(1,1.04)" text-anchor="middle" font-size="48">Jul 2020</text><text transform="translate(1006.5,2554.5) scale(1,1.04)" text-anchor="middle" font-size="48">Oct 2020</text><text transform="translate(1329.9,2554.5) scale(1,1.04)" text-anchor="middle" font-size="48">Jan 2021</text><text transform="translate(1646.9,2554.5) scale(1,1.04)" text-anchor="middle" font-size="48">Apr 2021</text></g>
</svg></body></html>
